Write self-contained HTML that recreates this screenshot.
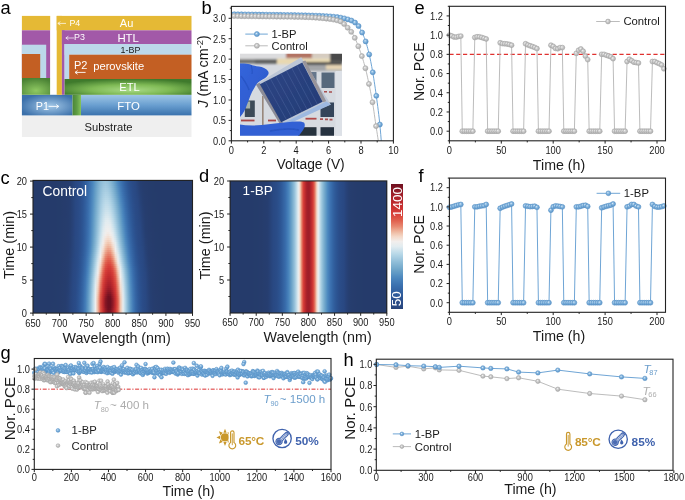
<!DOCTYPE html>
<html><head><meta charset="utf-8"><style>
html,body{margin:0;padding:0;background:#fff;}
body>*{filter:blur(0.3px);}
body{width:685px;height:500px;position:relative;overflow:hidden;font-family:"Liberation Sans", sans-serif;}
.hm{position:absolute;}
.hm div{position:absolute;left:0;width:100%;}
svg{position:absolute;left:0;top:0;}
</style></head><body>
<div class="hm" style="left:33.0px;top:180.4px;width:159.5px;height:132.7px;overflow:hidden"><div style="top:0px;height:2.6px;background:linear-gradient(90deg,#253b6b 0px,#253b6b 2.5px,#253b6b 5px,#253b6b 7.5px,#253b6b 10px,#253b6b 12.5px,#253b6b 15px,#253b6b 17.5px,#253b6b 20px,#253b6b 22.5px,#253c6b 25px,#253c6b 27.5px,#263c6c 30px,#263c6d 32.5px,#263d6e 35px,#263e71 37.5px,#274378 40px,#294882 42.5px,#2a4a86 45px,#2b4e8b 47.5px,#2c5593 50px,#315e9d 52.5px,#3769a8 55px,#4077b3 57.5px,#4c87bf 60px,#619ac5 62.5px,#76abcd 65px,#88b8d5 67.5px,#94c1da 70px,#99c3dc 72.5px,#93c0d9 75px,#86b6d4 77.5px,#73a9cb 80px,#5e98c4 82.5px,#4a85bd 85px,#3e75b2 87.5px,#3667a6 90px,#305c9b 92.5px,#2c5492 95px,#2a4d8a 97.5px,#2a4a85 100px,#294881 102.5px,#274277 105px,#263e70 107.5px,#263d6e 110px,#263c6d 112.5px,#253c6c 115px,#253c6b 117.5px,#253c6b 120px,#253b6b 122.5px,#253b6b 125px,#253b6b 127.5px,#253b6b 130px,#253b6b 132.5px,#253b6b 135px,#253b6b 137.5px,#253b6b 140px,#253b6b 142.5px,#253b6b 145px,#253b6b 147.5px,#253b6b 150px,#253b6b 152.5px,#253b6b 155px,#253b6b 157.5px)"></div><div style="top:2px;height:2.6px;background:linear-gradient(90deg,#253b6b 0px,#253b6b 2.5px,#253b6b 5px,#253b6b 7.5px,#253b6b 10px,#253b6b 12.5px,#253b6b 15px,#253b6b 17.5px,#253b6b 20px,#253b6b 22.5px,#253c6b 25px,#253c6b 27.5px,#263c6c 30px,#263c6d 32.5px,#263d6e 35px,#263e71 37.5px,#274379 40px,#294882 42.5px,#2a4a86 45px,#2b4e8b 47.5px,#2c5593 50px,#315e9d 52.5px,#3769a8 55px,#4077b4 57.5px,#4c88bf 60px,#629bc5 62.5px,#78accd 65px,#8ab9d6 67.5px,#97c2db 70px,#9cc6dd 72.5px,#97c2db 75px,#89b9d5 77.5px,#77abcd 80px,#619bc5 82.5px,#4c87bf 85px,#4077b3 87.5px,#3769a8 90px,#315e9d 92.5px,#2c5593 95px,#2b4e8b 97.5px,#2a4a85 100px,#294882 102.5px,#274378 105px,#263e71 107.5px,#263d6e 110px,#263c6d 112.5px,#263c6c 115px,#253c6b 117.5px,#253c6b 120px,#253b6b 122.5px,#253b6b 125px,#253b6b 127.5px,#253b6b 130px,#253b6b 132.5px,#253b6b 135px,#253b6b 137.5px,#253b6b 140px,#253b6b 142.5px,#253b6b 145px,#253b6b 147.5px,#253b6b 150px,#253b6b 152.5px,#253b6b 155px,#253b6b 157.5px)"></div><div style="top:4px;height:2.6px;background:linear-gradient(90deg,#253b6b 0px,#253b6b 2.5px,#253b6b 5px,#253b6b 7.5px,#253b6b 10px,#253b6b 12.5px,#253b6b 15px,#253b6b 17.5px,#253b6b 20px,#253b6b 22.5px,#253c6b 25px,#253c6b 27.5px,#263c6c 30px,#263c6d 32.5px,#263d6e 35px,#263e71 37.5px,#274379 40px,#294882 42.5px,#2a4a86 45px,#2b4e8b 47.5px,#2c5593 50px,#315e9d 52.5px,#376aa9 55px,#4078b4 57.5px,#4d89bf 60px,#639cc6 62.5px,#79adce 65px,#8cbbd6 67.5px,#9ac4dc 70px,#a0c8de 72.5px,#9bc5dc 75px,#8dbbd7 77.5px,#7aaecf 80px,#659dc6 82.5px,#4e8ac0 85px,#4179b5 87.5px,#376aa9 90px,#315f9e 92.5px,#2d5594 95px,#2b4f8b 97.5px,#2a4b86 100px,#294882 102.5px,#284379 105px,#263f71 107.5px,#263d6e 110px,#263d6d 112.5px,#263c6c 115px,#253c6c 117.5px,#253c6b 120px,#253b6b 122.5px,#253b6b 125px,#253b6b 127.5px,#253b6b 130px,#253b6b 132.5px,#253b6b 135px,#253b6b 137.5px,#253b6b 140px,#253b6b 142.5px,#253b6b 145px,#253b6b 147.5px,#253b6b 150px,#253b6b 152.5px,#253b6b 155px,#253b6b 157.5px)"></div><div style="top:6px;height:2.6px;background:linear-gradient(90deg,#253b6b 0px,#253b6b 2.5px,#253b6b 5px,#253b6b 7.5px,#253b6b 10px,#253b6b 12.5px,#253b6b 15px,#253b6b 17.5px,#253b6b 20px,#253b6b 22.5px,#253c6b 25px,#253c6b 27.5px,#263c6c 30px,#263c6d 32.5px,#263d6e 35px,#263e71 37.5px,#274379 40px,#294882 42.5px,#2a4a86 45px,#2b4e8b 47.5px,#2c5593 50px,#315e9d 52.5px,#376aa9 55px,#4178b4 57.5px,#4e8ac0 60px,#659dc6 62.5px,#7baecf 65px,#8ebcd7 67.5px,#9dc6dd 70px,#a3cae0 72.5px,#9ec7de 75px,#90bed8 77.5px,#7eb1d0 80px,#68a0c7 82.5px,#528dc1 85px,#437bb6 87.5px,#386cab 90px,#32609f 92.5px,#2d5695 95px,#2b4f8c 97.5px,#2a4b86 100px,#294883 102.5px,#28447a 105px,#263f72 107.5px,#263d6f 110px,#263d6d 112.5px,#263c6c 115px,#253c6c 117.5px,#253c6b 120px,#253b6b 122.5px,#253b6b 125px,#253b6b 127.5px,#253b6b 130px,#253b6b 132.5px,#253b6b 135px,#253b6b 137.5px,#253b6b 140px,#253b6b 142.5px,#253b6b 145px,#253b6b 147.5px,#253b6b 150px,#253b6b 152.5px,#253b6b 155px,#253b6b 157.5px)"></div><div style="top:8px;height:2.6px;background:linear-gradient(90deg,#253b6b 0px,#253b6b 2.5px,#253b6b 5px,#253b6b 7.5px,#253b6b 10px,#253b6b 12.5px,#253b6b 15px,#253b6b 17.5px,#253b6b 20px,#253b6b 22.5px,#253c6b 25px,#253c6b 27.5px,#263c6c 30px,#263c6d 32.5px,#263d6e 35px,#263e71 37.5px,#274379 40px,#294882 42.5px,#2a4a86 45px,#2b4e8b 47.5px,#2c5594 50px,#315f9e 52.5px,#376aa9 55px,#4179b5 57.5px,#4f8bc0 60px,#669fc7 62.5px,#7cb0d0 65px,#90bed8 67.5px,#a0c8de 70px,#a6cce1 72.5px,#a2cadf 75px,#94c1da 77.5px,#82b3d2 80px,#6ba3c8 82.5px,#5590c2 85px,#447db8 87.5px,#396dac 90px,#3361a0 92.5px,#2d5796 95px,#2b508d 97.5px,#2a4b87 100px,#294983 102.5px,#28447b 105px,#263f73 107.5px,#263d6f 110px,#263d6d 112.5px,#263c6c 115px,#253c6c 117.5px,#253c6b 120px,#253b6b 122.5px,#253b6b 125px,#253b6b 127.5px,#253b6b 130px,#253b6b 132.5px,#253b6b 135px,#253b6b 137.5px,#253b6b 140px,#253b6b 142.5px,#253b6b 145px,#253b6b 147.5px,#253b6b 150px,#253b6b 152.5px,#253b6b 155px,#253b6b 157.5px)"></div><div style="top:10px;height:2.6px;background:linear-gradient(90deg,#253b6b 0px,#253b6b 2.5px,#253b6b 5px,#253b6b 7.5px,#253b6b 10px,#253b6b 12.5px,#253b6b 15px,#253b6b 17.5px,#253b6b 20px,#253b6b 22.5px,#253c6b 25px,#253c6b 27.5px,#263c6c 30px,#263c6d 32.5px,#263d6e 35px,#263e71 37.5px,#274379 40px,#294882 42.5px,#2a4a86 45px,#2b4e8b 47.5px,#2c5594 50px,#315f9e 52.5px,#376aa9 55px,#4179b5 57.5px,#508bc0 60px,#67a0c7 62.5px,#7eb1d0 65px,#92bfd9 67.5px,#a2cadf 70px,#a9cee2 72.5px,#a6cce1 75px,#98c3dc 77.5px,#85b6d3 80px,#6fa6ca 82.5px,#5892c2 85px,#467fb9 87.5px,#3a6ead 90px,#3363a2 92.5px,#2e5897 95px,#2b518e 97.5px,#2a4b87 100px,#294983 102.5px,#28457c 105px,#274073 107.5px,#263d6f 110px,#263d6d 112.5px,#263c6c 115px,#253c6c 117.5px,#253c6b 120px,#253b6b 122.5px,#253b6b 125px,#253b6b 127.5px,#253b6b 130px,#253b6b 132.5px,#253b6b 135px,#253b6b 137.5px,#253b6b 140px,#253b6b 142.5px,#253b6b 145px,#253b6b 147.5px,#253b6b 150px,#253b6b 152.5px,#253b6b 155px,#253b6b 157.5px)"></div><div style="top:12px;height:2.6px;background:linear-gradient(90deg,#253b6b 0px,#253b6b 2.5px,#253b6b 5px,#253b6b 7.5px,#253b6b 10px,#253b6b 12.5px,#253b6b 15px,#253b6b 17.5px,#253b6b 20px,#253b6b 22.5px,#253c6b 25px,#253c6b 27.5px,#263c6c 30px,#263c6d 32.5px,#263d6e 35px,#263e71 37.5px,#274379 40px,#294882 42.5px,#2a4a86 45px,#2b4e8b 47.5px,#2d5594 50px,#315f9e 52.5px,#386aa9 55px,#427ab5 57.5px,#518cc0 60px,#68a0c7 62.5px,#80b2d1 65px,#94c0da 67.5px,#a5cce1 70px,#add1e4 72.5px,#aacfe2 75px,#9dc6dd 77.5px,#89b9d5 80px,#73a8cb 82.5px,#5b95c3 85px,#4782bb 87.5px,#3b70af 90px,#3464a3 92.5px,#2e5998 95px,#2b518f 97.5px,#2a4c87 100px,#294984 102.5px,#28457d 105px,#274074 107.5px,#263e6f 110px,#263d6d 112.5px,#263c6c 115px,#253c6c 117.5px,#253c6b 120px,#253c6b 122.5px,#253b6b 125px,#253b6b 127.5px,#253b6b 130px,#253b6b 132.5px,#253b6b 135px,#253b6b 137.5px,#253b6b 140px,#253b6b 142.5px,#253b6b 145px,#253b6b 147.5px,#253b6b 150px,#253b6b 152.5px,#253b6b 155px,#253b6b 157.5px)"></div><div style="top:14px;height:2.6px;background:linear-gradient(90deg,#253b6b 0px,#253b6b 2.5px,#253b6b 5px,#253b6b 7.5px,#253b6b 10px,#253b6b 12.5px,#253b6b 15px,#253b6b 17.5px,#253b6b 20px,#253b6b 22.5px,#253c6b 25px,#253c6b 27.5px,#263c6c 30px,#263c6d 32.5px,#263d6e 35px,#263e71 37.5px,#274379 40px,#294882 42.5px,#2a4a86 45px,#2b4e8b 47.5px,#2d5594 50px,#315f9e 52.5px,#386baa 55px,#427ab6 57.5px,#528dc1 60px,#69a1c7 62.5px,#81b3d2 65px,#96c2db 67.5px,#a8cde2 70px,#b0d3e5 72.5px,#add1e4 75px,#a1c9df 77.5px,#8dbbd7 80px,#76abcd 82.5px,#5e98c4 85px,#4984bc 87.5px,#3c72b0 90px,#3565a4 92.5px,#2f5a99 95px,#2c5290 97.5px,#2a4c88 100px,#294984 102.5px,#28467e 105px,#274175 107.5px,#263e6f 110px,#263d6e 112.5px,#263c6c 115px,#253c6c 117.5px,#253c6b 120px,#253c6b 122.5px,#253b6b 125px,#253b6b 127.5px,#253b6b 130px,#253b6b 132.5px,#253b6b 135px,#253b6b 137.5px,#253b6b 140px,#253b6b 142.5px,#253b6b 145px,#253b6b 147.5px,#253b6b 150px,#253b6b 152.5px,#253b6b 155px,#253b6b 157.5px)"></div><div style="top:16px;height:2.6px;background:linear-gradient(90deg,#253b6b 0px,#253b6b 2.5px,#253b6b 5px,#253b6b 7.5px,#253b6b 10px,#253b6b 12.5px,#253b6b 15px,#253b6b 17.5px,#253b6b 20px,#253b6b 22.5px,#253c6b 25px,#253c6b 27.5px,#263c6c 30px,#263c6d 32.5px,#263d6e 35px,#263e71 37.5px,#274379 40px,#294882 42.5px,#2a4a86 45px,#2b4f8b 47.5px,#2d5594 50px,#315f9e 52.5px,#386baa 55px,#427bb6 57.5px,#528ec1 60px,#6aa2c8 62.5px,#83b4d2 65px,#98c3dc 67.5px,#aacfe3 70px,#b3d5e6 72.5px,#b1d4e5 75px,#a5cbe0 77.5px,#91bed8 80px,#7aaecf 82.5px,#629bc5 85px,#4b86be 87.5px,#3e74b2 90px,#3567a6 92.5px,#2f5b9a 95px,#2c5391 97.5px,#2a4c88 100px,#294a84 102.5px,#29467f 105px,#274176 107.5px,#263e70 110px,#263d6e 112.5px,#263c6d 115px,#253c6c 117.5px,#253c6b 120px,#253c6b 122.5px,#253b6b 125px,#253b6b 127.5px,#253b6b 130px,#253b6b 132.5px,#253b6b 135px,#253b6b 137.5px,#253b6b 140px,#253b6b 142.5px,#253b6b 145px,#253b6b 147.5px,#253b6b 150px,#253b6b 152.5px,#253b6b 155px,#253b6b 157.5px)"></div><div style="top:18px;height:2.6px;background:linear-gradient(90deg,#253b6b 0px,#253b6b 2.5px,#253b6b 5px,#253b6b 7.5px,#253b6b 10px,#253b6b 12.5px,#253b6b 15px,#253b6b 17.5px,#253b6b 20px,#253b6b 22.5px,#253c6b 25px,#253c6b 27.5px,#263c6c 30px,#263c6d 32.5px,#263d6e 35px,#263e71 37.5px,#274379 40px,#294882 42.5px,#2a4a86 45px,#2b4f8b 47.5px,#2d5594 50px,#315f9e 52.5px,#386baa 55px,#437bb6 57.5px,#538ec1 60px,#6ba3c8 62.5px,#84b5d3 65px,#9bc5dc 67.5px,#add1e4 70px,#b6d7e7 72.5px,#b5d6e7 75px,#a9cee2 77.5px,#95c1da 80px,#7eb1d0 82.5px,#659ec6 85px,#4d89bf 87.5px,#3f76b3 90px,#3668a7 92.5px,#305c9b 95px,#2c5392 97.5px,#2a4d89 100px,#294a85 102.5px,#294780 105px,#274276 107.5px,#263e70 110px,#263d6e 112.5px,#263c6d 115px,#253c6c 117.5px,#253c6b 120px,#253c6b 122.5px,#253b6b 125px,#253b6b 127.5px,#253b6b 130px,#253b6b 132.5px,#253b6b 135px,#253b6b 137.5px,#253b6b 140px,#253b6b 142.5px,#253b6b 145px,#253b6b 147.5px,#253b6b 150px,#253b6b 152.5px,#253b6b 155px,#253b6b 157.5px)"></div><div style="top:20px;height:2.6px;background:linear-gradient(90deg,#253b6b 0px,#253b6b 2.5px,#253b6b 5px,#253b6b 7.5px,#253b6b 10px,#253b6b 12.5px,#253b6b 15px,#253b6b 17.5px,#253b6b 20px,#253b6b 22.5px,#253c6b 25px,#253c6b 27.5px,#263c6c 30px,#263c6d 32.5px,#263d6e 35px,#263e71 37.5px,#274379 40px,#294882 42.5px,#2a4a86 45px,#2b4f8b 47.5px,#2d5594 50px,#325f9e 52.5px,#386baa 55px,#437bb6 57.5px,#548fc1 60px,#6ca4c9 62.5px,#85b6d4 65px,#9dc6dd 67.5px,#b0d2e5 70px,#bad9e8 72.5px,#b9d8e8 75px,#add1e4 77.5px,#99c4dc 80px,#82b3d2 82.5px,#69a1c7 85px,#508bc0 87.5px,#4179b5 90px,#3769a8 92.5px,#315e9d 95px,#2c5492 97.5px,#2a4e8a 100px,#2a4a85 102.5px,#294881 105px,#274277 107.5px,#263e70 110px,#263d6e 112.5px,#263c6d 115px,#253c6c 117.5px,#253c6b 120px,#253c6b 122.5px,#253b6b 125px,#253b6b 127.5px,#253b6b 130px,#253b6b 132.5px,#253b6b 135px,#253b6b 137.5px,#253b6b 140px,#253b6b 142.5px,#253b6b 145px,#253b6b 147.5px,#253b6b 150px,#253b6b 152.5px,#253b6b 155px,#253b6b 157.5px)"></div><div style="top:22px;height:2.6px;background:linear-gradient(90deg,#253b6b 0px,#253b6b 2.5px,#253b6b 5px,#253b6b 7.5px,#253b6b 10px,#253b6b 12.5px,#253b6b 15px,#253b6b 17.5px,#253b6b 20px,#253b6b 22.5px,#253c6b 25px,#253c6b 27.5px,#263c6c 30px,#263c6d 32.5px,#263d6e 35px,#263e71 37.5px,#274379 40px,#294882 42.5px,#2a4a86 45px,#2b4f8b 47.5px,#2d5594 50px,#325f9e 52.5px,#386baa 55px,#437cb7 57.5px,#558fc1 60px,#6ea5c9 62.5px,#87b7d4 65px,#9fc7de 67.5px,#b2d4e6 70px,#bddbe9 72.5px,#bddae9 75px,#b1d4e5 77.5px,#9dc7de 80px,#85b6d4 82.5px,#6ca4c8 85px,#538ec1 87.5px,#437bb6 90px,#386baa 92.5px,#315f9e 95px,#2c5593 97.5px,#2b4e8b 100px,#2a4a85 102.5px,#294882 105px,#274278 107.5px,#263e70 110px,#263d6e 112.5px,#263c6d 115px,#263c6c 117.5px,#253c6b 120px,#253c6b 122.5px,#253b6b 125px,#253b6b 127.5px,#253b6b 130px,#253b6b 132.5px,#253b6b 135px,#253b6b 137.5px,#253b6b 140px,#253b6b 142.5px,#253b6b 145px,#253b6b 147.5px,#253b6b 150px,#253b6b 152.5px,#253b6b 155px,#253b6b 157.5px)"></div><div style="top:24px;height:2.6px;background:linear-gradient(90deg,#253b6b 0px,#253b6b 2.5px,#253b6b 5px,#253b6b 7.5px,#253b6b 10px,#253b6b 12.5px,#253b6b 15px,#253b6b 17.5px,#253b6b 20px,#253b6b 22.5px,#253c6b 25px,#253c6b 27.5px,#263c6c 30px,#263c6d 32.5px,#263d6e 35px,#263e71 37.5px,#274379 40px,#294882 42.5px,#2a4a86 45px,#2b4f8b 47.5px,#2d5594 50px,#32609f 52.5px,#386cab 55px,#447cb7 57.5px,#5590c2 60px,#6fa6ca 62.5px,#88b8d5 65px,#a1c9df 67.5px,#b5d6e7 70px,#c1dcea 72.5px,#c1dcea 75px,#b5d6e7 77.5px,#a2c9df 80px,#89b9d5 82.5px,#70a6ca 85px,#5691c2 87.5px,#447db7 90px,#386cab 92.5px,#32609f 95px,#2d5694 97.5px,#2b4f8c 100px,#2a4b86 102.5px,#294882 105px,#274379 107.5px,#263f71 110px,#263d6e 112.5px,#263c6d 115px,#263c6c 117.5px,#253c6b 120px,#253c6b 122.5px,#253b6b 125px,#253b6b 127.5px,#253b6b 130px,#253b6b 132.5px,#253b6b 135px,#253b6b 137.5px,#253b6b 140px,#253b6b 142.5px,#253b6b 145px,#253b6b 147.5px,#253b6b 150px,#253b6b 152.5px,#253b6b 155px,#253b6b 157.5px)"></div><div style="top:26px;height:2.6px;background:linear-gradient(90deg,#253b6b 0px,#253b6b 2.5px,#253b6b 5px,#253b6b 7.5px,#253b6b 10px,#253b6b 12.5px,#253b6b 15px,#253b6b 17.5px,#253b6b 20px,#253b6b 22.5px,#253c6b 25px,#253c6b 27.5px,#263c6c 30px,#263c6d 32.5px,#263d6e 35px,#263e71 37.5px,#274379 40px,#294882 42.5px,#2a4a86 45px,#2b4f8b 47.5px,#2d5694 50px,#32609f 52.5px,#386cab 55px,#447db7 57.5px,#5691c2 60px,#70a6ca 62.5px,#8ab9d5 65px,#a3cae0 67.5px,#b7d7e8 70px,#c4deea 72.5px,#c5deea 75px,#b9d9e8 77.5px,#a5cce1 80px,#8dbbd7 82.5px,#73a9cb 85px,#5993c3 87.5px,#457fb9 90px,#396dac 92.5px,#3261a0 95px,#2d5695 97.5px,#2b4f8c 100px,#2a4b86 102.5px,#294883 105px,#28437a 107.5px,#263f72 110px,#263d6f 112.5px,#263d6d 115px,#263c6c 117.5px,#253c6c 120px,#253c6b 122.5px,#253b6b 125px,#253b6b 127.5px,#253b6b 130px,#253b6b 132.5px,#253b6b 135px,#253b6b 137.5px,#253b6b 140px,#253b6b 142.5px,#253b6b 145px,#253b6b 147.5px,#253b6b 150px,#253b6b 152.5px,#253b6b 155px,#253b6b 157.5px)"></div><div style="top:28px;height:2.6px;background:linear-gradient(90deg,#253b6b 0px,#253b6b 2.5px,#253b6b 5px,#253b6b 7.5px,#253b6b 10px,#253b6b 12.5px,#253b6b 15px,#253b6b 17.5px,#253b6b 20px,#253b6b 22.5px,#253c6b 25px,#253c6b 27.5px,#263c6c 30px,#263c6d 32.5px,#263d6e 35px,#263e71 37.5px,#274379 40px,#294882 42.5px,#2a4a86 45px,#2b4f8b 47.5px,#2d5694 50px,#32609f 52.5px,#386cab 55px,#447db8 57.5px,#5792c2 60px,#71a7cb 62.5px,#8bbad6 65px,#a5cbe0 67.5px,#bad9e8 70px,#c7dfeb 72.5px,#c8e0eb 75px,#bddae9 77.5px,#a9cee2 80px,#90bed8 82.5px,#76abcd 85px,#5c96c4 87.5px,#4781ba 90px,#3a6fae 92.5px,#3362a1 95px,#2d5796 97.5px,#2b508d 100px,#2a4b86 102.5px,#294983 105px,#28447a 107.5px,#263f72 110px,#263d6f 112.5px,#263d6d 115px,#263c6c 117.5px,#253c6c 120px,#253c6b 122.5px,#253b6b 125px,#253b6b 127.5px,#253b6b 130px,#253b6b 132.5px,#253b6b 135px,#253b6b 137.5px,#253b6b 140px,#253b6b 142.5px,#253b6b 145px,#253b6b 147.5px,#253b6b 150px,#253b6b 152.5px,#253b6b 155px,#253b6b 157.5px)"></div><div style="top:30px;height:2.6px;background:linear-gradient(90deg,#253b6b 0px,#253b6b 2.5px,#253b6b 5px,#253b6b 7.5px,#253b6b 10px,#253b6b 12.5px,#253b6b 15px,#253b6b 17.5px,#253b6b 20px,#253b6b 22.5px,#253c6b 25px,#253c6b 27.5px,#263c6c 30px,#263c6d 32.5px,#263d6e 35px,#263f71 37.5px,#274379 40px,#294882 42.5px,#2a4b86 45px,#2b4f8c 47.5px,#2d5694 50px,#32609f 52.5px,#396cab 55px,#457eb8 57.5px,#5892c2 60px,#72a8cb 62.5px,#8dbbd7 65px,#a7cde1 67.5px,#bddae9 70px,#cbe1ec 72.5px,#cce2ec 75px,#c1ddea 77.5px,#add1e4 80px,#93c0da 82.5px,#79adce 85px,#5f98c4 87.5px,#4883bb 90px,#3b70af 92.5px,#3463a2 95px,#2e5897 97.5px,#2b508e 100px,#2a4b87 102.5px,#294983 105px,#28447b 107.5px,#264073 110px,#263d6f 112.5px,#263d6d 115px,#263c6c 117.5px,#253c6c 120px,#253c6b 122.5px,#253b6b 125px,#253b6b 127.5px,#253b6b 130px,#253b6b 132.5px,#253b6b 135px,#253b6b 137.5px,#253b6b 140px,#253b6b 142.5px,#253b6b 145px,#253b6b 147.5px,#253b6b 150px,#253b6b 152.5px,#253b6b 155px,#253b6b 157.5px)"></div><div style="top:32px;height:2.6px;background:linear-gradient(90deg,#253b6b 0px,#253b6b 2.5px,#253b6b 5px,#253b6b 7.5px,#253b6b 10px,#253b6b 12.5px,#253b6b 15px,#253b6b 17.5px,#253b6b 20px,#253b6b 22.5px,#253c6b 25px,#253c6b 27.5px,#263c6c 30px,#263c6d 32.5px,#263d6e 35px,#263f71 37.5px,#274379 40px,#294882 42.5px,#2a4b86 45px,#2b4f8c 47.5px,#2d5695 50px,#32609f 52.5px,#396dac 55px,#457eb8 57.5px,#5993c3 60px,#73a9cc 62.5px,#8ebcd7 65px,#a9cee2 67.5px,#c0dcea 70px,#cfe3ec 72.5px,#d1e4ed 75px,#c6dfeb 77.5px,#b1d3e5 80px,#97c2db 82.5px,#7cafd0 85px,#619ac5 87.5px,#4984bc 90px,#3c72b0 92.5px,#3464a3 95px,#2e5998 97.5px,#2b518e 100px,#2a4b87 102.5px,#294983 105px,#28457c 107.5px,#274073 110px,#263d6f 112.5px,#263d6d 115px,#263c6c 117.5px,#253c6c 120px,#253c6b 122.5px,#253b6b 125px,#253b6b 127.5px,#253b6b 130px,#253b6b 132.5px,#253b6b 135px,#253b6b 137.5px,#253b6b 140px,#253b6b 142.5px,#253b6b 145px,#253b6b 147.5px,#253b6b 150px,#253b6b 152.5px,#253b6b 155px,#253b6b 157.5px)"></div><div style="top:34px;height:2.6px;background:linear-gradient(90deg,#253b6b 0px,#253b6b 2.5px,#253b6b 5px,#253b6b 7.5px,#253b6b 10px,#253b6b 12.5px,#253b6b 15px,#253b6b 17.5px,#253b6b 20px,#253b6b 22.5px,#253c6b 25px,#253c6b 27.5px,#263c6c 30px,#263c6d 32.5px,#263d6e 35px,#263f71 37.5px,#274379 40px,#294882 42.5px,#2a4b86 45px,#2b4f8c 47.5px,#2d5695 50px,#3261a0 52.5px,#396dac 55px,#457fb9 57.5px,#5a94c3 60px,#75aacc 62.5px,#90bdd8 65px,#acd0e3 67.5px,#c3ddea 70px,#d3e5ed 72.5px,#d5e6ee 75px,#cbe1ec 77.5px,#b5d6e7 80px,#9bc5dc 82.5px,#7fb2d1 85px,#649dc6 87.5px,#4b86be 90px,#3d73b1 92.5px,#3565a4 95px,#2e5a99 97.5px,#2c528f 100px,#2a4c87 102.5px,#294984 105px,#28457d 107.5px,#274074 110px,#263e6f 112.5px,#263d6d 115px,#263c6c 117.5px,#253c6c 120px,#253c6b 122.5px,#253c6b 125px,#253b6b 127.5px,#253b6b 130px,#253b6b 132.5px,#253b6b 135px,#253b6b 137.5px,#253b6b 140px,#253b6b 142.5px,#253b6b 145px,#253b6b 147.5px,#253b6b 150px,#253b6b 152.5px,#253b6b 155px,#253b6b 157.5px)"></div><div style="top:36px;height:2.6px;background:linear-gradient(90deg,#253b6b 0px,#253b6b 2.5px,#253b6b 5px,#253b6b 7.5px,#253b6b 10px,#253b6b 12.5px,#253b6b 15px,#253b6b 17.5px,#253b6b 20px,#253b6b 22.5px,#253c6b 25px,#253c6c 27.5px,#263c6c 30px,#263c6d 32.5px,#263d6e 35px,#263f71 37.5px,#284379 40px,#294882 42.5px,#2a4b86 45px,#2b4f8c 47.5px,#2d5695 50px,#3261a0 52.5px,#396dac 55px,#467fb9 57.5px,#5a95c3 60px,#76abcd 62.5px,#91bfd9 65px,#aed1e4 67.5px,#c7dfeb 70px,#d7e7ee 72.5px,#dae8ee 75px,#cfe3ec 77.5px,#b9d9e8 80px,#9fc7de 82.5px,#82b4d2 85px,#669fc7 87.5px,#4c88bf 90px,#3e75b2 92.5px,#3566a5 95px,#2f5a99 97.5px,#2c5290 100px,#2a4c88 102.5px,#294984 105px,#28467e 107.5px,#274074 110px,#263e6f 112.5px,#263d6e 115px,#263c6c 117.5px,#253c6c 120px,#253c6b 122.5px,#253c6b 125px,#253b6b 127.5px,#253b6b 130px,#253b6b 132.5px,#253b6b 135px,#253b6b 137.5px,#253b6b 140px,#253b6b 142.5px,#253b6b 145px,#253b6b 147.5px,#253b6b 150px,#253b6b 152.5px,#253b6b 155px,#253b6b 157.5px)"></div><div style="top:38px;height:2.6px;background:linear-gradient(90deg,#253b6b 0px,#253b6b 2.5px,#253b6b 5px,#253b6b 7.5px,#253b6b 10px,#253b6b 12.5px,#253b6b 15px,#253b6b 17.5px,#253b6b 20px,#253b6b 22.5px,#253c6b 25px,#253c6c 27.5px,#263c6c 30px,#263d6d 32.5px,#263d6e 35px,#263f71 37.5px,#284379 40px,#294883 42.5px,#2a4b86 45px,#2b4f8c 47.5px,#2d5695 50px,#3261a0 52.5px,#396dac 55px,#4680b9 57.5px,#5b95c3 60px,#77accd 62.5px,#93c0d9 65px,#b0d3e5 67.5px,#cae1eb 70px,#dbe9ef 72.5px,#dfeaef 75px,#d4e5ed 77.5px,#bedbe9 80px,#a2cadf 82.5px,#85b6d3 85px,#69a1c7 87.5px,#4e8ac0 90px,#3f76b3 92.5px,#3667a6 95px,#2f5b9a 97.5px,#2c5390 100px,#2a4c88 102.5px,#294984 105px,#28467e 107.5px,#274175 110px,#263e6f 112.5px,#263d6e 115px,#263c6d 117.5px,#253c6c 120px,#253c6b 122.5px,#253c6b 125px,#253b6b 127.5px,#253b6b 130px,#253b6b 132.5px,#253b6b 135px,#253b6b 137.5px,#253b6b 140px,#253b6b 142.5px,#253b6b 145px,#253b6b 147.5px,#253b6b 150px,#253b6b 152.5px,#253b6b 155px,#253b6b 157.5px)"></div><div style="top:40px;height:2.6px;background:linear-gradient(90deg,#253b6b 0px,#253b6b 2.5px,#253b6b 5px,#253b6b 7.5px,#253b6b 10px,#253b6b 12.5px,#253b6b 15px,#253b6b 17.5px,#253b6b 20px,#253b6b 22.5px,#253c6b 25px,#253c6c 27.5px,#263c6c 30px,#263d6d 32.5px,#263d6e 35px,#263f71 37.5px,#284379 40px,#294883 42.5px,#2a4b86 45px,#2b4f8c 47.5px,#2d5695 50px,#3261a0 52.5px,#396ead 55px,#4680ba 57.5px,#5c96c4 60px,#78acce 62.5px,#95c1da 65px,#b3d4e6 67.5px,#cde2ec 70px,#dfebef 72.5px,#e3ecf0 75px,#d9e8ee 77.5px,#c3ddea 80px,#a6cce1 82.5px,#88b8d5 85px,#6ca3c8 87.5px,#508cc0 90px,#4078b4 92.5px,#3668a7 95px,#305c9b 97.5px,#2c5391 100px,#2a4d89 102.5px,#294a84 105px,#29467f 107.5px,#274176 110px,#263e70 112.5px,#263d6e 115px,#263c6d 117.5px,#253c6c 120px,#253c6b 122.5px,#253c6b 125px,#253b6b 127.5px,#253b6b 130px,#253b6b 132.5px,#253b6b 135px,#253b6b 137.5px,#253b6b 140px,#253b6b 142.5px,#253b6b 145px,#253b6b 147.5px,#253b6b 150px,#253b6b 152.5px,#253b6b 155px,#253b6b 157.5px)"></div><div style="top:42px;height:2.6px;background:linear-gradient(90deg,#253b6b 0px,#253b6b 2.5px,#253b6b 5px,#253b6b 7.5px,#253b6b 10px,#253b6b 12.5px,#253b6b 15px,#253b6b 17.5px,#253b6b 20px,#253b6b 22.5px,#253c6b 25px,#253c6c 27.5px,#263c6c 30px,#263d6d 32.5px,#263d6e 35px,#263f71 37.5px,#284379 40px,#294883 42.5px,#2a4b86 45px,#2b4f8c 47.5px,#2d5695 50px,#3361a0 52.5px,#396ead 55px,#4780ba 57.5px,#5d97c4 60px,#79adce 62.5px,#97c2db 65px,#b5d6e7 67.5px,#d1e4ed 70px,#e3ecf0 72.5px,#e5ecef 75px,#deeaef 77.5px,#c7dfeb 80px,#aacfe3 82.5px,#8cbad6 85px,#6ea5c9 87.5px,#538ec1 90px,#4179b5 92.5px,#3769a8 95px,#305d9c 97.5px,#2c5492 100px,#2a4d89 102.5px,#294a85 105px,#294780 107.5px,#274176 110px,#263e70 112.5px,#263d6e 115px,#263c6d 117.5px,#253c6c 120px,#253c6b 122.5px,#253c6b 125px,#253b6b 127.5px,#253b6b 130px,#253b6b 132.5px,#253b6b 135px,#253b6b 137.5px,#253b6b 140px,#253b6b 142.5px,#253b6b 145px,#253b6b 147.5px,#253b6b 150px,#253b6b 152.5px,#253b6b 155px,#253b6b 157.5px)"></div><div style="top:44px;height:2.6px;background:linear-gradient(90deg,#253b6b 0px,#253b6b 2.5px,#253b6b 5px,#253b6b 7.5px,#253b6b 10px,#253b6b 12.5px,#253b6b 15px,#253b6b 17.5px,#253b6b 20px,#253b6b 22.5px,#253c6b 25px,#253c6c 27.5px,#263c6c 30px,#263d6d 32.5px,#263d6e 35px,#263f71 37.5px,#284379 40px,#294883 42.5px,#2a4b86 45px,#2b4f8c 47.5px,#2d5795 50px,#3361a0 52.5px,#3a6ead 55px,#4781ba 57.5px,#5e97c4 60px,#7aaecf 62.5px,#98c3db 65px,#b7d7e8 67.5px,#d4e5ed 70px,#e5ecef 72.5px,#e8edee 75px,#e3ecf0 77.5px,#cce2ec 80px,#aed2e4 82.5px,#8fbdd8 85px,#71a7cb 87.5px,#5590c2 90px,#437bb6 92.5px,#376aa9 95px,#315e9d 97.5px,#2c5492 100px,#2a4d8a 102.5px,#294a85 105px,#294781 107.5px,#274277 110px,#263e70 112.5px,#263d6e 115px,#263c6d 117.5px,#253c6c 120px,#253c6b 122.5px,#253c6b 125px,#253b6b 127.5px,#253b6b 130px,#253b6b 132.5px,#253b6b 135px,#253b6b 137.5px,#253b6b 140px,#253b6b 142.5px,#253b6b 145px,#253b6b 147.5px,#253b6b 150px,#253b6b 152.5px,#253b6b 155px,#253b6b 157.5px)"></div><div style="top:46px;height:2.6px;background:linear-gradient(90deg,#253b6b 0px,#253b6b 2.5px,#253b6b 5px,#253b6b 7.5px,#253b6b 10px,#253b6b 12.5px,#253b6b 15px,#253b6b 17.5px,#253b6b 20px,#253b6b 22.5px,#253c6b 25px,#253c6c 27.5px,#263c6c 30px,#263d6d 32.5px,#263d6e 35px,#263f71 37.5px,#284379 40px,#294883 42.5px,#2a4b86 45px,#2b4f8c 47.5px,#2d5796 50px,#3362a1 52.5px,#3a6ead 55px,#4781ba 57.5px,#5e98c4 60px,#7bafcf 62.5px,#9ac4dc 65px,#bad9e8 67.5px,#d8e7ee 70px,#e8edef 72.5px,#ebedee 75px,#e6ecef 77.5px,#d1e4ed 80px,#b2d4e6 82.5px,#92bfd9 85px,#74aacc 87.5px,#5892c2 90px,#447db7 92.5px,#386baa 95px,#315f9e 97.5px,#2c5593 100px,#2b4e8a 102.5px,#2a4a85 105px,#294882 107.5px,#274277 110px,#263e70 112.5px,#263d6e 115px,#263c6d 117.5px,#253c6c 120px,#253c6b 122.5px,#253c6b 125px,#253b6b 127.5px,#253b6b 130px,#253b6b 132.5px,#253b6b 135px,#253b6b 137.5px,#253b6b 140px,#253b6b 142.5px,#253b6b 145px,#253b6b 147.5px,#253b6b 150px,#253b6b 152.5px,#253b6b 155px,#253b6b 157.5px)"></div><div style="top:48px;height:2.6px;background:linear-gradient(90deg,#253b6b 0px,#253b6b 2.5px,#253b6b 5px,#253b6b 7.5px,#253b6b 10px,#253b6b 12.5px,#253b6b 15px,#253b6b 17.5px,#253b6b 20px,#253b6b 22.5px,#253c6b 25px,#253c6c 27.5px,#263c6c 30px,#263d6d 32.5px,#263d6e 35px,#263f72 37.5px,#28437a 40px,#294883 42.5px,#2a4b86 45px,#2b4f8c 47.5px,#2d5796 50px,#3362a1 52.5px,#3a6fae 55px,#4782bb 57.5px,#5f99c5 60px,#7cafd0 62.5px,#9cc5dd 65px,#bcdae9 67.5px,#dbe9ef 70px,#eaedee 72.5px,#eeeeed 75px,#e9edee 77.5px,#d6e7ee 80px,#b7d7e7 82.5px,#96c1da 85px,#77accd 87.5px,#5a94c3 90px,#457eb8 92.5px,#396cab 95px,#32609f 97.5px,#2d5594 100px,#2b4e8b 102.5px,#2a4a85 105px,#294882 107.5px,#274278 110px,#263e70 112.5px,#263d6e 115px,#263c6d 117.5px,#263c6c 120px,#253c6b 122.5px,#253c6b 125px,#253b6b 127.5px,#253b6b 130px,#253b6b 132.5px,#253b6b 135px,#253b6b 137.5px,#253b6b 140px,#253b6b 142.5px,#253b6b 145px,#253b6b 147.5px,#253b6b 150px,#253b6b 152.5px,#253b6b 155px,#253b6b 157.5px)"></div><div style="top:50px;height:2.6px;background:linear-gradient(90deg,#253b6b 0px,#253b6b 2.5px,#253b6b 5px,#253b6b 7.5px,#253b6b 10px,#253b6b 12.5px,#253b6b 15px,#253b6b 17.5px,#253b6b 20px,#253b6b 22.5px,#253c6b 25px,#253c6c 27.5px,#263c6c 30px,#263d6d 32.5px,#263d6e 35px,#263f72 37.5px,#28437a 40px,#294883 42.5px,#2a4b86 45px,#2b508d 47.5px,#2d5796 50px,#3362a1 52.5px,#3a6fae 55px,#4882bb 57.5px,#6099c5 60px,#7eb0d0 62.5px,#9dc6dd 65px,#bfdbe9 67.5px,#dfebef 70px,#ededed 72.5px,#f2eeec 75px,#eceded 77.5px,#dce9ef 80px,#bbdae9 82.5px,#9ac4dc 85px,#7aaecf 87.5px,#5d97c4 90px,#4680ba 92.5px,#396dac 95px,#3261a0 97.5px,#2d5695 100px,#2b4f8c 102.5px,#2a4b86 105px,#294882 107.5px,#274379 110px,#263e71 112.5px,#263d6e 115px,#263c6d 117.5px,#263c6c 120px,#253c6b 122.5px,#253c6b 125px,#253b6b 127.5px,#253b6b 130px,#253b6b 132.5px,#253b6b 135px,#253b6b 137.5px,#253b6b 140px,#253b6b 142.5px,#253b6b 145px,#253b6b 147.5px,#253b6b 150px,#253b6b 152.5px,#253b6b 155px,#253b6b 157.5px)"></div><div style="top:52px;height:2.6px;background:linear-gradient(90deg,#253b6b 0px,#253b6b 2.5px,#253b6b 5px,#253b6b 7.5px,#253b6b 10px,#253b6b 12.5px,#253b6b 15px,#253b6b 17.5px,#253b6b 20px,#253b6b 22.5px,#253c6b 25px,#253c6c 27.5px,#263c6c 30px,#263d6d 32.5px,#263d6f 35px,#263f72 37.5px,#28437a 40px,#294883 42.5px,#2a4b86 45px,#2b508d 47.5px,#2d5796 50px,#3362a1 52.5px,#3a6fae 55px,#4883bb 57.5px,#619ac5 60px,#7fb1d1 62.5px,#9fc8de 65px,#c2ddea 67.5px,#e3ecf0 70px,#f0eeec 72.5px,#f2eae5 75px,#f0eeed 77.5px,#e2ecf0 80px,#c1dcea 82.5px,#9ec7de 85px,#7db0d0 87.5px,#5f99c5 90px,#4882bb 92.5px,#3a6fae 95px,#3362a1 97.5px,#2d5795 100px,#2b4f8c 102.5px,#2a4b86 105px,#294883 107.5px,#284379 110px,#263f71 112.5px,#263d6e 115px,#263d6d 117.5px,#263c6c 120px,#253c6c 122.5px,#253c6b 125px,#253b6b 127.5px,#253b6b 130px,#253b6b 132.5px,#253b6b 135px,#253b6b 137.5px,#253b6b 140px,#253b6b 142.5px,#253b6b 145px,#253b6b 147.5px,#253b6b 150px,#253b6b 152.5px,#253b6b 155px,#253b6b 157.5px)"></div><div style="top:54px;height:2.6px;background:linear-gradient(90deg,#253b6b 0px,#253b6b 2.5px,#253b6b 5px,#253b6b 7.5px,#253b6b 10px,#253b6b 12.5px,#253b6b 15px,#253b6b 17.5px,#253b6b 20px,#253b6b 22.5px,#253c6b 25px,#253c6c 27.5px,#263c6c 30px,#263d6d 32.5px,#263d6f 35px,#263f72 37.5px,#28437a 40px,#294883 42.5px,#2a4b86 45px,#2b508d 47.5px,#2d5796 50px,#3362a1 52.5px,#3a70ae 55px,#4983bc 57.5px,#629bc5 60px,#80b2d1 62.5px,#a2c9df 65px,#c5deeb 67.5px,#e5ecef 70px,#f2ece9 72.5px,#f3e5dd 75px,#f2ece8 77.5px,#e6ecef 80px,#c6dfeb 82.5px,#a2cadf 85px,#81b3d2 87.5px,#629cc6 90px,#4984bc 92.5px,#3b70af 95px,#3363a2 97.5px,#2d5796 100px,#2b508d 102.5px,#2a4b86 105px,#294983 107.5px,#28447a 110px,#263f72 112.5px,#263d6f 115px,#263d6d 117.5px,#263c6c 120px,#253c6c 122.5px,#253c6b 125px,#253b6b 127.5px,#253b6b 130px,#253b6b 132.5px,#253b6b 135px,#253b6b 137.5px,#253b6b 140px,#253b6b 142.5px,#253b6b 145px,#253b6b 147.5px,#253b6b 150px,#253b6b 152.5px,#253b6b 155px,#253b6b 157.5px)"></div><div style="top:56px;height:2.6px;background:linear-gradient(90deg,#253b6b 0px,#253b6b 2.5px,#253b6b 5px,#253b6b 7.5px,#253b6b 10px,#253b6b 12.5px,#253b6b 15px,#253b6b 17.5px,#253b6b 20px,#253b6b 22.5px,#253c6b 25px,#253c6c 27.5px,#263c6c 30px,#263d6d 32.5px,#263d6f 35px,#263f72 37.5px,#28447a 40px,#294983 42.5px,#2a4b86 45px,#2b508d 47.5px,#2d5796 50px,#3363a2 52.5px,#3b70af 55px,#4984bc 57.5px,#639cc6 60px,#82b3d2 62.5px,#a4cbe0 65px,#c9e0eb 67.5px,#e8edee 70px,#f3e7e1 72.5px,#f3dfd3 75px,#f3e6de 77.5px,#eaedee 80px,#cde2ec 82.5px,#a7cde1 85px,#85b6d3 87.5px,#669ec6 90px,#4a86bd 92.5px,#3c72b0 95px,#3464a3 97.5px,#2e5897 100px,#2b508e 102.5px,#2a4b87 105px,#294983 107.5px,#28447b 110px,#263f72 112.5px,#263d6f 115px,#263d6d 117.5px,#263c6c 120px,#253c6c 122.5px,#253c6b 125px,#253b6b 127.5px,#253b6b 130px,#253b6b 132.5px,#253b6b 135px,#253b6b 137.5px,#253b6b 140px,#253b6b 142.5px,#253b6b 145px,#253b6b 147.5px,#253b6b 150px,#253b6b 152.5px,#253b6b 155px,#253b6b 157.5px)"></div><div style="top:58px;height:2.6px;background:linear-gradient(90deg,#253b6b 0px,#253b6b 2.5px,#253b6b 5px,#253b6b 7.5px,#253b6b 10px,#253b6b 12.5px,#253b6b 15px,#253b6b 17.5px,#253b6b 20px,#253b6b 22.5px,#253c6b 25px,#253c6c 27.5px,#263c6c 30px,#263d6d 32.5px,#263d6f 35px,#263f72 37.5px,#28447a 40px,#294983 42.5px,#2a4b86 45px,#2b508d 47.5px,#2d5796 50px,#3363a2 52.5px,#3b71af 55px,#4a85bd 57.5px,#649dc6 60px,#84b5d3 62.5px,#a6cce1 65px,#cde2ec 67.5px,#ebedee 70px,#f3e2d8 72.5px,#f4d9c9 75px,#f3dfd4 77.5px,#eeeeed 80px,#d3e5ed 82.5px,#acd0e3 85px,#89b8d5 87.5px,#69a1c7 90px,#4c88bf 92.5px,#3d74b1 95px,#3565a4 97.5px,#2e5998 100px,#2b518e 102.5px,#2a4b87 105px,#294983 107.5px,#28457c 110px,#274073 112.5px,#263d6f 115px,#263d6d 117.5px,#263c6c 120px,#253c6c 122.5px,#253c6b 125px,#253b6b 127.5px,#253b6b 130px,#253b6b 132.5px,#253b6b 135px,#253b6b 137.5px,#253b6b 140px,#253b6b 142.5px,#253b6b 145px,#253b6b 147.5px,#253b6b 150px,#253b6b 152.5px,#253b6b 155px,#253b6b 157.5px)"></div><div style="top:60px;height:2.6px;background:linear-gradient(90deg,#253b6b 0px,#253b6b 2.5px,#253b6b 5px,#253b6b 7.5px,#253b6b 10px,#253b6b 12.5px,#253b6b 15px,#253b6b 17.5px,#253b6b 20px,#253b6b 22.5px,#253c6b 25px,#253c6c 27.5px,#263c6c 30px,#263d6d 32.5px,#263d6f 35px,#263f72 37.5px,#28447a 40px,#294983 42.5px,#2a4b87 45px,#2b508d 47.5px,#2d5897 50px,#3463a2 52.5px,#3c71af 55px,#4a85bd 57.5px,#659ec6 60px,#85b6d4 62.5px,#a9cee2 65px,#d1e4ed 67.5px,#eeeeed 70px,#f4dccf 72.5px,#f3d0bd 75px,#f4d9c9 77.5px,#f2edeb 80px,#dae8ef 82.5px,#b2d4e6 85px,#8dbbd7 87.5px,#6ca4c9 90px,#4f8bc0 92.5px,#3f76b3 95px,#3566a5 97.5px,#2f5a99 100px,#2c528f 102.5px,#2a4c87 105px,#294984 107.5px,#28457d 110px,#274074 112.5px,#263e6f 115px,#263d6d 117.5px,#263c6c 120px,#253c6c 122.5px,#253c6b 125px,#253c6b 127.5px,#253b6b 130px,#253b6b 132.5px,#253b6b 135px,#253b6b 137.5px,#253b6b 140px,#253b6b 142.5px,#253b6b 145px,#253b6b 147.5px,#253b6b 150px,#253b6b 152.5px,#253b6b 155px,#253b6b 157.5px)"></div><div style="top:62px;height:2.6px;background:linear-gradient(90deg,#253b6b 0px,#253b6b 2.5px,#253b6b 5px,#253b6b 7.5px,#253b6b 10px,#253b6b 12.5px,#253b6b 15px,#253b6b 17.5px,#253b6b 20px,#253b6b 22.5px,#253c6b 25px,#253c6c 27.5px,#263c6c 30px,#263d6d 32.5px,#263d6f 35px,#263f72 37.5px,#28447a 40px,#294983 42.5px,#2a4b87 45px,#2b508d 47.5px,#2e5897 50px,#3464a3 52.5px,#3c72b0 55px,#4b86be 57.5px,#679fc7 60px,#87b7d4 62.5px,#acd0e3 65px,#d5e6ee 67.5px,#f1eeec 70px,#f4d6c5 72.5px,#f1c6b0 75px,#f2cfbc 77.5px,#f3e7e0 80px,#e2ecf0 82.5px,#b8d8e8 85px,#91bfd9 87.5px,#70a7ca 90px,#528dc1 92.5px,#4078b4 95px,#3667a6 97.5px,#2f5b9a 100px,#2c5290 102.5px,#2a4c88 105px,#294984 107.5px,#28467e 110px,#274074 112.5px,#263e6f 115px,#263d6e 117.5px,#263c6c 120px,#253c6c 122.5px,#253c6b 125px,#253c6b 127.5px,#253b6b 130px,#253b6b 132.5px,#253b6b 135px,#253b6b 137.5px,#253b6b 140px,#253b6b 142.5px,#253b6b 145px,#253b6b 147.5px,#253b6b 150px,#253b6b 152.5px,#253b6b 155px,#253b6b 157.5px)"></div><div style="top:64px;height:2.6px;background:linear-gradient(90deg,#253b6b 0px,#253b6b 2.5px,#253b6b 5px,#253b6b 7.5px,#253b6b 10px,#253b6b 12.5px,#253b6b 15px,#253b6b 17.5px,#253b6b 20px,#253b6b 22.5px,#253c6b 25px,#253c6c 27.5px,#263c6c 30px,#263d6d 32.5px,#263d6f 35px,#263f72 37.5px,#28447b 40px,#294983 42.5px,#2a4b87 45px,#2b508e 47.5px,#2e5897 50px,#3464a3 52.5px,#3d73b0 55px,#4b87be 57.5px,#69a1c7 60px,#8ab9d5 62.5px,#afd2e5 65px,#dae8ee 67.5px,#f2eae6 70px,#f2ceba 72.5px,#efbba3 75px,#f1c5af 77.5px,#f3e0d5 80px,#e6ecef 82.5px,#bedbe9 85px,#96c2db 87.5px,#74aacc 90px,#5590c2 92.5px,#427ab5 95px,#3769a8 97.5px,#305c9b 100px,#2c5391 102.5px,#2a4c88 105px,#294984 107.5px,#28467e 110px,#274175 112.5px,#263e6f 115px,#263d6e 117.5px,#263c6d 120px,#253c6c 122.5px,#253c6b 125px,#253c6b 127.5px,#253b6b 130px,#253b6b 132.5px,#253b6b 135px,#253b6b 137.5px,#253b6b 140px,#253b6b 142.5px,#253b6b 145px,#253b6b 147.5px,#253b6b 150px,#253b6b 152.5px,#253b6b 155px,#253b6b 157.5px)"></div><div style="top:66px;height:2.6px;background:linear-gradient(90deg,#253b6b 0px,#253b6b 2.5px,#253b6b 5px,#253b6b 7.5px,#253b6b 10px,#253b6b 12.5px,#253b6b 15px,#253b6b 17.5px,#253b6b 20px,#253b6b 22.5px,#253c6b 25px,#253c6c 27.5px,#263c6c 30px,#263d6d 32.5px,#263d6f 35px,#263f73 37.5px,#28447b 40px,#294983 42.5px,#2a4b87 45px,#2b518e 47.5px,#2e5998 50px,#3465a4 52.5px,#3d74b1 55px,#4d89bf 57.5px,#6ba3c8 60px,#8cbbd7 62.5px,#b3d5e6 65px,#dfeaef 67.5px,#f3e5de 70px,#f1c5af 72.5px,#edaf97 75px,#efb9a1 77.5px,#f4dacb 80px,#eaedee 82.5px,#c4deea 85px,#9bc5dd 87.5px,#78acce 90px,#5993c3 92.5px,#437cb7 95px,#376aa9 97.5px,#305d9c 100px,#2c5492 102.5px,#2a4d89 105px,#294a85 107.5px,#29477f 110px,#274176 112.5px,#263e70 115px,#263d6e 117.5px,#263c6d 120px,#253c6c 122.5px,#253c6b 125px,#253c6b 127.5px,#253b6b 130px,#253b6b 132.5px,#253b6b 135px,#253b6b 137.5px,#253b6b 140px,#253b6b 142.5px,#253b6b 145px,#253b6b 147.5px,#253b6b 150px,#253b6b 152.5px,#253b6b 155px,#253b6b 157.5px)"></div><div style="top:68px;height:2.6px;background:linear-gradient(90deg,#253b6b 0px,#253b6b 2.5px,#253b6b 5px,#253b6b 7.5px,#253b6b 10px,#253b6b 12.5px,#253b6b 15px,#253b6b 17.5px,#253b6b 20px,#253b6b 22.5px,#253c6b 25px,#253c6c 27.5px,#263c6c 30px,#263d6d 32.5px,#263d6f 35px,#264073 37.5px,#28447b 40px,#294983 42.5px,#2a4b87 45px,#2b518e 47.5px,#2e5998 50px,#3565a4 52.5px,#3e75b2 55px,#4f8ac0 57.5px,#6da5c9 60px,#90bdd8 62.5px,#b7d8e8 65px,#e3ecf0 67.5px,#f3e0d6 70px,#efbba3 72.5px,#eba189 75px,#edac94 77.5px,#f3d1be 80px,#eeeeed 82.5px,#cbe1ec 85px,#a1c9df 87.5px,#7cafd0 90px,#5c96c4 92.5px,#457eb8 95px,#386baa 97.5px,#315e9d 100px,#2c5493 102.5px,#2a4d8a 105px,#294a85 107.5px,#294780 110px,#274176 112.5px,#263e70 115px,#263d6e 117.5px,#263c6d 120px,#253c6c 122.5px,#253c6b 125px,#253c6b 127.5px,#253b6b 130px,#253b6b 132.5px,#253b6b 135px,#253b6b 137.5px,#253b6b 140px,#253b6b 142.5px,#253b6b 145px,#253b6b 147.5px,#253b6b 150px,#253b6b 152.5px,#253b6b 155px,#253b6b 157.5px)"></div><div style="top:70px;height:2.6px;background:linear-gradient(90deg,#253b6b 0px,#253b6b 2.5px,#253b6b 5px,#253b6b 7.5px,#253b6b 10px,#253b6b 12.5px,#253b6b 15px,#253b6b 17.5px,#253b6b 20px,#253b6b 22.5px,#253c6b 25px,#253c6c 27.5px,#263c6c 30px,#263d6d 32.5px,#263d6f 35px,#274073 37.5px,#28457c 40px,#294983 42.5px,#2a4c87 45px,#2b518f 47.5px,#2f5a99 50px,#3566a5 52.5px,#3f76b3 55px,#518cc0 57.5px,#70a7ca 60px,#93c0d9 62.5px,#bcdae9 65px,#e7edef 67.5px,#f4dbcc 70px,#edaf97 72.5px,#e9947c 75px,#eb9d85 77.5px,#f1c7b1 80px,#f2ecea 82.5px,#d2e5ed 85px,#a7cde1 87.5px,#81b3d1 90px,#5f99c5 92.5px,#4680ba 95px,#396dac 97.5px,#32609f 100px,#2c5593 102.5px,#2b4e8a 105px,#2a4a85 107.5px,#294881 110px,#274277 112.5px,#263e70 115px,#263d6e 117.5px,#263c6d 120px,#253c6c 122.5px,#253c6b 125px,#253c6b 127.5px,#253b6b 130px,#253b6b 132.5px,#253b6b 135px,#253b6b 137.5px,#253b6b 140px,#253b6b 142.5px,#253b6b 145px,#253b6b 147.5px,#253b6b 150px,#253b6b 152.5px,#253b6b 155px,#253b6b 157.5px)"></div><div style="top:72px;height:2.6px;background:linear-gradient(90deg,#253b6b 0px,#253b6b 2.5px,#253b6b 5px,#253b6b 7.5px,#253b6b 10px,#253b6b 12.5px,#253b6b 15px,#253b6b 17.5px,#253b6b 20px,#253b6b 22.5px,#253c6b 25px,#253c6c 27.5px,#263c6c 30px,#263d6d 32.5px,#263d6f 35px,#274073 37.5px,#28457c 40px,#294984 42.5px,#2a4c87 45px,#2c528f 47.5px,#2f5b9a 50px,#3667a6 52.5px,#4078b4 55px,#538ec1 57.5px,#74a9cc 60px,#98c3db 62.5px,#c2ddea 65px,#eaedee 67.5px,#f3d3c2 70px,#eba28a 72.5px,#e7866f 75px,#e98f77 77.5px,#efbba3 80px,#f3e6df 82.5px,#dae8ee 85px,#add0e3 87.5px,#85b6d3 90px,#639cc6 92.5px,#4883bb 95px,#3a6ead 97.5px,#3261a0 100px,#2d5694 102.5px,#2b4e8b 105px,#2a4a85 107.5px,#294882 110px,#274278 112.5px,#263e70 115px,#263d6e 117.5px,#263c6d 120px,#253c6c 122.5px,#253c6b 125px,#253c6b 127.5px,#253b6b 130px,#253b6b 132.5px,#253b6b 135px,#253b6b 137.5px,#253b6b 140px,#253b6b 142.5px,#253b6b 145px,#253b6b 147.5px,#253b6b 150px,#253b6b 152.5px,#253b6b 155px,#253b6b 157.5px)"></div><div style="top:74px;height:2.6px;background:linear-gradient(90deg,#253b6b 0px,#253b6b 2.5px,#253b6b 5px,#253b6b 7.5px,#253b6b 10px,#253b6b 12.5px,#253b6b 15px,#253b6b 17.5px,#253b6b 20px,#253c6b 22.5px,#253c6b 25px,#253c6c 27.5px,#263c6c 30px,#263d6d 32.5px,#263e6f 35px,#274074 37.5px,#28457d 40px,#294984 42.5px,#2a4c88 45px,#2c5290 47.5px,#2f5b9a 50px,#3668a7 52.5px,#4179b5 55px,#5691c2 57.5px,#77accd 60px,#9cc6dd 62.5px,#c8e0eb 65px,#eeeeed 67.5px,#f2cab6 70px,#e9947c 72.5px,#e57a64 75px,#e6816b 77.5px,#edac94 80px,#f3dfd4 82.5px,#e2ecf0 85px,#b3d5e6 87.5px,#8ab9d6 90px,#67a0c7 92.5px,#4a85bd 95px,#3b70af 97.5px,#3362a1 100px,#2d5695 102.5px,#2b4f8c 105px,#2a4b86 107.5px,#294882 110px,#274378 112.5px,#263e71 115px,#263d6e 117.5px,#263c6d 120px,#263c6c 122.5px,#253c6b 125px,#253c6b 127.5px,#253b6b 130px,#253b6b 132.5px,#253b6b 135px,#253b6b 137.5px,#253b6b 140px,#253b6b 142.5px,#253b6b 145px,#253b6b 147.5px,#253b6b 150px,#253b6b 152.5px,#253b6b 155px,#253b6b 157.5px)"></div><div style="top:76px;height:2.6px;background:linear-gradient(90deg,#253b6b 0px,#253b6b 2.5px,#253b6b 5px,#253b6b 7.5px,#253b6b 10px,#253b6b 12.5px,#253b6b 15px,#253b6b 17.5px,#253b6b 20px,#253c6b 22.5px,#253c6b 25px,#253c6c 27.5px,#263c6c 30px,#263d6d 32.5px,#263e6f 35px,#274074 37.5px,#28457d 40px,#294984 42.5px,#2a4c88 45px,#2c5391 47.5px,#305c9b 50px,#3769a8 52.5px,#437bb6 55px,#5993c3 57.5px,#7aaecf 60px,#a1c9df 62.5px,#cee2ec 65px,#f2eeeb 67.5px,#f0c1aa 70px,#e7876f 72.5px,#e36d59 75px,#e47560 77.5px,#eb9d85 80px,#f4d8c8 82.5px,#e6edef 85px,#b9d9e8 87.5px,#8fbdd8 90px,#6ba3c8 92.5px,#4c88bf 95px,#3c72b0 97.5px,#3463a2 100px,#2d5796 102.5px,#2b508d 105px,#2a4b86 107.5px,#294883 110px,#284379 112.5px,#263f71 115px,#263d6e 117.5px,#263c6d 120px,#263c6c 122.5px,#253c6b 125px,#253c6b 127.5px,#253b6b 130px,#253b6b 132.5px,#253b6b 135px,#253b6b 137.5px,#253b6b 140px,#253b6b 142.5px,#253b6b 145px,#253b6b 147.5px,#253b6b 150px,#253b6b 152.5px,#253b6b 155px,#253b6b 157.5px)"></div><div style="top:78px;height:2.6px;background:linear-gradient(90deg,#253b6b 0px,#253b6b 2.5px,#253b6b 5px,#253b6b 7.5px,#253b6b 10px,#253b6b 12.5px,#253b6b 15px,#253b6b 17.5px,#253b6b 20px,#253c6b 22.5px,#253c6b 25px,#253c6c 27.5px,#263c6c 30px,#263d6e 32.5px,#263e6f 35px,#274175 37.5px,#28467e 40px,#294984 42.5px,#2a4c88 45px,#2c5391 47.5px,#305d9c 50px,#376aa9 52.5px,#447db7 55px,#5b95c3 57.5px,#7eb1d0 60px,#a5cce1 62.5px,#d4e5ed 65px,#f3e8e2 67.5px,#eeb59d 70px,#e57b65 72.5px,#e1614f 75px,#e26854 77.5px,#e98e76 80px,#f2cebb 82.5px,#ebedee 85px,#c0dcea 87.5px,#94c0da 90px,#6fa6ca 92.5px,#4f8ac0 95px,#3e74b1 97.5px,#3464a3 100px,#2e5897 102.5px,#2b508d 105px,#2a4b86 107.5px,#294983 110px,#28437a 112.5px,#263f72 115px,#263d6e 117.5px,#263d6d 120px,#263c6c 122.5px,#253c6c 125px,#253c6b 127.5px,#253b6b 130px,#253b6b 132.5px,#253b6b 135px,#253b6b 137.5px,#253b6b 140px,#253b6b 142.5px,#253b6b 145px,#253b6b 147.5px,#253b6b 150px,#253b6b 152.5px,#253b6b 155px,#253b6b 157.5px)"></div><div style="top:80px;height:2.6px;background:linear-gradient(90deg,#253b6b 0px,#253b6b 2.5px,#253b6b 5px,#253b6b 7.5px,#253b6b 10px,#253b6b 12.5px,#253b6b 15px,#253b6b 17.5px,#253b6b 20px,#253c6b 22.5px,#253c6b 25px,#253c6c 27.5px,#263c6c 30px,#263d6e 32.5px,#263e6f 35px,#274175 37.5px,#28467f 40px,#294a84 42.5px,#2a4d89 45px,#2c5492 47.5px,#315e9d 50px,#386baa 52.5px,#457eb8 55px,#5e98c4 57.5px,#81b3d2 60px,#aacfe2 62.5px,#dae8ee 65px,#f3e3da 67.5px,#eda991 70px,#e3705b 72.5px,#de5748 75px,#df5c4b 77.5px,#e6816a 80px,#f1c4ad 82.5px,#efeeed 85px,#c7dfeb 87.5px,#9ac4dc 90px,#74a9cc 92.5px,#528dc1 95px,#3f76b3 97.5px,#3566a5 100px,#2e5998 102.5px,#2b518e 105px,#2a4b87 107.5px,#294983 110px,#28447b 112.5px,#263f72 115px,#263d6f 117.5px,#263d6d 120px,#263c6c 122.5px,#253c6c 125px,#253c6b 127.5px,#253b6b 130px,#253b6b 132.5px,#253b6b 135px,#253b6b 137.5px,#253b6b 140px,#253b6b 142.5px,#253b6b 145px,#253b6b 147.5px,#253b6b 150px,#253b6b 152.5px,#253b6b 155px,#253b6b 157.5px)"></div><div style="top:82px;height:2.6px;background:linear-gradient(90deg,#253b6b 0px,#253b6b 2.5px,#253b6b 5px,#253b6b 7.5px,#253b6b 10px,#253b6b 12.5px,#253b6b 15px,#253b6b 17.5px,#253b6b 20px,#253c6b 22.5px,#253c6b 25px,#253c6c 27.5px,#263c6d 30px,#263d6e 32.5px,#263e6f 35px,#274175 37.5px,#29467f 40px,#294a84 42.5px,#2a4d89 45px,#2c5492 47.5px,#315e9d 50px,#386cab 52.5px,#4680b9 55px,#619ac5 57.5px,#85b5d3 60px,#afd2e4 62.5px,#e0ebf0 65px,#f4ddd1 67.5px,#eb9c84 70px,#e16351 72.5px,#dc4e42 75px,#dd5245 77.5px,#e4735e 80px,#eeb69e 82.5px,#f2ebe7 85px,#cfe3ec 87.5px,#a0c8de 90px,#78acce 92.5px,#5691c2 95px,#4178b4 97.5px,#3667a6 100px,#2f5a99 102.5px,#2b518f 105px,#2a4b87 107.5px,#294983 110px,#28447b 112.5px,#264073 115px,#263d6f 117.5px,#263d6d 120px,#263c6c 122.5px,#253c6c 125px,#253c6b 127.5px,#253b6b 130px,#253b6b 132.5px,#253b6b 135px,#253b6b 137.5px,#253b6b 140px,#253b6b 142.5px,#253b6b 145px,#253b6b 147.5px,#253b6b 150px,#253b6b 152.5px,#253b6b 155px,#253b6b 157.5px)"></div><div style="top:84px;height:2.6px;background:linear-gradient(90deg,#253b6b 0px,#253b6b 2.5px,#253b6b 5px,#253b6b 7.5px,#253b6b 10px,#253b6b 12.5px,#253b6b 15px,#253b6b 17.5px,#253b6b 20px,#253c6b 22.5px,#253c6b 25px,#253c6c 27.5px,#263c6d 30px,#263d6e 32.5px,#263e70 35px,#274176 37.5px,#294780 40px,#294a85 42.5px,#2a4d8a 45px,#2c5493 47.5px,#315f9e 50px,#396dac 52.5px,#4781ba 55px,#639cc6 57.5px,#88b8d5 60px,#b3d5e6 62.5px,#e4ecef 65px,#f4d7c7 67.5px,#e98f77 70px,#df5949 72.5px,#d9443d 75px,#da483f 77.5px,#e16552 80px,#eca68e 82.5px,#f3e4db 85px,#d7e7ee 87.5px,#a6cce1 90px,#7db0d0 92.5px,#5a94c3 95px,#437bb6 97.5px,#3668a7 100px,#2f5b9a 102.5px,#2c5290 105px,#2a4c88 107.5px,#294984 110px,#28457c 112.5px,#274073 115px,#263d6f 117.5px,#263d6d 120px,#263c6c 122.5px,#253c6c 125px,#253c6b 127.5px,#253b6b 130px,#253b6b 132.5px,#253b6b 135px,#253b6b 137.5px,#253b6b 140px,#253b6b 142.5px,#253b6b 145px,#253b6b 147.5px,#253b6b 150px,#253b6b 152.5px,#253b6b 155px,#253b6b 157.5px)"></div><div style="top:86px;height:2.6px;background:linear-gradient(90deg,#253b6b 0px,#253b6b 2.5px,#253b6b 5px,#253b6b 7.5px,#253b6b 10px,#253b6b 12.5px,#253b6b 15px,#253b6b 17.5px,#253b6b 20px,#253c6b 22.5px,#253c6b 25px,#253c6c 27.5px,#263c6d 30px,#263d6e 32.5px,#263e70 35px,#274176 37.5px,#294780 40px,#294a85 42.5px,#2a4e8a 45px,#2c5593 47.5px,#32609f 50px,#396ead 52.5px,#4883bc 55px,#669fc7 57.5px,#8bbad6 60px,#b8d8e8 62.5px,#e8edef 65px,#f3cfbc 67.5px,#e7836c 70px,#dc5144 72.5px,#d63e39 75px,#d73f39 77.5px,#df5949 80px,#ea967e 82.5px,#f4ddcf 85px,#dfeaef 87.5px,#acd0e3 90px,#82b3d2 92.5px,#5e97c4 95px,#447db8 97.5px,#376aa9 100px,#305d9c 102.5px,#2c5391 105px,#2a4c88 107.5px,#294984 110px,#28457d 112.5px,#274074 115px,#263e6f 117.5px,#263d6d 120px,#263c6c 122.5px,#253c6c 125px,#253c6b 127.5px,#253c6b 130px,#253b6b 132.5px,#253b6b 135px,#253b6b 137.5px,#253b6b 140px,#253b6b 142.5px,#253b6b 145px,#253b6b 147.5px,#253b6b 150px,#253b6b 152.5px,#253b6b 155px,#253b6b 157.5px)"></div><div style="top:88px;height:2.6px;background:linear-gradient(90deg,#253b6b 0px,#253b6b 2.5px,#253b6b 5px,#253b6b 7.5px,#253b6b 10px,#253b6b 12.5px,#253b6b 15px,#253b6b 17.5px,#253b6b 20px,#253c6b 22.5px,#253c6b 25px,#253c6c 27.5px,#263c6d 30px,#263d6e 32.5px,#263e70 35px,#274276 37.5px,#294781 40px,#2a4a85 42.5px,#2b4e8a 45px,#2d5594 47.5px,#32609f 50px,#3a6fae 52.5px,#4985bd 55px,#69a1c7 57.5px,#8fbdd8 60px,#bddae9 62.5px,#ebedee 65px,#f1c7b1 67.5px,#e57963 70px,#da483f 72.5px,#d13936 75px,#d33b37 77.5px,#dc4f43 80px,#e7876f 82.5px,#f3d5c3 85px,#e4ecef 87.5px,#b3d4e6 90px,#87b7d4 92.5px,#619bc5 95px,#4680b9 97.5px,#386baa 100px,#315e9d 102.5px,#2c5492 105px,#2a4d89 107.5px,#294984 110px,#28467e 112.5px,#274175 115px,#263e6f 117.5px,#263d6e 120px,#263c6c 122.5px,#253c6c 125px,#253c6b 127.5px,#253c6b 130px,#253b6b 132.5px,#253b6b 135px,#253b6b 137.5px,#253b6b 140px,#253b6b 142.5px,#253b6b 145px,#253b6b 147.5px,#253b6b 150px,#253b6b 152.5px,#253b6b 155px,#253b6b 157.5px)"></div><div style="top:90px;height:2.6px;background:linear-gradient(90deg,#253b6b 0px,#253b6b 2.5px,#253b6b 5px,#253b6b 7.5px,#253b6b 10px,#253b6b 12.5px,#253b6b 15px,#253b6b 17.5px,#253b6b 20px,#253c6b 22.5px,#253c6b 25px,#253c6c 27.5px,#263c6d 30px,#263d6e 32.5px,#263e70 35px,#274277 37.5px,#294881 40px,#2a4a85 42.5px,#2b4e8b 45px,#2d5694 47.5px,#3361a0 50px,#3a70ae 52.5px,#4b86be 55px,#6ba3c8 57.5px,#92bfd9 60px,#c2ddea 62.5px,#eeeeed 65px,#f0bfa7 67.5px,#e36e5a 70px,#d8403a 72.5px,#cd3533 75px,#ce3634 77.5px,#da463e 80px,#e57b65 82.5px,#f2cbb7 85px,#e9edee 87.5px,#b8d8e8 90px,#8bbad6 92.5px,#659dc6 95px,#4782bb 97.5px,#396dac 100px,#315f9e 102.5px,#2c5492 105px,#2a4d89 107.5px,#294a84 110px,#28467f 112.5px,#274175 115px,#263e6f 117.5px,#263d6e 120px,#263c6d 122.5px,#253c6c 125px,#253c6b 127.5px,#253c6b 130px,#253b6b 132.5px,#253b6b 135px,#253b6b 137.5px,#253b6b 140px,#253b6b 142.5px,#253b6b 145px,#253b6b 147.5px,#253b6b 150px,#253b6b 152.5px,#253b6b 155px,#253b6b 157.5px)"></div><div style="top:92px;height:2.6px;background:linear-gradient(90deg,#253b6b 0px,#253b6b 2.5px,#253b6b 5px,#253b6b 7.5px,#253b6b 10px,#253b6b 12.5px,#253b6b 15px,#253b6b 17.5px,#253b6b 20px,#253c6b 22.5px,#253c6b 25px,#253c6c 27.5px,#263c6d 30px,#263d6e 32.5px,#263e70 35px,#274277 37.5px,#294882 40px,#2a4a85 42.5px,#2b4f8b 45px,#2d5695 47.5px,#3362a1 50px,#3b71af 52.5px,#4c88bf 55px,#6ea5c9 57.5px,#96c2db 60px,#c7dfeb 62.5px,#f2eeec 65px,#eeb49c 67.5px,#e16451 70px,#d43c38 72.5px,#c93131 75px,#ca3232 77.5px,#d73f39 80px,#e3715c 82.5px,#f1c3ac 85px,#ecedee 87.5px,#bddbe9 90px,#8ebcd7 92.5px,#68a0c7 95px,#4983bc 97.5px,#396ead 100px,#32609f 102.5px,#2c5593 105px,#2a4d8a 107.5px,#294a85 110px,#294780 112.5px,#274176 115px,#263e70 117.5px,#263d6e 120px,#263c6d 122.5px,#253c6c 125px,#253c6b 127.5px,#253c6b 130px,#253b6b 132.5px,#253b6b 135px,#253b6b 137.5px,#253b6b 140px,#253b6b 142.5px,#253b6b 145px,#253b6b 147.5px,#253b6b 150px,#253b6b 152.5px,#253b6b 155px,#253b6b 157.5px)"></div><div style="top:94px;height:2.6px;background:linear-gradient(90deg,#253b6b 0px,#253b6b 2.5px,#253b6b 5px,#253b6b 7.5px,#253b6b 10px,#253b6b 12.5px,#253b6b 15px,#253b6b 17.5px,#253b6b 20px,#253c6b 22.5px,#253c6b 25px,#253c6c 27.5px,#263c6d 30px,#263d6e 32.5px,#263e70 35px,#274278 37.5px,#294882 40px,#2a4a86 42.5px,#2b4f8c 45px,#2d5796 47.5px,#3363a2 50px,#3c72b0 52.5px,#4e8ac0 55px,#71a7cb 57.5px,#9ac4dc 60px,#cce1ec 62.5px,#f2eae6 65px,#edaa92 67.5px,#df5b4a 70px,#d13935 72.5px,#c42e2f 75px,#c62f30 77.5px,#d43c37 80px,#e26754 82.5px,#efbaa2 85px,#efeeed 87.5px,#c2ddea 90px,#92bfd9 92.5px,#6aa2c8 95px,#4a85bd 97.5px,#3a6fae 100px,#32609f 102.5px,#2c5594 105px,#2a4e8a 107.5px,#294a85 110px,#294780 112.5px,#274176 115px,#263e70 117.5px,#263d6e 120px,#263c6d 122.5px,#253c6c 125px,#253c6b 127.5px,#253c6b 130px,#253b6b 132.5px,#253b6b 135px,#253b6b 137.5px,#253b6b 140px,#253b6b 142.5px,#253b6b 145px,#253b6b 147.5px,#253b6b 150px,#253b6b 152.5px,#253b6b 155px,#253b6b 157.5px)"></div><div style="top:96px;height:2.6px;background:linear-gradient(90deg,#253b6b 0px,#253b6b 2.5px,#253b6b 5px,#253b6b 7.5px,#253b6b 10px,#253b6b 12.5px,#253b6b 15px,#253b6b 17.5px,#253b6b 20px,#253c6b 22.5px,#253c6b 25px,#253c6c 27.5px,#263c6d 30px,#263d6e 32.5px,#263e70 35px,#274378 37.5px,#294882 40px,#2a4b86 42.5px,#2b4f8c 45px,#2d5796 47.5px,#3464a3 50px,#3d74b1 52.5px,#508bc0 55px,#74a9cc 57.5px,#9dc7de 60px,#d0e4ed 62.5px,#f3e6df 65px,#eba088 67.5px,#de5547 70px,#cd3533 72.5px,#bf2b2e 75px,#c02c2f 77.5px,#d03835 80px,#e05e4c 82.5px,#eeb199 85px,#f2eeec 87.5px,#c6dfeb 90px,#95c1da 92.5px,#6da4c9 95px,#4b87be 97.5px,#3b70af 100px,#3261a0 102.5px,#2d5694 105px,#2b4e8b 107.5px,#2a4a85 110px,#294781 112.5px,#274277 115px,#263e70 117.5px,#263d6e 120px,#263c6d 122.5px,#253c6c 125px,#253c6b 127.5px,#253c6b 130px,#253b6b 132.5px,#253b6b 135px,#253b6b 137.5px,#253b6b 140px,#253b6b 142.5px,#253b6b 145px,#253b6b 147.5px,#253b6b 150px,#253b6b 152.5px,#253b6b 155px,#253b6b 157.5px)"></div><div style="top:98px;height:2.6px;background:linear-gradient(90deg,#253b6b 0px,#253b6b 2.5px,#253b6b 5px,#253b6b 7.5px,#253b6b 10px,#253b6b 12.5px,#253b6b 15px,#253b6b 17.5px,#253b6b 20px,#253c6b 22.5px,#253c6b 25px,#263c6c 27.5px,#263c6d 30px,#263d6e 32.5px,#263e71 35px,#274379 37.5px,#294882 40px,#2a4b86 42.5px,#2b508d 45px,#2d5897 47.5px,#3464a3 50px,#3e75b2 52.5px,#528dc1 55px,#76abcd 57.5px,#a1c9df 60px,#d5e6ed 62.5px,#f3e2d8 65px,#ea977f 67.5px,#dc4e43 70px,#ca3231 72.5px,#b9292d 75px,#bb2a2e 77.5px,#cd3533 80px,#de5848 82.5px,#eca890 85px,#f2eae5 87.5px,#cbe1ec 90px,#98c3dc 92.5px,#6fa6ca 95px,#4c88bf 97.5px,#3b71af 100px,#3362a1 102.5px,#2d5695 105px,#2b4e8b 107.5px,#2a4a85 110px,#294881 112.5px,#274277 115px,#263e70 117.5px,#263d6e 120px,#263c6d 122.5px,#253c6c 125px,#253c6b 127.5px,#253c6b 130px,#253b6b 132.5px,#253b6b 135px,#253b6b 137.5px,#253b6b 140px,#253b6b 142.5px,#253b6b 145px,#253b6b 147.5px,#253b6b 150px,#253b6b 152.5px,#253b6b 155px,#253b6b 157.5px)"></div><div style="top:100px;height:2.6px;background:linear-gradient(90deg,#253b6b 0px,#253b6b 2.5px,#253b6b 5px,#253b6b 7.5px,#253b6b 10px,#253b6b 12.5px,#253b6b 15px,#253b6b 17.5px,#253b6b 20px,#253c6b 22.5px,#253c6b 25px,#263c6c 27.5px,#263c6d 30px,#263d6e 32.5px,#263f71 35px,#274379 37.5px,#294883 40px,#2a4b86 42.5px,#2b508d 45px,#2e5897 47.5px,#3565a4 50px,#3f76b3 52.5px,#548fc1 55px,#79adce 57.5px,#a4cbe0 60px,#d9e8ee 62.5px,#f3ded2 65px,#e98e76 67.5px,#da483f 70px,#c62f30 72.5px,#b4262c 75px,#b6272d 77.5px,#ca3231 80px,#dd5245 82.5px,#eb9f87 85px,#f3e6df 87.5px,#cfe3ec 90px,#9cc5dd 92.5px,#72a8cb 95px,#4e8ac0 97.5px,#3c72b0 100px,#3363a2 102.5px,#2d5695 105px,#2b4f8b 107.5px,#2a4a85 110px,#294882 112.5px,#274277 115px,#263e70 117.5px,#263d6e 120px,#263c6d 122.5px,#253c6c 125px,#253c6b 127.5px,#253c6b 130px,#253b6b 132.5px,#253b6b 135px,#253b6b 137.5px,#253b6b 140px,#253b6b 142.5px,#253b6b 145px,#253b6b 147.5px,#253b6b 150px,#253b6b 152.5px,#253b6b 155px,#253b6b 157.5px)"></div><div style="top:102px;height:2.6px;background:linear-gradient(90deg,#253b6b 0px,#253b6b 2.5px,#253b6b 5px,#253b6b 7.5px,#253b6b 10px,#253b6b 12.5px,#253b6b 15px,#253b6b 17.5px,#253b6b 20px,#253c6b 22.5px,#253c6b 25px,#263c6c 27.5px,#263c6d 30px,#263d6e 32.5px,#263f71 35px,#284379 37.5px,#294883 40px,#2a4b86 42.5px,#2b508d 45px,#2e5998 47.5px,#3566a5 50px,#4077b4 52.5px,#5690c2 55px,#7baecf 57.5px,#a7cde1 60px,#dde9ef 62.5px,#f4dacc 65px,#e7866e 67.5px,#d9423b 70px,#c12d2f 72.5px,#ae232b 75px,#b0242c 77.5px,#c62f30 80px,#db4c41 82.5px,#ea967e 85px,#f3e3da 87.5px,#d3e5ed 90px,#9fc7de 92.5px,#74a9cc 95px,#508bc0 97.5px,#3d73b1 100px,#3463a2 102.5px,#2d5796 105px,#2b4f8c 107.5px,#2a4a86 110px,#294882 112.5px,#274278 115px,#263e70 117.5px,#263d6e 120px,#263c6d 122.5px,#253c6c 125px,#253c6b 127.5px,#253c6b 130px,#253b6b 132.5px,#253b6b 135px,#253b6b 137.5px,#253b6b 140px,#253b6b 142.5px,#253b6b 145px,#253b6b 147.5px,#253b6b 150px,#253b6b 152.5px,#253b6b 155px,#253b6b 157.5px)"></div><div style="top:104px;height:2.6px;background:linear-gradient(90deg,#253b6b 0px,#253b6b 2.5px,#253b6b 5px,#253b6b 7.5px,#253b6b 10px,#253b6b 12.5px,#253b6b 15px,#253b6b 17.5px,#253b6b 20px,#253c6b 22.5px,#253c6c 25px,#263c6c 27.5px,#263d6d 30px,#263d6e 32.5px,#263f72 35px,#28437a 37.5px,#294983 40px,#2a4b87 42.5px,#2b518e 45px,#2e5998 47.5px,#3566a5 50px,#4178b4 52.5px,#5792c2 55px,#7db0d0 57.5px,#aacfe2 60px,#e0ebf0 62.5px,#f4d7c6 65px,#e67f69 67.5px,#d63e39 70px,#bd2a2e 72.5px,#a9212a 75px,#ab222b 77.5px,#c22d2f 80px,#da463e 82.5px,#e98f77 85px,#f3e0d4 87.5px,#d6e6ee 90px,#a1c9df 92.5px,#76abcd 95px,#518dc1 97.5px,#3e74b2 100px,#3464a3 102.5px,#2d5796 105px,#2b4f8c 107.5px,#2a4b86 110px,#294882 112.5px,#274378 115px,#263e70 117.5px,#263d6e 120px,#263c6d 122.5px,#253c6c 125px,#253c6b 127.5px,#253c6b 130px,#253b6b 132.5px,#253b6b 135px,#253b6b 137.5px,#253b6b 140px,#253b6b 142.5px,#253b6b 145px,#253b6b 147.5px,#253b6b 150px,#253b6b 152.5px,#253b6b 155px,#253b6b 157.5px)"></div><div style="top:106px;height:2.6px;background:linear-gradient(90deg,#253b6b 0px,#253b6b 2.5px,#253b6b 5px,#253b6b 7.5px,#253b6b 10px,#253b6b 12.5px,#253b6b 15px,#253b6b 17.5px,#253b6b 20px,#253c6b 22.5px,#253c6c 25px,#263c6c 27.5px,#263d6d 30px,#263d6f 32.5px,#263f72 35px,#28447a 37.5px,#294983 40px,#2a4b87 42.5px,#2b518e 45px,#2e5a99 47.5px,#3667a6 50px,#4179b5 52.5px,#5993c3 55px,#7fb1d1 57.5px,#acd0e3 60px,#e3ecf0 62.5px,#f3d2c1 65px,#e57964 67.5px,#d43c38 70px,#b8282d 72.5px,#a21e29 75px,#a51f2a 77.5px,#bd2b2e 80px,#d8413b 82.5px,#e88870 85px,#f4ddd0 87.5px,#d9e8ee 90px,#a4cbe0 92.5px,#78accd 95px,#538ec1 97.5px,#3e75b2 100px,#3464a3 102.5px,#2d5897 105px,#2b508d 107.5px,#2a4b86 110px,#294882 112.5px,#274378 115px,#263e71 117.5px,#263d6e 120px,#263c6d 122.5px,#253c6c 125px,#253c6b 127.5px,#253c6b 130px,#253b6b 132.5px,#253b6b 135px,#253b6b 137.5px,#253b6b 140px,#253b6b 142.5px,#253b6b 145px,#253b6b 147.5px,#253b6b 150px,#253b6b 152.5px,#253b6b 155px,#253b6b 157.5px)"></div><div style="top:108px;height:2.6px;background:linear-gradient(90deg,#253b6b 0px,#253b6b 2.5px,#253b6b 5px,#253b6b 7.5px,#253b6b 10px,#253b6b 12.5px,#253b6b 15px,#253b6b 17.5px,#253b6b 20px,#253c6b 22.5px,#253c6c 25px,#263c6c 27.5px,#263d6d 30px,#263d6f 32.5px,#263f72 35px,#28447b 37.5px,#294983 40px,#2a4b87 42.5px,#2b518f 45px,#2f5a99 47.5px,#3667a6 50px,#427ab5 52.5px,#5a94c3 55px,#81b2d1 57.5px,#afd2e4 60px,#e4ecef 62.5px,#f2cebb 65px,#e4735e 67.5px,#d13936 70px,#b3252c 72.5px,#991c27 75px,#9c1d28 77.5px,#b8282d 80px,#d63e39 82.5px,#e7826b 85px,#f4dacb 87.5px,#dce9ef 90px,#a6cce1 92.5px,#79adce 95px,#548fc1 97.5px,#3f76b3 100px,#3465a4 102.5px,#2e5897 105px,#2b508d 107.5px,#2a4b86 110px,#294882 112.5px,#274379 115px,#263e71 117.5px,#263d6e 120px,#263c6d 122.5px,#263c6c 125px,#253c6b 127.5px,#253c6b 130px,#253b6b 132.5px,#253b6b 135px,#253b6b 137.5px,#253b6b 140px,#253b6b 142.5px,#253b6b 145px,#253b6b 147.5px,#253b6b 150px,#253b6b 152.5px,#253b6b 155px,#253b6b 157.5px)"></div><div style="top:110px;height:2.6px;background:linear-gradient(90deg,#253b6b 0px,#253b6b 2.5px,#253b6b 5px,#253b6b 7.5px,#253b6b 10px,#253b6b 12.5px,#253b6b 15px,#253b6b 17.5px,#253b6b 20px,#253c6b 22.5px,#253c6c 25px,#263c6c 27.5px,#263d6d 30px,#263d6f 32.5px,#263f72 35px,#28447b 37.5px,#294983 40px,#2a4b87 42.5px,#2b518f 45px,#2f5b9a 47.5px,#3668a7 50px,#437bb6 52.5px,#5c96c4 55px,#82b4d2 57.5px,#b1d3e5 60px,#e6edef 62.5px,#f2c9b4 65px,#e26c58 67.5px,#ce3634 70px,#ac222b 72.5px,#8f1926 75px,#921a26 77.5px,#b2252c 80px,#d33b37 82.5px,#e57b65 85px,#f4d6c6 87.5px,#dfebef 90px,#a8cee2 92.5px,#7bafcf 95px,#5590c2 97.5px,#4077b3 100px,#3565a4 102.5px,#2e5897 105px,#2b508d 107.5px,#2a4b86 110px,#294883 112.5px,#284379 115px,#263f71 117.5px,#263d6e 120px,#263c6d 122.5px,#263c6c 125px,#253c6b 127.5px,#253c6b 130px,#253b6b 132.5px,#253b6b 135px,#253b6b 137.5px,#253b6b 140px,#253b6b 142.5px,#253b6b 145px,#253b6b 147.5px,#253b6b 150px,#253b6b 152.5px,#253b6b 155px,#253b6b 157.5px)"></div><div style="top:112px;height:2.6px;background:linear-gradient(90deg,#253b6b 0px,#253b6b 2.5px,#253b6b 5px,#253b6b 7.5px,#253b6b 10px,#253b6b 12.5px,#253b6b 15px,#253b6b 17.5px,#253b6b 20px,#253c6b 22.5px,#253c6c 25px,#263c6c 27.5px,#263d6d 30px,#263d6f 32.5px,#263f73 35px,#28447b 37.5px,#294983 40px,#2a4b87 42.5px,#2c528f 45px,#2f5b9a 47.5px,#3668a7 50px,#437cb7 52.5px,#5d97c4 55px,#84b5d3 57.5px,#b3d5e6 60px,#e8edef 62.5px,#f1c5ae 65px,#e16451 67.5px,#cb3332 70px,#a51f29 72.5px,#841624 75px,#871724 77.5px,#ac222b 80px,#d03835 82.5px,#e4745f 85px,#f3d2c0 87.5px,#e2ecf0 90px,#aacfe3 92.5px,#7db0d0 95px,#5791c2 97.5px,#4078b4 100px,#3566a5 102.5px,#2e5998 105px,#2b508e 107.5px,#2a4b86 110px,#294883 112.5px,#284379 115px,#263f71 117.5px,#263d6e 120px,#263c6d 122.5px,#263c6c 125px,#253c6c 127.5px,#253c6b 130px,#253b6b 132.5px,#253b6b 135px,#253b6b 137.5px,#253b6b 140px,#253b6b 142.5px,#253b6b 145px,#253b6b 147.5px,#253b6b 150px,#253b6b 152.5px,#253b6b 155px,#253b6b 157.5px)"></div><div style="top:114px;height:2.6px;background:linear-gradient(90deg,#253b6b 0px,#253b6b 2.5px,#253b6b 5px,#253b6b 7.5px,#253b6b 10px,#253b6b 12.5px,#253b6b 15px,#253b6b 17.5px,#253b6b 20px,#253c6b 22.5px,#253c6c 25px,#263c6c 27.5px,#263d6d 30px,#263d6f 32.5px,#264073 35px,#28447c 37.5px,#294983 40px,#2a4c87 42.5px,#2c5290 45px,#2f5b9a 47.5px,#3769a8 50px,#447db7 52.5px,#5e98c4 55px,#86b6d4 57.5px,#b5d6e7 60px,#eaedee 62.5px,#f0c0a9 65px,#e05d4c 67.5px,#c83030 70px,#9c1d28 72.5px,#791322 75px,#7c1422 77.5px,#a51f29 80px,#cd3533 82.5px,#e36e5a 85px,#f2ceba 87.5px,#e4ecf0 90px,#acd0e3 92.5px,#7eb1d0 95px,#5892c2 97.5px,#4178b4 100px,#3566a5 102.5px,#2e5998 105px,#2b518e 107.5px,#2a4b87 110px,#294983 112.5px,#28437a 115px,#263f72 117.5px,#263d6e 120px,#263d6d 122.5px,#263c6c 125px,#253c6c 127.5px,#253c6b 130px,#253b6b 132.5px,#253b6b 135px,#253b6b 137.5px,#253b6b 140px,#253b6b 142.5px,#253b6b 145px,#253b6b 147.5px,#253b6b 150px,#253b6b 152.5px,#253b6b 155px,#253b6b 157.5px)"></div><div style="top:116px;height:2.6px;background:linear-gradient(90deg,#253b6b 0px,#253b6b 2.5px,#253b6b 5px,#253b6b 7.5px,#253b6b 10px,#253b6b 12.5px,#253b6b 15px,#253b6b 17.5px,#253b6b 20px,#253c6b 22.5px,#253c6c 25px,#263c6c 27.5px,#263d6d 30px,#263d6f 32.5px,#274073 35px,#28457c 37.5px,#294984 40px,#2a4c88 42.5px,#2c5290 45px,#305c9b 47.5px,#3769a8 50px,#447db8 52.5px,#5f99c5 55px,#87b7d4 57.5px,#b7d7e8 60px,#ebedee 62.5px,#efbba3 65px,#df5949 67.5px,#c32e2f 70px,#931a26 72.5px,#6f1020 75px,#731121 77.5px,#9d1d28 80px,#ca3231 82.5px,#e26855 85px,#f2cab6 87.5px,#e5ecef 90px,#aed2e4 92.5px,#80b2d1 95px,#5993c3 97.5px,#4179b5 100px,#3667a6 102.5px,#2e5a99 105px,#2b518e 107.5px,#2a4b87 110px,#294983 112.5px,#28447a 115px,#263f72 117.5px,#263d6f 120px,#263d6d 122.5px,#263c6c 125px,#253c6c 127.5px,#253c6b 130px,#253b6b 132.5px,#253b6b 135px,#253b6b 137.5px,#253b6b 140px,#253b6b 142.5px,#253b6b 145px,#253b6b 147.5px,#253b6b 150px,#253b6b 152.5px,#253b6b 155px,#253b6b 157.5px)"></div><div style="top:118px;height:2.6px;background:linear-gradient(90deg,#253b6b 0px,#253b6b 2.5px,#253b6b 5px,#253b6b 7.5px,#253b6b 10px,#253b6b 12.5px,#253b6b 15px,#253b6b 17.5px,#253b6b 20px,#253c6b 22.5px,#253c6c 25px,#263c6c 27.5px,#263d6d 30px,#263d6f 32.5px,#274073 35px,#28457c 37.5px,#294984 40px,#2a4c88 42.5px,#2c5290 45px,#305c9b 47.5px,#376aa9 50px,#457eb8 52.5px,#609ac5 55px,#88b8d5 57.5px,#b9d8e8 60px,#eceded 62.5px,#efb79f 65px,#de5647 67.5px,#c02c2f 70px,#8c1825 72.5px,#6e1020 75px,#6e1020 77.5px,#961b27 80px,#c83030 82.5px,#e16351 85px,#f1c7b2 87.5px,#e6edef 90px,#b0d3e5 92.5px,#81b3d2 95px,#5a94c3 97.5px,#427ab5 100px,#3667a6 102.5px,#2f5a99 105px,#2b518e 107.5px,#2a4b87 110px,#294983 112.5px,#28447a 115px,#263f72 117.5px,#263d6f 120px,#263d6d 122.5px,#263c6c 125px,#253c6c 127.5px,#253c6b 130px,#253b6b 132.5px,#253b6b 135px,#253b6b 137.5px,#253b6b 140px,#253b6b 142.5px,#253b6b 145px,#253b6b 147.5px,#253b6b 150px,#253b6b 152.5px,#253b6b 155px,#253b6b 157.5px)"></div><div style="top:120px;height:2.6px;background:linear-gradient(90deg,#253b6b 0px,#253b6b 2.5px,#253b6b 5px,#253b6b 7.5px,#253b6b 10px,#253b6b 12.5px,#253b6b 15px,#253b6b 17.5px,#253b6b 20px,#253c6b 22.5px,#253c6c 25px,#263c6c 27.5px,#263d6d 30px,#263d6f 32.5px,#274073 35px,#28457d 37.5px,#294984 40px,#2a4c88 42.5px,#2c5390 45px,#305c9b 47.5px,#376aa9 50px,#457eb8 52.5px,#619ac5 55px,#89b9d5 57.5px,#bad9e8 60px,#ededed 62.5px,#eeb49c 65px,#dd5446 67.5px,#be2b2e 70px,#881724 72.5px,#6e1020 75px,#6e1020 77.5px,#921a26 80px,#c62f30 82.5px,#e0604e 85px,#f1c5af 87.5px,#e7edef 90px,#b1d3e5 92.5px,#82b3d2 95px,#5b95c3 97.5px,#427ab6 100px,#3667a6 102.5px,#2f5a99 105px,#2b518f 107.5px,#2a4b87 110px,#294983 112.5px,#28447b 115px,#263f72 117.5px,#263d6f 120px,#263d6d 122.5px,#263c6c 125px,#253c6c 127.5px,#253c6b 130px,#253b6b 132.5px,#253b6b 135px,#253b6b 137.5px,#253b6b 140px,#253b6b 142.5px,#253b6b 145px,#253b6b 147.5px,#253b6b 150px,#253b6b 152.5px,#253b6b 155px,#253b6b 157.5px)"></div><div style="top:122px;height:2.6px;background:linear-gradient(90deg,#253b6b 0px,#253b6b 2.5px,#253b6b 5px,#253b6b 7.5px,#253b6b 10px,#253b6b 12.5px,#253b6b 15px,#253b6b 17.5px,#253c6b 20px,#253c6b 22.5px,#253c6c 25px,#263c6c 27.5px,#263d6d 30px,#263d6f 32.5px,#274074 35px,#28457d 37.5px,#294984 40px,#2a4c88 42.5px,#2c5390 45px,#305d9c 47.5px,#376aa9 50px,#457fb9 52.5px,#629bc5 55px,#8ab9d5 57.5px,#bbd9e9 60px,#ededed 62.5px,#eeb39b 65px,#dd5345 67.5px,#bd2b2e 70px,#871724 72.5px,#6e1020 75px,#6e1020 77.5px,#911a26 80px,#c62f30 82.5px,#e05f4d 85px,#f1c5ae 87.5px,#e7edef 90px,#b1d4e5 92.5px,#82b4d2 95px,#5b95c3 97.5px,#427bb6 100px,#3668a7 102.5px,#2f5a99 105px,#2b518f 107.5px,#2a4b87 110px,#294983 112.5px,#28447b 115px,#263f72 117.5px,#263d6f 120px,#263d6d 122.5px,#263c6c 125px,#253c6c 127.5px,#253c6b 130px,#253b6b 132.5px,#253b6b 135px,#253b6b 137.5px,#253b6b 140px,#253b6b 142.5px,#253b6b 145px,#253b6b 147.5px,#253b6b 150px,#253b6b 152.5px,#253b6b 155px,#253b6b 157.5px)"></div><div style="top:124px;height:2.6px;background:linear-gradient(90deg,#253b6b 0px,#253b6b 2.5px,#253b6b 5px,#253b6b 7.5px,#253b6b 10px,#253b6b 12.5px,#253b6b 15px,#253b6b 17.5px,#253c6b 20px,#253c6b 22.5px,#253c6c 25px,#263c6c 27.5px,#263d6d 30px,#263e6f 32.5px,#274074 35px,#28457d 37.5px,#294984 40px,#2a4c88 42.5px,#2c5391 45px,#305d9c 47.5px,#386baa 50px,#467fb9 52.5px,#629bc5 55px,#8ab9d6 57.5px,#bbdae9 60px,#eeeded 62.5px,#eeb39b 65px,#dd5346 67.5px,#be2b2e 70px,#881725 72.5px,#6e1020 75px,#6e1020 77.5px,#921a26 80px,#c62f30 82.5px,#e0604d 85px,#f1c4ae 87.5px,#e7edef 90px,#b2d4e6 92.5px,#83b4d2 95px,#5c96c4 97.5px,#437bb6 100px,#3668a7 102.5px,#2f5b9a 105px,#2b518f 107.5px,#2a4b87 110px,#294983 112.5px,#28447b 115px,#263f72 117.5px,#263d6f 120px,#263d6d 122.5px,#263c6c 125px,#253c6c 127.5px,#253c6b 130px,#253b6b 132.5px,#253b6b 135px,#253b6b 137.5px,#253b6b 140px,#253b6b 142.5px,#253b6b 145px,#253b6b 147.5px,#253b6b 150px,#253b6b 152.5px,#253b6b 155px,#253b6b 157.5px)"></div><div style="top:126px;height:2.6px;background:linear-gradient(90deg,#253b6b 0px,#253b6b 2.5px,#253b6b 5px,#253b6b 7.5px,#253b6b 10px,#253b6b 12.5px,#253b6b 15px,#253b6b 17.5px,#253c6b 20px,#253c6b 22.5px,#253c6c 25px,#263c6c 27.5px,#263d6d 30px,#263e6f 32.5px,#274074 35px,#28457d 37.5px,#294984 40px,#2a4c88 42.5px,#2c5391 45px,#305d9c 47.5px,#386baa 50px,#467fb9 52.5px,#639cc6 55px,#8bbad6 57.5px,#bcdae9 60px,#eeeded 62.5px,#eeb49c 65px,#dd5446 67.5px,#c02c2e 70px,#8c1825 72.5px,#6e1020 75px,#6e1020 77.5px,#961b27 80px,#c83030 82.5px,#e1614f 85px,#f1c5ae 87.5px,#e7edef 90px,#b2d4e6 92.5px,#83b4d2 95px,#5c96c4 97.5px,#437bb6 100px,#3668a7 102.5px,#2f5b9a 105px,#2c528f 107.5px,#2a4b87 110px,#294983 112.5px,#28447b 115px,#263f73 117.5px,#263d6f 120px,#263d6d 122.5px,#263c6c 125px,#253c6c 127.5px,#253c6b 130px,#253b6b 132.5px,#253b6b 135px,#253b6b 137.5px,#253b6b 140px,#253b6b 142.5px,#253b6b 145px,#253b6b 147.5px,#253b6b 150px,#253b6b 152.5px,#253b6b 155px,#253b6b 157.5px)"></div><div style="top:128px;height:2.6px;background:linear-gradient(90deg,#253b6b 0px,#253b6b 2.5px,#253b6b 5px,#253b6b 7.5px,#253b6b 10px,#253b6b 12.5px,#253b6b 15px,#253b6b 17.5px,#253c6b 20px,#253c6b 22.5px,#253c6c 25px,#263c6c 27.5px,#263d6d 30px,#263e6f 32.5px,#274074 35px,#28457d 37.5px,#294984 40px,#2a4c88 42.5px,#2c5391 45px,#305d9c 47.5px,#386baa 50px,#4680b9 52.5px,#639cc6 55px,#8bbad6 57.5px,#bcdae9 60px,#eeeded 62.5px,#eeb59d 65px,#de5647 67.5px,#c22d2f 70px,#931a26 72.5px,#6f1020 75px,#731121 77.5px,#9c1d28 80px,#ca3231 82.5px,#e16451 85px,#f1c5af 87.5px,#e8edef 90px,#b3d4e6 92.5px,#83b5d3 95px,#5d96c4 97.5px,#437bb6 100px,#3668a7 102.5px,#2f5b9a 105px,#2c528f 107.5px,#2a4c87 110px,#294983 112.5px,#28447c 115px,#264073 117.5px,#263d6f 120px,#263d6d 122.5px,#263c6c 125px,#253c6c 127.5px,#253c6b 130px,#253b6b 132.5px,#253b6b 135px,#253b6b 137.5px,#253b6b 140px,#253b6b 142.5px,#253b6b 145px,#253b6b 147.5px,#253b6b 150px,#253b6b 152.5px,#253b6b 155px,#253b6b 157.5px)"></div><div style="top:130px;height:2.6px;background:linear-gradient(90deg,#253b6b 0px,#253b6b 2.5px,#253b6b 5px,#253b6b 7.5px,#253b6b 10px,#253b6b 12.5px,#253b6b 15px,#253b6b 17.5px,#253c6b 20px,#253c6b 22.5px,#253c6c 25px,#263c6c 27.5px,#263d6e 30px,#263e6f 32.5px,#274074 35px,#28467e 37.5px,#294984 40px,#2a4c88 42.5px,#2c5391 45px,#305d9c 47.5px,#386baa 50px,#4680ba 52.5px,#639cc6 55px,#8bbad6 57.5px,#bcdae9 60px,#eeeded 62.5px,#efb79f 65px,#df5949 67.5px,#c62f30 70px,#9b1c28 72.5px,#791322 75px,#7d1423 77.5px,#a31f29 80px,#cc3432 82.5px,#e26754 85px,#f1c6b0 87.5px,#e8edef 90px,#b3d5e6 92.5px,#84b5d3 95px,#5d97c4 97.5px,#437cb7 100px,#3668a7 102.5px,#2f5b9a 105px,#2c528f 107.5px,#2a4c87 110px,#294983 112.5px,#28457c 115px,#264073 117.5px,#263d6f 120px,#263d6d 122.5px,#263c6c 125px,#253c6c 127.5px,#253c6b 130px,#253b6b 132.5px,#253b6b 135px,#253b6b 137.5px,#253b6b 140px,#253b6b 142.5px,#253b6b 145px,#253b6b 147.5px,#253b6b 150px,#253b6b 152.5px,#253b6b 155px,#253b6b 157.5px)"></div><div style="top:132px;height:1.3px;background:linear-gradient(90deg,#253b6b 0px,#253b6b 2.5px,#253b6b 5px,#253b6b 7.5px,#253b6b 10px,#253b6b 12.5px,#253b6b 15px,#253b6b 17.5px,#253c6b 20px,#253c6b 22.5px,#253c6c 25px,#263c6c 27.5px,#263d6e 30px,#263e6f 32.5px,#274074 35px,#28467e 37.5px,#294984 40px,#2a4c88 42.5px,#2c5391 45px,#305d9c 47.5px,#386baa 50px,#4680ba 52.5px,#649dc6 55px,#8cbad6 57.5px,#bddae9 60px,#eeeded 62.5px,#efb8a0 65px,#df5b4a 67.5px,#c83030 70px,#a11e29 72.5px,#811523 75px,#841624 77.5px,#a9202a 80px,#cd3533 82.5px,#e26a56 85px,#f1c7b1 87.5px,#e8edef 90px,#b3d5e6 92.5px,#84b5d3 95px,#5d97c4 97.5px,#437cb7 100px,#3769a8 102.5px,#2f5b9a 105px,#2c528f 107.5px,#2a4c87 110px,#294983 112.5px,#28457c 115px,#274073 117.5px,#263d6f 120px,#263d6d 122.5px,#263c6c 125px,#253c6c 127.5px,#253c6b 130px,#253b6b 132.5px,#253b6b 135px,#253b6b 137.5px,#253b6b 140px,#253b6b 142.5px,#253b6b 145px,#253b6b 147.5px,#253b6b 150px,#253b6b 152.5px,#253b6b 155px,#253b6b 157.5px)"></div></div><div class="hm" style="left:230.1px;top:180.9px;width:156.7px;height:132.1px;background:linear-gradient(90deg,#253b6b 0px,#253b6b 1.5px,#253b6b 3px,#253b6b 4.5px,#253b6b 6px,#253b6b 7.5px,#253b6b 9px,#253b6b 10.5px,#253b6b 12px,#253b6b 13.5px,#253b6b 15px,#253b6b 16.5px,#253b6b 18px,#253b6b 19.5px,#253b6b 21px,#253b6b 22.5px,#253c6b 24px,#253c6b 25.5px,#253c6b 27px,#253c6c 28.5px,#263c6c 30px,#263c6c 31.5px,#263d6d 33px,#263d6e 34.5px,#263d6f 36px,#263e70 37.5px,#274074 39px,#274379 40.5px,#28467f 42px,#294983 43.5px,#294a85 45px,#2a4c87 46.5px,#2b4f8b 48px,#2c5390 49.5px,#2d5796 51px,#315e9d 52.5px,#3565a4 54px,#396dac 55.5px,#4078b4 57px,#4984bc 58.5px,#5892c2 60px,#6aa2c8 61.5px,#7fb1d1 63px,#96c1da 64.5px,#b2d4e6 66px,#d5e6ed 67.5px,#f2eeec 69px,#f0c0a8 70.5px,#e4725d 72px,#d63e39 73.5px,#c02c2e 75px,#aa212a 76.5px,#9d1d28 78px,#a21e29 79.5px,#b5262c 81px,#cd3533 82.5px,#de5547 84px,#ea9a82 85.5px,#f4ddd0 87px,#e5ecef 88.5px,#c1dcea 90px,#a2cadf 91.5px,#89b9d5 93px,#74a9cc 94.5px,#609ac5 96px,#4e8ac0 97.5px,#447db8 99px,#3c71b0 100.5px,#3669a8 102px,#3261a0 103.5px,#2f5a99 105px,#2c5593 106.5px,#2b508e 108px,#2a4d89 109.5px,#2a4b86 111px,#294984 112.5px,#294882 114px,#28447c 115.5px,#274176 117px,#263f72 118.5px,#263e6f 120px,#263d6e 121.5px,#263d6d 123px,#263c6d 124.5px,#263c6c 126px,#253c6c 127.5px,#253c6c 129px,#253c6b 130.5px,#253c6b 132px,#253b6b 133.5px,#253b6b 135px,#253b6b 136.5px,#253b6b 138px,#253b6b 139.5px,#253b6b 141px,#253b6b 142.5px,#253b6b 144px,#253b6b 145.5px,#253b6b 147px,#253b6b 148.5px,#253b6b 150px,#253b6b 151.5px,#253b6b 153px,#253b6b 154.5px,#253b6b 156px)"></div><div class="hm" style="left:390.5px;top:184.0px;width:12.6px;height:124.8px;background:linear-gradient(0deg,#274277 0%,#294983 2%,#2a4b86 4%,#2b4e8b 6%,#2c5390 8%,#2d5796 10%,#305d9c 12%,#3362a1 14%,#3668a7 16%,#396ead 18%,#3e75b2 20%,#447cb7 22%,#4984bc 24%,#518cc0 26%,#5c96c4 28%,#669ec6 30%,#71a7ca 32%,#7cafcf 34%,#87b7d4 36%,#92bfd9 38%,#9fc7de 40%,#abd0e3 42%,#b8d8e8 44%,#c6dfeb 46%,#d4e5ed 48%,#e2ecf0 50%,#eaedee 52%,#f2eeec 54%,#f3e3da 56%,#f4d8c8 58%,#f1c8b3 60%,#eeb59d 62%,#eba088 64%,#e88a72 66%,#e57863 68%,#e26754 70%,#de5848 72%,#db4c41 74%,#d8403a 76%,#d33b37 78%,#cd3533 80%,#c83030 82%,#c02c2e 84%,#b8282d 86%,#b0242c 88%,#a8202a 90%,#9c1d28 92%,#911a26 94%,#851624 96%,#7a1322 98%,#6e1020 100%)"></div>
<svg width="685" height="500" viewBox="0 0 685 500" font-family='"Liberation Sans", sans-serif'>
<defs>
<radialGradient id="mb" cx="0.4" cy="0.38" r="0.65"><stop offset="0" stop-color="#e2eef8"/><stop offset="0.28" stop-color="#94c0e4"/><stop offset="0.65" stop-color="#6fa6d5"/><stop offset="1" stop-color="#5890c4"/></radialGradient>
<radialGradient id="mg" cx="0.4" cy="0.38" r="0.65"><stop offset="0" stop-color="#f6f6f6"/><stop offset="0.28" stop-color="#d4d4d4"/><stop offset="0.65" stop-color="#bebebe"/><stop offset="1" stop-color="#a9a9a9"/></radialGradient>

<radialGradient id="etlL" cx="0.5" cy="0.75" r="0.75"><stop offset="0" stop-color="#8fc962"/><stop offset="1" stop-color="#4a8234"/></radialGradient>
<radialGradient id="etlR" cx="0.52" cy="0.62" r="0.62" fx="0.52" fy="0.72"><stop offset="0" stop-color="#a9da86"/><stop offset="0.5" stop-color="#7fba55"/><stop offset="1" stop-color="#3f7a2c"/></radialGradient>
<linearGradient id="etlS" x1="0" y1="0" x2="1" y2="0"><stop offset="0" stop-color="#4d8737"/><stop offset="1" stop-color="#7fbd52"/></linearGradient>
<radialGradient id="ftoL" cx="0.55" cy="0.55" r="0.6"><stop offset="0" stop-color="#a4c9e8"/><stop offset="1" stop-color="#3b70aa"/></radialGradient>
<linearGradient id="ftoR" x1="0" y1="0" x2="0" y2="1"><stop offset="0" stop-color="#9fc6e6"/><stop offset="0.5" stop-color="#6a9fd0"/><stop offset="1" stop-color="#3a72ad"/></linearGradient>
<linearGradient id="ftoS" x1="0" y1="0" x2="1" y2="0"><stop offset="0" stop-color="#4a8636"/><stop offset="0.5" stop-color="#5e9c44"/><stop offset="1" stop-color="#86c45b"/></linearGradient>
<clipPath id="phc"><rect x="240" y="53.8" width="102" height="82"/></clipPath>
<filter id="bl1" x="-5%" y="-5%" width="110%" height="110%"><feGaussianBlur stdDeviation="0.55"/></filter>
<filter id="bl2" x="-5%" y="-5%" width="110%" height="110%"><feGaussianBlur stdDeviation="1.2"/></filter>
<linearGradient id="cellg" x1="0" y1="0" x2="1" y2="1"><stop offset="0" stop-color="#2d4686"/><stop offset="1" stop-color="#243b74"/></linearGradient>
<linearGradient id="glvg" x1="0" y1="0" x2="1" y2="1"><stop offset="0" stop-color="#3566dc"/><stop offset="1" stop-color="#2a56c8"/></linearGradient>
<clipPath id="bclip"><rect x="231.4" y="6.4" width="161.99999999999997" height="134.4"/></clipPath><circle id="gb" r="1.9" fill="url(#mb)" stroke="#5a94c8" stroke-width="0.5"/><circle id="gg" r="1.9" fill="url(#mg)" stroke="#a4a4a4" stroke-width="0.5"/></defs>
<text x="0.6" y="13.5" font-size="18.3" fill="#000" text-anchor="start">a</text><rect x="21.9" y="115.4" width="169.6" height="21.6" fill="#efefef"/><rect x="21.9" y="94.8" width="50.6" height="20.6" fill="url(#ftoL)"/><rect x="72.5" y="94.8" width="8.5" height="20.6" fill="url(#ftoS)"/><rect x="81" y="94.8" width="110.5" height="20.6" fill="url(#ftoR)"/><rect x="21.9" y="15.9" width="28.3" height="14.4" fill="#e5b935"/><rect x="21.9" y="30.3" width="28.2" height="47.9" fill="#a259a8"/><rect x="21.9" y="44.7" width="24.3" height="33.4" fill="#bcd8ea"/><rect x="21.9" y="54" width="18.3" height="24.1" fill="#c35f23"/><rect x="21.9" y="78" width="28.2" height="16.8" fill="url(#etlL)"/><rect x="56.7" y="15.9" width="134.8" height="14.4" fill="#e5b935"/><rect x="56.7" y="15.9" width="5.2" height="78.9" fill="#e5b935"/><rect x="61.9" y="30.3" width="129.6" height="13.9" fill="#a259a8"/><rect x="61.9" y="30.3" width="2.7" height="64.5" fill="#a259a8"/><rect x="64.6" y="44" width="126.9" height="10.8" fill="#bcd8ea"/><rect x="64.6" y="44" width="4.6" height="35.1" fill="#bcd8ea"/><rect x="69.2" y="54.7" width="122.3" height="24.4" fill="#c35f23"/><rect x="64.6" y="79" width="126.9" height="15.8" fill="url(#etlR)"/><path d="M66 23.4H58.2" stroke="#ffffff" stroke-width="0.7"/><path d="M60.4 21.6L57.8 23.4L60.4 25.2" fill="none" stroke="#ffffff" stroke-width="0.7" stroke-linejoin="miter"/><text x="69.4" y="25.8" font-size="8.9" fill="#ffffff" text-anchor="start">P4</text><path d="M74.2 38H66.2" stroke="#ffffff" stroke-width="0.7"/><path d="M68.4 36.2L65.8 38L68.4 39.8" fill="none" stroke="#ffffff" stroke-width="0.7" stroke-linejoin="miter"/><text x="74" y="40.4" font-size="8.9" fill="#ffffff" text-anchor="start">P3</text><text x="119.8" y="27.2" font-size="11.0" fill="#ffffff" text-anchor="start">Au</text><text x="117.4" y="41.9" font-size="11.4" fill="#ffffff" text-anchor="start">HTL</text><text x="120.6" y="52.8" font-size="8.9" fill="#1a1a1a" text-anchor="start">1-BP</text><text x="74" y="68.7" font-size="11.0" fill="#ffffff" text-anchor="start">P2</text><path d="M85.6 72.4H75.4" stroke="#ffffff" stroke-width="0.9"/><path d="M77.6 70.6L75 72.4L77.6 74.2" fill="none" stroke="#ffffff" stroke-width="0.9" stroke-linejoin="miter"/><text x="93.2" y="70.4" font-size="11.2" fill="#ffffff" text-anchor="start">perovskite</text><text x="119.2" y="91.3" font-size="11.2" fill="#ffffff" text-anchor="start">ETL</text><text x="117.2" y="109.8" font-size="11.4" fill="#ffffff" text-anchor="start">FTO</text><text x="35.8" y="110.2" font-size="10.8" fill="#ffffff" text-anchor="start">P1</text><path d="M48.6 106.4H58.4" stroke="#ffffff" stroke-width="0.9"/><path d="M56.2 104.6L58.8 106.4L56.2 108.2" fill="none" stroke="#ffffff" stroke-width="0.9" stroke-linejoin="miter"/><text x="84.6" y="130.6" font-size="11.2" fill="#1a1a1a" text-anchor="start">Substrate</text><text x="201.4" y="13.6" font-size="18.3" fill="#000" text-anchor="start">b</text><g clip-path="url(#phc)"><rect x="240" y="53.8" width="102" height="82" fill="#d6dae0"/><g filter="url(#bl2)"><rect x="238" y="51.8" width="50" height="7.2" fill="#dcdcde"/><rect x="286" y="51.8" width="26" height="6.4" fill="#b27262"/><rect x="312" y="51.8" width="20" height="6.4" fill="#d6ccc0"/><rect x="238" y="59.2" width="40" height="4.4" fill="#6e706e"/><rect x="255" y="59.6" width="22" height="4" fill="#5e605e"/><rect x="277" y="58.6" width="54" height="5.6" fill="#e8d8b0"/><rect x="330" y="51.8" width="14" height="10" fill="#4a4a4a"/><rect x="305" y="62" width="37" height="3.2" fill="#4e4e4c"/><rect x="305" y="65" width="37" height="6" fill="#a4a6a8"/><rect x="326" y="65" width="16" height="4.6" fill="#e6d4b4"/></g><g filter="url(#bl1)"><rect x="244.8" y="100.5" width="10" height="16.5" fill="#3e4c58"/><rect x="245.6" y="101.5" width="4.5" height="7" fill="#a6b2aa"/><rect x="321.5" y="72.5" width="13" height="15.5" fill="#56677c"/><rect x="310.5" y="72" width="6" height="15" fill="#66778c"/><rect x="320.5" y="102.5" width="13.5" height="14.5" fill="#34445a"/><rect x="298" y="127.2" width="18.5" height="10" fill="#27303c"/><rect x="320.5" y="127.2" width="13.5" height="10" fill="#283240"/><rect x="335.5" y="71" width="6.5" height="70" fill="#dde1e7"/><rect x="241" y="119.6" width="13.5" height="1.8" fill="#a84444"/><rect x="268" y="119.6" width="8" height="1.8" fill="#a84444"/><rect x="305.5" y="117.8" width="11" height="1.8" fill="#b04848"/><path d="M320 119.2h3M325 119.4h3M329.5 119.6h3" stroke="#a85050" stroke-width="1.8"/><path d="M319 91.5h3M324 91.8h3M329 92h3" stroke="#a85050" stroke-width="1.6"/><rect x="262.2" y="96" width="1.3" height="31" fill="#8a7464"/></g><g filter="url(#bl1)"><polygon points="301.2,57.3 330.8,104.4 282,124.5 255.6,84.6" fill="#bcc6d6"/><polygon points="256,84.4 259.6,82.8 283.3,123.4 280.3,124.8" fill="#8c8c96"/><polygon points="302.3,61.6 305.4,60.6 326.2,101.3 322.9,102.2" fill="#98949a"/><polygon points="280.3,124.8 326.3,101.6 331,104.4 283,126.6" fill="#9db8e0"/><polygon points="302.3,62.6 322.6,101.8 281.2,122.2 259.8,84.2" fill="url(#cellg)"/></g><path d="M265.11 81.5L286.38 119.65M270.43 78.8L291.55 117.1M275.74 76.1L296.73 114.55M281.05 73.4L301.9 112M286.36 70.7L307.07 109.45M291.68 68L312.25 106.9M296.99 65.3L317.43 104.35" stroke="#5870a8" stroke-width="0.5" opacity="0.75"/><g filter="url(#bl1)"><path d="M238 63.4 L244 63.4 C247 63.5 249.5 64 251 64.8 C252.5 65.4 254 65.8 256.5 66.2 C260 66.4 263.5 67.2 266.2 69.2 C268.4 70.8 269 72.6 268.4 74.2 C267.6 76 265.6 77.8 263 79.2 C260.5 80.6 258.6 81.6 257.2 83.2 C255.6 85.4 254 88.5 252 92 C250 96 248.5 101 246.5 106 C245 110 243 113.5 240.5 116.5 L238 118.6 Z" fill="url(#glvg)"/><path d="M251 65 C252 68 252.5 71 252 74" fill="none" stroke="#1e46b0" stroke-width="1" opacity="0.55"/><path d="M241 76 C244 80 247 84 249 90" fill="none" stroke="#2048b4" stroke-width="1.4" opacity="0.45"/><path d="M238 124.2 C246 125.6 254 125.8 262 125 C272 124 282 122.8 292 121.8 C298 121.2 302 121.2 304 122.6 C305.6 124.6 304.6 128 302.4 131 C300.6 133.6 299 135.5 297.5 138 L238 138 Z" fill="#3060d4"/><path d="M270 131 C280 129 290 128 299 130" fill="none" stroke="#2248b4" stroke-width="1.4" opacity="0.5"/></g></g><polyline points="231.4,16.02 231.89,16.03 232.38,16.04 232.87,16.04 233.37,16.05 233.86,16.06 234.35,16.06 234.84,16.07 235.33,16.08 235.82,16.08 236.31,16.09 236.81,16.1 237.3,16.1 237.79,16.11 238.28,16.12 238.77,16.12 239.26,16.13 239.75,16.14 240.25,16.14 240.74,16.15 241.23,16.16 241.72,16.16 242.21,16.17 242.7,16.18 243.19,16.18 243.69,16.19 244.18,16.2 244.67,16.2 245.16,16.21 245.65,16.22 246.14,16.22 246.63,16.23 247.13,16.24 247.62,16.24 248.11,16.25 248.6,16.26 249.09,16.26 249.58,16.27 250.07,16.28 250.57,16.29 251.06,16.29 251.55,16.3 252.04,16.31 252.53,16.31 253.02,16.32 253.51,16.33 254.01,16.33 254.5,16.34 254.99,16.35 255.48,16.35 255.97,16.36 256.46,16.37 256.95,16.38 257.45,16.38 257.94,16.39 258.43,16.4 258.92,16.4 259.41,16.41 259.9,16.42 260.39,16.42 260.89,16.43 261.38,16.44 261.87,16.44 262.36,16.45 262.85,16.46 263.34,16.47 263.83,16.47 264.33,16.48 264.82,16.49 265.31,16.49 265.8,16.5 266.29,16.51 266.78,16.51 267.27,16.52 267.76,16.53 268.26,16.53 268.75,16.54 269.24,16.55 269.73,16.55 270.22,16.56 270.71,16.56 271.2,16.57 271.7,16.58 272.19,16.58 272.68,16.59 273.17,16.59 273.66,16.6 274.15,16.61 274.64,16.61 275.14,16.62 275.63,16.62 276.12,16.63 276.61,16.64 277.1,16.64 277.59,16.65 278.08,16.66 278.58,16.66 279.07,16.67 279.56,16.67 280.05,16.68 280.54,16.69 281.03,16.69 281.52,16.7 282.02,16.71 282.51,16.71 283,16.72 283.49,16.72 283.98,16.73 284.47,16.74 284.96,16.74 285.46,16.75 285.95,16.76 286.44,16.77 286.93,16.77 287.42,16.78 287.91,16.79 288.4,16.8 288.9,16.8 289.39,16.81 289.88,16.82 290.37,16.83 290.86,16.84 291.35,16.84 291.84,16.85 292.34,16.86 292.83,16.87 293.32,16.88 293.81,16.89 294.3,16.9 294.79,16.91 295.28,16.92 295.78,16.93 296.27,16.93 296.76,16.95 297.25,16.96 297.74,16.97 298.23,16.98 298.72,16.99 299.22,17 299.71,17.01 300.2,17.02 300.69,17.03 301.18,17.05 301.67,17.06 302.16,17.07 302.66,17.09 303.15,17.1 303.64,17.12 304.13,17.14 304.62,17.15 305.11,17.17 305.6,17.19 306.1,17.21 306.59,17.23 307.08,17.25 307.57,17.27 308.06,17.29 308.55,17.31 309.04,17.33 309.54,17.35 310.03,17.38 310.52,17.4 311.01,17.42 311.5,17.45 311.99,17.47 312.48,17.5 312.98,17.52 313.47,17.55 313.96,17.58 314.45,17.61 314.94,17.64 315.43,17.67 315.92,17.7 316.42,17.74 316.91,17.77 317.4,17.81 317.89,17.84 318.38,17.88 318.87,17.92 319.36,17.96 319.86,18 320.35,18.04 320.84,18.09 321.33,18.13 321.82,18.17 322.31,18.22 322.8,18.27 323.3,18.32 323.79,18.37 324.28,18.42 324.77,18.47 325.26,18.53 325.75,18.58 326.24,18.64 326.74,18.69 327.23,18.75 327.72,18.81 328.21,18.87 328.7,18.94 329.19,19 329.68,19.06 330.18,19.13 330.67,19.19 331.16,19.26 331.65,19.33 332.14,19.4 332.63,19.48 333.12,19.56 333.61,19.64 334.11,19.73 334.6,19.82 335.09,19.92 335.58,20.02 336.07,20.12 336.56,20.23 337.05,20.35 337.55,20.48 338.04,20.61 338.53,20.75 339.02,20.89 339.51,21.05 340,21.21 340.49,21.38 340.99,21.56 341.48,21.76 341.97,22.05 342.46,22.42 342.95,22.84 343.44,23.3 343.93,23.79 344.43,24.28 344.92,24.75 345.41,25.24 345.9,25.74 346.39,26.27 346.88,26.82 347.37,27.37 347.87,27.93 348.36,28.49 348.85,29.04 349.34,29.59 349.83,30.15 350.32,30.72 350.81,31.33 351.31,31.96 351.8,32.65 352.29,33.38 352.78,34.17 353.27,35.01 353.76,35.9 354.25,36.83 354.75,37.79 355.24,38.8 355.73,39.87 356.22,41 356.71,42.19 357.2,43.41 357.69,44.66 358.19,45.92 358.68,47.19 359.17,48.47 359.66,49.79 360.15,51.13 360.64,52.51 361.13,53.93 361.63,55.4 362.12,56.91 362.61,58.45 363.1,60.04 363.59,61.67 364.08,63.36 364.57,65.11 365.07,66.91 365.56,68.79 366.05,70.76 366.54,72.83 367.03,74.97 367.52,77.18 368.01,79.45 368.51,81.75 369,84.09 369.49,86.44 369.98,88.83 370.47,91.27 370.96,93.77 371.45,96.36 371.95,99.04 372.44,101.84 372.93,104.8 373.42,107.98 373.91,111.3 374.4,114.73 374.89,118.18 375.39,121.61 375.88,124.96 376.37,128.19 376.86,131.38 377.35,134.55 377.84,137.68 378.33,140.8" fill="none" stroke="#b4b4b4" stroke-width="0.9" stroke-linejoin="round"/><polyline points="231.4,14.23 231.9,14.23 232.4,14.24 232.9,14.24 233.4,14.25 233.91,14.26 234.41,14.26 234.91,14.27 235.41,14.27 235.91,14.28 236.41,14.28 236.91,14.29 237.41,14.3 237.92,14.3 238.42,14.31 238.92,14.31 239.42,14.32 239.92,14.33 240.42,14.33 240.92,14.34 241.42,14.34 241.92,14.35 242.43,14.36 242.93,14.36 243.43,14.37 243.93,14.38 244.43,14.38 244.93,14.39 245.43,14.39 245.93,14.4 246.44,14.41 246.94,14.41 247.44,14.42 247.94,14.43 248.44,14.43 248.94,14.44 249.44,14.44 249.94,14.45 250.44,14.46 250.95,14.46 251.45,14.47 251.95,14.48 252.45,14.48 252.95,14.49 253.45,14.5 253.95,14.5 254.45,14.51 254.96,14.52 255.46,14.52 255.96,14.53 256.46,14.54 256.96,14.54 257.46,14.55 257.96,14.56 258.46,14.56 258.96,14.57 259.47,14.58 259.97,14.58 260.47,14.59 260.97,14.6 261.47,14.6 261.97,14.61 262.47,14.62 262.97,14.62 263.47,14.63 263.98,14.64 264.48,14.64 264.98,14.65 265.48,14.66 265.98,14.67 266.48,14.67 266.98,14.68 267.48,14.69 267.99,14.69 268.49,14.7 268.99,14.71 269.49,14.71 269.99,14.72 270.49,14.73 270.99,14.73 271.49,14.74 271.99,14.75 272.5,14.75 273,14.76 273.5,14.77 274,14.77 274.5,14.78 275,14.79 275.5,14.79 276,14.8 276.51,14.81 277.01,14.81 277.51,14.82 278.01,14.83 278.51,14.84 279.01,14.84 279.51,14.85 280.01,14.86 280.51,14.86 281.02,14.87 281.52,14.88 282.02,14.89 282.52,14.89 283.02,14.9 283.52,14.91 284.02,14.92 284.52,14.92 285.03,14.93 285.53,14.94 286.03,14.95 286.53,14.96 287.03,14.96 287.53,14.97 288.03,14.98 288.53,14.99 289.03,15 289.54,15 290.04,15.01 290.54,15.02 291.04,15.03 291.54,15.04 292.04,15.05 292.54,15.06 293.04,15.07 293.55,15.08 294.05,15.08 294.55,15.09 295.05,15.1 295.55,15.11 296.05,15.12 296.55,15.13 297.05,15.14 297.55,15.15 298.06,15.16 298.56,15.17 299.06,15.18 299.56,15.19 300.06,15.2 300.56,15.22 301.06,15.23 301.56,15.24 302.07,15.25 302.57,15.26 303.07,15.27 303.57,15.29 304.07,15.3 304.57,15.31 305.07,15.32 305.57,15.34 306.07,15.35 306.58,15.36 307.08,15.38 307.58,15.39 308.08,15.4 308.58,15.42 309.08,15.43 309.58,15.45 310.08,15.46 310.58,15.48 311.09,15.49 311.59,15.51 312.09,15.52 312.59,15.54 313.09,15.56 313.59,15.57 314.09,15.59 314.59,15.61 315.1,15.62 315.6,15.64 316.1,15.66 316.6,15.68 317.1,15.7 317.6,15.72 318.1,15.73 318.6,15.75 319.1,15.77 319.61,15.8 320.11,15.82 320.61,15.84 321.11,15.86 321.61,15.88 322.11,15.91 322.61,15.93 323.11,15.95 323.62,15.98 324.12,16.01 324.62,16.03 325.12,16.06 325.62,16.09 326.12,16.12 326.62,16.14 327.12,16.17 327.62,16.21 328.13,16.24 328.63,16.27 329.13,16.3 329.63,16.34 330.13,16.38 330.63,16.42 331.13,16.46 331.63,16.5 332.14,16.55 332.64,16.59 333.14,16.64 333.64,16.69 334.14,16.75 334.64,16.8 335.14,16.86 335.64,16.92 336.14,16.98 336.65,17.04 337.15,17.1 337.65,17.17 338.15,17.24 338.65,17.31 339.15,17.38 339.65,17.45 340.15,17.53 340.66,17.6 341.16,17.68 341.66,17.77 342.16,17.87 342.66,17.98 343.16,18.1 343.66,18.22 344.16,18.35 344.66,18.48 345.17,18.61 345.67,18.74 346.17,18.88 346.67,19.02 347.17,19.17 347.67,19.32 348.17,19.48 348.67,19.63 349.18,19.79 349.68,19.94 350.18,20.1 350.68,20.27 351.18,20.45 351.68,20.65 352.18,20.87 352.68,21.12 353.18,21.39 353.69,21.68 354.19,22 354.69,22.34 355.19,22.7 355.69,23.08 356.19,23.5 356.69,23.96 357.19,24.46 357.69,25.01 358.2,25.6 358.7,26.24 359.2,26.96 359.7,27.78 360.2,28.68 360.7,29.64 361.2,30.64 361.7,31.68 362.21,32.74 362.71,33.83 363.21,34.98 363.71,36.18 364.21,37.43 364.71,38.76 365.21,40.15 365.71,41.61 366.21,43.17 366.72,44.84 367.22,46.6 367.72,48.45 368.22,50.39 368.72,52.41 369.22,54.51 369.72,56.7 370.22,59.02 370.73,61.45 371.23,64 371.73,66.64 372.23,69.38 372.73,72.2 373.23,75.15 373.73,78.24 374.23,81.47 374.73,84.81 375.24,88.26 375.74,91.8 376.24,95.41 376.74,99.06 377.24,102.74 377.74,106.52 378.24,110.43 378.74,114.54 379.25,118.89 379.75,123.55 380.25,128.73 380.75,134.58 381.25,140.8" fill="none" stroke="#5f9bd0" stroke-width="0.9" stroke-linejoin="round"/><g clip-path="url(#bclip)"><circle cx="230.83" cy="14.22" r="2.5" fill="url(#mb)" stroke="#5a94c8" stroke-width="0.6"/><circle cx="234.38" cy="14.26" r="2.5" fill="url(#mb)" stroke="#5a94c8" stroke-width="0.6"/><circle cx="237.93" cy="14.3" r="2.5" fill="url(#mb)" stroke="#5a94c8" stroke-width="0.6"/><circle cx="241.48" cy="14.35" r="2.5" fill="url(#mb)" stroke="#5a94c8" stroke-width="0.6"/><circle cx="245.02" cy="14.39" r="2.5" fill="url(#mb)" stroke="#5a94c8" stroke-width="0.6"/><circle cx="248.57" cy="14.43" r="2.5" fill="url(#mb)" stroke="#5a94c8" stroke-width="0.6"/><circle cx="252.12" cy="14.48" r="2.5" fill="url(#mb)" stroke="#5a94c8" stroke-width="0.6"/><circle cx="255.67" cy="14.53" r="2.5" fill="url(#mb)" stroke="#5a94c8" stroke-width="0.6"/><circle cx="259.22" cy="14.57" r="2.5" fill="url(#mb)" stroke="#5a94c8" stroke-width="0.6"/><circle cx="262.76" cy="14.62" r="2.5" fill="url(#mb)" stroke="#5a94c8" stroke-width="0.6"/><circle cx="266.31" cy="14.67" r="2.5" fill="url(#mb)" stroke="#5a94c8" stroke-width="0.6"/><circle cx="269.86" cy="14.72" r="2.5" fill="url(#mb)" stroke="#5a94c8" stroke-width="0.6"/><circle cx="273.41" cy="14.77" r="2.5" fill="url(#mb)" stroke="#5a94c8" stroke-width="0.6"/><circle cx="276.95" cy="14.81" r="2.5" fill="url(#mb)" stroke="#5a94c8" stroke-width="0.6"/><circle cx="280.5" cy="14.86" r="2.5" fill="url(#mb)" stroke="#5a94c8" stroke-width="0.6"/><circle cx="284.05" cy="14.92" r="2.5" fill="url(#mb)" stroke="#5a94c8" stroke-width="0.6"/><circle cx="287.6" cy="14.97" r="2.5" fill="url(#mb)" stroke="#5a94c8" stroke-width="0.6"/><circle cx="291.15" cy="15.03" r="2.5" fill="url(#mb)" stroke="#5a94c8" stroke-width="0.6"/><circle cx="294.69" cy="15.1" r="2.5" fill="url(#mb)" stroke="#5a94c8" stroke-width="0.6"/><circle cx="298.24" cy="15.17" r="2.5" fill="url(#mb)" stroke="#5a94c8" stroke-width="0.6"/><circle cx="301.79" cy="15.24" r="2.5" fill="url(#mb)" stroke="#5a94c8" stroke-width="0.6"/><circle cx="305.34" cy="15.33" r="2.5" fill="url(#mb)" stroke="#5a94c8" stroke-width="0.6"/><circle cx="308.88" cy="15.43" r="2.5" fill="url(#mb)" stroke="#5a94c8" stroke-width="0.6"/><circle cx="312.43" cy="15.53" r="2.5" fill="url(#mb)" stroke="#5a94c8" stroke-width="0.6"/><circle cx="315.98" cy="15.66" r="2.5" fill="url(#mb)" stroke="#5a94c8" stroke-width="0.6"/><circle cx="319.53" cy="15.79" r="2.5" fill="url(#mb)" stroke="#5a94c8" stroke-width="0.6"/><circle cx="323.08" cy="15.95" r="2.5" fill="url(#mb)" stroke="#5a94c8" stroke-width="0.6"/><circle cx="326.62" cy="16.14" r="2.5" fill="url(#mb)" stroke="#5a94c8" stroke-width="0.6"/><circle cx="330.17" cy="16.38" r="2.5" fill="url(#mb)" stroke="#5a94c8" stroke-width="0.6"/><circle cx="333.72" cy="16.7" r="2.5" fill="url(#mb)" stroke="#5a94c8" stroke-width="0.6"/><circle cx="337.27" cy="17.12" r="2.5" fill="url(#mb)" stroke="#5a94c8" stroke-width="0.6"/><circle cx="340.81" cy="17.63" r="2.5" fill="url(#mb)" stroke="#5a94c8" stroke-width="0.6"/><circle cx="344.36" cy="18.4" r="2.5" fill="url(#mb)" stroke="#5a94c8" stroke-width="0.6"/><circle cx="347.91" cy="19.39" r="2.5" fill="url(#mb)" stroke="#5a94c8" stroke-width="0.6"/><circle cx="351.46" cy="20.56" r="2.5" fill="url(#mb)" stroke="#5a94c8" stroke-width="0.6"/><circle cx="355.01" cy="22.56" r="2.5" fill="url(#mb)" stroke="#5a94c8" stroke-width="0.6"/><circle cx="358.55" cy="26.05" r="2.5" fill="url(#mb)" stroke="#5a94c8" stroke-width="0.6"/><circle cx="362.1" cy="32.52" r="2.5" fill="url(#mb)" stroke="#5a94c8" stroke-width="0.6"/><circle cx="365.65" cy="41.42" r="2.5" fill="url(#mb)" stroke="#5a94c8" stroke-width="0.6"/><circle cx="369.2" cy="54.4" r="2.5" fill="url(#mb)" stroke="#5a94c8" stroke-width="0.6"/><circle cx="372.75" cy="72.29" r="2.5" fill="url(#mb)" stroke="#5a94c8" stroke-width="0.6"/><circle cx="376.29" cy="95.81" r="2.5" fill="url(#mb)" stroke="#5a94c8" stroke-width="0.6"/><circle cx="379.84" cy="124.47" r="2.5" fill="url(#mb)" stroke="#5a94c8" stroke-width="0.6"/><circle cx="230.59" cy="16.01" r="2.5" fill="url(#mg)" stroke="#a6a6a6" stroke-width="0.6"/><circle cx="234.14" cy="16.06" r="2.5" fill="url(#mg)" stroke="#a6a6a6" stroke-width="0.6"/><circle cx="237.69" cy="16.11" r="2.5" fill="url(#mg)" stroke="#a6a6a6" stroke-width="0.6"/><circle cx="241.23" cy="16.16" r="2.5" fill="url(#mg)" stroke="#a6a6a6" stroke-width="0.6"/><circle cx="244.78" cy="16.21" r="2.5" fill="url(#mg)" stroke="#a6a6a6" stroke-width="0.6"/><circle cx="248.33" cy="16.25" r="2.5" fill="url(#mg)" stroke="#a6a6a6" stroke-width="0.6"/><circle cx="251.88" cy="16.3" r="2.5" fill="url(#mg)" stroke="#a6a6a6" stroke-width="0.6"/><circle cx="255.42" cy="16.35" r="2.5" fill="url(#mg)" stroke="#a6a6a6" stroke-width="0.6"/><circle cx="258.97" cy="16.4" r="2.5" fill="url(#mg)" stroke="#a6a6a6" stroke-width="0.6"/><circle cx="262.52" cy="16.45" r="2.5" fill="url(#mg)" stroke="#a6a6a6" stroke-width="0.6"/><circle cx="266.07" cy="16.5" r="2.5" fill="url(#mg)" stroke="#a6a6a6" stroke-width="0.6"/><circle cx="269.62" cy="16.55" r="2.5" fill="url(#mg)" stroke="#a6a6a6" stroke-width="0.6"/><circle cx="273.16" cy="16.59" r="2.5" fill="url(#mg)" stroke="#a6a6a6" stroke-width="0.6"/><circle cx="276.71" cy="16.64" r="2.5" fill="url(#mg)" stroke="#a6a6a6" stroke-width="0.6"/><circle cx="280.26" cy="16.68" r="2.5" fill="url(#mg)" stroke="#a6a6a6" stroke-width="0.6"/><circle cx="283.81" cy="16.73" r="2.5" fill="url(#mg)" stroke="#a6a6a6" stroke-width="0.6"/><circle cx="287.35" cy="16.78" r="2.5" fill="url(#mg)" stroke="#a6a6a6" stroke-width="0.6"/><circle cx="290.9" cy="16.84" r="2.5" fill="url(#mg)" stroke="#a6a6a6" stroke-width="0.6"/><circle cx="294.45" cy="16.9" r="2.5" fill="url(#mg)" stroke="#a6a6a6" stroke-width="0.6"/><circle cx="298" cy="16.97" r="2.5" fill="url(#mg)" stroke="#a6a6a6" stroke-width="0.6"/><circle cx="301.55" cy="17.06" r="2.5" fill="url(#mg)" stroke="#a6a6a6" stroke-width="0.6"/><circle cx="305.09" cy="17.17" r="2.5" fill="url(#mg)" stroke="#a6a6a6" stroke-width="0.6"/><circle cx="308.64" cy="17.31" r="2.5" fill="url(#mg)" stroke="#a6a6a6" stroke-width="0.6"/><circle cx="312.19" cy="17.48" r="2.5" fill="url(#mg)" stroke="#a6a6a6" stroke-width="0.6"/><circle cx="315.74" cy="17.69" r="2.5" fill="url(#mg)" stroke="#a6a6a6" stroke-width="0.6"/><circle cx="319.28" cy="17.95" r="2.5" fill="url(#mg)" stroke="#a6a6a6" stroke-width="0.6"/><circle cx="322.83" cy="18.27" r="2.5" fill="url(#mg)" stroke="#a6a6a6" stroke-width="0.6"/><circle cx="326.38" cy="18.65" r="2.5" fill="url(#mg)" stroke="#a6a6a6" stroke-width="0.6"/><circle cx="329.93" cy="19.09" r="2.5" fill="url(#mg)" stroke="#a6a6a6" stroke-width="0.6"/><circle cx="333.48" cy="19.62" r="2.5" fill="url(#mg)" stroke="#a6a6a6" stroke-width="0.6"/><circle cx="337.02" cy="20.34" r="2.5" fill="url(#mg)" stroke="#a6a6a6" stroke-width="0.6"/><circle cx="340.57" cy="21.41" r="2.5" fill="url(#mg)" stroke="#a6a6a6" stroke-width="0.6"/><circle cx="344.12" cy="23.97" r="2.5" fill="url(#mg)" stroke="#a6a6a6" stroke-width="0.6"/><circle cx="347.67" cy="27.7" r="2.5" fill="url(#mg)" stroke="#a6a6a6" stroke-width="0.6"/><circle cx="351.22" cy="31.84" r="2.5" fill="url(#mg)" stroke="#a6a6a6" stroke-width="0.6"/><circle cx="354.76" cy="37.83" r="2.5" fill="url(#mg)" stroke="#a6a6a6" stroke-width="0.6"/><circle cx="358.31" cy="46.24" r="2.5" fill="url(#mg)" stroke="#a6a6a6" stroke-width="0.6"/><circle cx="361.86" cy="56.11" r="2.5" fill="url(#mg)" stroke="#a6a6a6" stroke-width="0.6"/><circle cx="365.41" cy="68.2" r="2.5" fill="url(#mg)" stroke="#a6a6a6" stroke-width="0.6"/><circle cx="368.95" cy="83.88" r="2.5" fill="url(#mg)" stroke="#a6a6a6" stroke-width="0.6"/><circle cx="372.5" cy="102.22" r="2.5" fill="url(#mg)" stroke="#a6a6a6" stroke-width="0.6"/><circle cx="376.05" cy="126.1" r="2.5" fill="url(#mg)" stroke="#a6a6a6" stroke-width="0.6"/></g><rect x="231.4" y="6.4" width="162" height="134.4" fill="none" stroke="#222" stroke-width="1.1"/><line x1="228.6" y1="140.8" x2="231.4" y2="140.8" stroke="#222" stroke-width="1"/><text transform="translate(226,144.6) scale(0.93,1)" font-size="10.0" fill="#1a1a1a" text-anchor="end">0.0</text><line x1="228.6" y1="120.39" x2="231.4" y2="120.39" stroke="#222" stroke-width="1"/><text transform="translate(226,124.19) scale(0.93,1)" font-size="10.0" fill="#1a1a1a" text-anchor="end">0.5</text><line x1="228.6" y1="99.97" x2="231.4" y2="99.97" stroke="#222" stroke-width="1"/><text transform="translate(226,103.77) scale(0.93,1)" font-size="10.0" fill="#1a1a1a" text-anchor="end">1.0</text><line x1="228.6" y1="79.56" x2="231.4" y2="79.56" stroke="#222" stroke-width="1"/><text transform="translate(226,83.36) scale(0.93,1)" font-size="10.0" fill="#1a1a1a" text-anchor="end">1.5</text><line x1="228.6" y1="59.14" x2="231.4" y2="59.14" stroke="#222" stroke-width="1"/><text transform="translate(226,62.94) scale(0.93,1)" font-size="10.0" fill="#1a1a1a" text-anchor="end">2.0</text><line x1="228.6" y1="38.73" x2="231.4" y2="38.73" stroke="#222" stroke-width="1"/><text transform="translate(226,42.53) scale(0.93,1)" font-size="10.0" fill="#1a1a1a" text-anchor="end">2.5</text><line x1="228.6" y1="18.31" x2="231.4" y2="18.31" stroke="#222" stroke-width="1"/><text transform="translate(226,22.11) scale(0.93,1)" font-size="10.0" fill="#1a1a1a" text-anchor="end">3.0</text><line x1="229.8" y1="130.59" x2="231.4" y2="130.59" stroke="#222" stroke-width="1"/><line x1="229.8" y1="110.18" x2="231.4" y2="110.18" stroke="#222" stroke-width="1"/><line x1="229.8" y1="89.76" x2="231.4" y2="89.76" stroke="#222" stroke-width="1"/><line x1="229.8" y1="69.35" x2="231.4" y2="69.35" stroke="#222" stroke-width="1"/><line x1="229.8" y1="48.93" x2="231.4" y2="48.93" stroke="#222" stroke-width="1"/><line x1="229.8" y1="28.52" x2="231.4" y2="28.52" stroke="#222" stroke-width="1"/><line x1="229.8" y1="8.1" x2="231.4" y2="8.1" stroke="#222" stroke-width="1"/><line x1="231.4" y1="140.8" x2="231.4" y2="143.6" stroke="#222" stroke-width="1"/><text transform="translate(231.4,153.5) scale(0.93,1)" font-size="10.0" fill="#1a1a1a" text-anchor="middle">0</text><line x1="263.8" y1="140.8" x2="263.8" y2="143.6" stroke="#222" stroke-width="1"/><text transform="translate(263.8,153.5) scale(0.93,1)" font-size="10.0" fill="#1a1a1a" text-anchor="middle">2</text><line x1="296.2" y1="140.8" x2="296.2" y2="143.6" stroke="#222" stroke-width="1"/><text transform="translate(296.2,153.5) scale(0.93,1)" font-size="10.0" fill="#1a1a1a" text-anchor="middle">4</text><line x1="328.6" y1="140.8" x2="328.6" y2="143.6" stroke="#222" stroke-width="1"/><text transform="translate(328.6,153.5) scale(0.93,1)" font-size="10.0" fill="#1a1a1a" text-anchor="middle">6</text><line x1="361" y1="140.8" x2="361" y2="143.6" stroke="#222" stroke-width="1"/><text transform="translate(361,153.5) scale(0.93,1)" font-size="10.0" fill="#1a1a1a" text-anchor="middle">8</text><line x1="393.4" y1="140.8" x2="393.4" y2="143.6" stroke="#222" stroke-width="1"/><text transform="translate(393.4,153.5) scale(0.93,1)" font-size="10.0" fill="#1a1a1a" text-anchor="middle">10</text><line x1="247.6" y1="140.8" x2="247.6" y2="142.4" stroke="#222" stroke-width="1"/><line x1="280" y1="140.8" x2="280" y2="142.4" stroke="#222" stroke-width="1"/><line x1="312.4" y1="140.8" x2="312.4" y2="142.4" stroke="#222" stroke-width="1"/><line x1="344.8" y1="140.8" x2="344.8" y2="142.4" stroke="#222" stroke-width="1"/><line x1="377.2" y1="140.8" x2="377.2" y2="142.4" stroke="#222" stroke-width="1"/><text x="310.6" y="169.4" font-size="13.8" fill="#1a1a1a" text-anchor="middle">Voltage (V)</text><text transform="translate(208.4,71.4) rotate(-90)" font-size="14.2" fill="#1a1a1a" text-anchor="middle"><tspan font-style="italic">J</tspan> (mA cm<tspan font-size="9.6" dy="-5.2">-2</tspan><tspan dy="5.2">)</tspan></text><line x1="245.3" y1="34.1" x2="267.8" y2="34.1" stroke="#5f9bd0" stroke-width="0.9"/><circle cx="256.9" cy="34.1" r="2.5" fill="url(#mb)" stroke="#5a94c8" stroke-width="0.6"/><text x="271.6" y="37.9" font-size="11.2" fill="#1a1a1a" text-anchor="start">1-BP</text><line x1="245.3" y1="45.8" x2="267.8" y2="45.8" stroke="#b4b4b4" stroke-width="0.9"/><circle cx="256.9" cy="45.8" r="2.5" fill="url(#mg)" stroke="#a6a6a6" stroke-width="0.6"/><text x="271.6" y="49.6" font-size="11.2" fill="#1a1a1a" text-anchor="start">Control</text><text x="0.6" y="184.4" font-size="18.3" fill="#000" text-anchor="start">c</text><rect x="33" y="180.4" width="159.5" height="132.7" fill="none" stroke="#222" stroke-width="1.1"/><line x1="30" y1="313.1" x2="33" y2="313.1" stroke="#222" stroke-width="1"/><text transform="translate(27,316.9) scale(0.93,1)" font-size="10.0" fill="#1a1a1a" text-anchor="end">0</text><line x1="30" y1="280.1" x2="33" y2="280.1" stroke="#222" stroke-width="1"/><text transform="translate(27,283.9) scale(0.93,1)" font-size="10.0" fill="#1a1a1a" text-anchor="end">5</text><line x1="30" y1="247.1" x2="33" y2="247.1" stroke="#222" stroke-width="1"/><text transform="translate(27,250.9) scale(0.93,1)" font-size="10.0" fill="#1a1a1a" text-anchor="end">10</text><line x1="30" y1="214.1" x2="33" y2="214.1" stroke="#222" stroke-width="1"/><text transform="translate(27,217.9) scale(0.93,1)" font-size="10.0" fill="#1a1a1a" text-anchor="end">15</text><line x1="30" y1="181.1" x2="33" y2="181.1" stroke="#222" stroke-width="1"/><text transform="translate(27,184.9) scale(0.93,1)" font-size="10.0" fill="#1a1a1a" text-anchor="end">20</text><line x1="31.3" y1="296.6" x2="33" y2="296.6" stroke="#222" stroke-width="1"/><line x1="31.3" y1="263.6" x2="33" y2="263.6" stroke="#222" stroke-width="1"/><line x1="31.3" y1="230.6" x2="33" y2="230.6" stroke="#222" stroke-width="1"/><line x1="31.3" y1="197.6" x2="33" y2="197.6" stroke="#222" stroke-width="1"/><line x1="33" y1="313.1" x2="33" y2="315.9" stroke="#222" stroke-width="1"/><text transform="translate(33,326.5) scale(0.93,1)" font-size="10.0" fill="#1a1a1a" text-anchor="middle">650</text><line x1="59.58" y1="313.1" x2="59.58" y2="315.9" stroke="#222" stroke-width="1"/><text transform="translate(59.58,326.5) scale(0.93,1)" font-size="10.0" fill="#1a1a1a" text-anchor="middle">700</text><line x1="86.17" y1="313.1" x2="86.17" y2="315.9" stroke="#222" stroke-width="1"/><text transform="translate(86.17,326.5) scale(0.93,1)" font-size="10.0" fill="#1a1a1a" text-anchor="middle">750</text><line x1="112.75" y1="313.1" x2="112.75" y2="315.9" stroke="#222" stroke-width="1"/><text transform="translate(112.75,326.5) scale(0.93,1)" font-size="10.0" fill="#1a1a1a" text-anchor="middle">800</text><line x1="139.33" y1="313.1" x2="139.33" y2="315.9" stroke="#222" stroke-width="1"/><text transform="translate(139.33,326.5) scale(0.93,1)" font-size="10.0" fill="#1a1a1a" text-anchor="middle">850</text><line x1="165.92" y1="313.1" x2="165.92" y2="315.9" stroke="#222" stroke-width="1"/><text transform="translate(165.92,326.5) scale(0.93,1)" font-size="10.0" fill="#1a1a1a" text-anchor="middle">900</text><line x1="192.5" y1="313.1" x2="192.5" y2="315.9" stroke="#222" stroke-width="1"/><text transform="translate(192.5,326.5) scale(0.93,1)" font-size="10.0" fill="#1a1a1a" text-anchor="middle">950</text><line x1="46.29" y1="313.1" x2="46.29" y2="314.7" stroke="#222" stroke-width="1"/><line x1="72.88" y1="313.1" x2="72.88" y2="314.7" stroke="#222" stroke-width="1"/><line x1="99.46" y1="313.1" x2="99.46" y2="314.7" stroke="#222" stroke-width="1"/><line x1="126.04" y1="313.1" x2="126.04" y2="314.7" stroke="#222" stroke-width="1"/><line x1="152.62" y1="313.1" x2="152.62" y2="314.7" stroke="#222" stroke-width="1"/><line x1="179.21" y1="313.1" x2="179.21" y2="314.7" stroke="#222" stroke-width="1"/><text x="116.6" y="342.8" font-size="14.3" fill="#1a1a1a" text-anchor="middle">Wavelength (nm)</text><text transform="translate(13.6,245.0) rotate(-90)" font-size="14.4" fill="#1a1a1a" text-anchor="middle">Time (min)</text><text x="42.6" y="195.7" font-size="13.8" fill="#fff" text-anchor="start">Control</text><text x="199" y="182.4" font-size="18.3" fill="#000" text-anchor="start">d</text><rect x="230.1" y="180.9" width="156.7" height="132.1" fill="none" stroke="#222" stroke-width="1.1"/><line x1="227.1" y1="280" x2="230.1" y2="280" stroke="#222" stroke-width="1"/><text transform="translate(224.1,283.8) scale(0.93,1)" font-size="10.0" fill="#1a1a1a" text-anchor="end">5</text><line x1="227.1" y1="247" x2="230.1" y2="247" stroke="#222" stroke-width="1"/><text transform="translate(224.1,250.8) scale(0.93,1)" font-size="10.0" fill="#1a1a1a" text-anchor="end">10</text><line x1="227.1" y1="214" x2="230.1" y2="214" stroke="#222" stroke-width="1"/><text transform="translate(224.1,217.8) scale(0.93,1)" font-size="10.0" fill="#1a1a1a" text-anchor="end">15</text><line x1="227.1" y1="181" x2="230.1" y2="181" stroke="#222" stroke-width="1"/><text transform="translate(224.1,184.8) scale(0.93,1)" font-size="10.0" fill="#1a1a1a" text-anchor="end">20</text><line x1="228.4" y1="296.5" x2="230.1" y2="296.5" stroke="#222" stroke-width="1"/><line x1="228.4" y1="263.5" x2="230.1" y2="263.5" stroke="#222" stroke-width="1"/><line x1="228.4" y1="230.5" x2="230.1" y2="230.5" stroke="#222" stroke-width="1"/><line x1="228.4" y1="197.5" x2="230.1" y2="197.5" stroke="#222" stroke-width="1"/><line x1="230.1" y1="313" x2="230.1" y2="315.8" stroke="#222" stroke-width="1"/><text transform="translate(230.1,326.4) scale(0.93,1)" font-size="10.0" fill="#1a1a1a" text-anchor="middle">650</text><line x1="256.22" y1="313" x2="256.22" y2="315.8" stroke="#222" stroke-width="1"/><text transform="translate(256.22,326.4) scale(0.93,1)" font-size="10.0" fill="#1a1a1a" text-anchor="middle">700</text><line x1="282.33" y1="313" x2="282.33" y2="315.8" stroke="#222" stroke-width="1"/><text transform="translate(282.33,326.4) scale(0.93,1)" font-size="10.0" fill="#1a1a1a" text-anchor="middle">750</text><line x1="308.45" y1="313" x2="308.45" y2="315.8" stroke="#222" stroke-width="1"/><text transform="translate(308.45,326.4) scale(0.93,1)" font-size="10.0" fill="#1a1a1a" text-anchor="middle">800</text><line x1="334.57" y1="313" x2="334.57" y2="315.8" stroke="#222" stroke-width="1"/><text transform="translate(334.57,326.4) scale(0.93,1)" font-size="10.0" fill="#1a1a1a" text-anchor="middle">850</text><line x1="360.68" y1="313" x2="360.68" y2="315.8" stroke="#222" stroke-width="1"/><text transform="translate(360.68,326.4) scale(0.93,1)" font-size="10.0" fill="#1a1a1a" text-anchor="middle">900</text><line x1="386.8" y1="313" x2="386.8" y2="315.8" stroke="#222" stroke-width="1"/><text transform="translate(386.8,326.4) scale(0.93,1)" font-size="10.0" fill="#1a1a1a" text-anchor="middle">950</text><line x1="243.16" y1="313" x2="243.16" y2="314.6" stroke="#222" stroke-width="1"/><line x1="269.27" y1="313" x2="269.27" y2="314.6" stroke="#222" stroke-width="1"/><line x1="295.39" y1="313" x2="295.39" y2="314.6" stroke="#222" stroke-width="1"/><line x1="321.51" y1="313" x2="321.51" y2="314.6" stroke="#222" stroke-width="1"/><line x1="347.62" y1="313" x2="347.62" y2="314.6" stroke="#222" stroke-width="1"/><line x1="373.74" y1="313" x2="373.74" y2="314.6" stroke="#222" stroke-width="1"/><text x="317.6" y="342" font-size="14.3" fill="#1a1a1a" text-anchor="middle">Wavelength (nm)</text><text transform="translate(210.0,245.5) rotate(-90)" font-size="14.4" fill="#1a1a1a" text-anchor="middle">Time (min)</text><text x="242.6" y="195.4" font-size="13.6" fill="#fff" text-anchor="start">1-BP</text><text transform="translate(401.8,202.0) rotate(-90)" font-size="13.4" fill="#fff" text-anchor="middle">1400</text><text transform="translate(401.4,298.8) rotate(-90)" font-size="13.4" fill="#fff" text-anchor="middle">50</text><text x="414.6" y="14.1" font-size="18.3" fill="#000" text-anchor="start">e</text><line x1="449.4" y1="54.34" x2="665.5" y2="54.34" stroke="#e0312f" stroke-width="1.1" stroke-dasharray="4.2,2.6"/><polyline points="449.4,35.12 451.68,35.89 453.97,36.95 456.25,37.14 458.53,36.47 460.82,36.08 462.27,131.19 464.39,131.19 466.51,131.19 468.62,131.19 470.74,131.19 472.86,131.19 474.78,37.52 477.06,36.75 479.35,36.85 481.63,37.43 483.91,38.2 486.2,38.96 487.65,131.19 489.77,131.19 491.89,131.19 494,131.19 496.12,131.19 498.24,131.19 500.16,42.81 502.44,43.58 504.73,43.77 507.01,43.96 509.29,44.44 511.58,45.21 513.03,131.19 515.15,131.19 517.26,131.19 519.38,131.19 521.5,131.19 523.62,131.19 525.54,43.77 527.82,44.92 530.1,45.79 532.39,46.55 534.67,47.42 536.96,48.57 538.41,131.19 540.53,131.19 542.64,131.19 544.76,131.19 546.88,131.19 549,131.19 550.92,45.21 553.2,46.36 555.48,48.38 557.77,48.76 560.05,47.61 562.33,47.61 563.79,131.19 565.91,131.19 568.02,131.19 570.14,131.19 572.26,131.19 574.38,131.19 576.3,53.38 578.58,50.3 580.86,48.96 583.15,51.26 585.43,56.16 587.71,59.62 589.17,131.19 591.28,131.19 593.4,131.19 595.52,131.19 597.64,131.19 599.75,131.19 601.67,54.34 603.96,54.34 606.24,55.2 608.53,55.97 610.81,56.74 613.09,58.66 614.55,131.19 616.66,131.19 618.78,131.19 620.9,131.19 623.02,131.19 625.13,131.19 627.05,61.54 629.34,59.24 631.62,60.68 633.9,62.21 636.19,62.6 638.47,62.98 639.92,131.19 642.04,131.19 644.16,131.19 646.28,131.19 648.39,131.19 650.51,131.19 652.43,61.54 654.72,61.54 657,62.69 659.28,63.65 661.57,64.9 663.85,68.75" fill="none" stroke="#b4b4b4" stroke-width="0.9" stroke-linejoin="round"/><circle cx="449.4" cy="35.12" r="2.45" fill="url(#mg)" stroke="#a6a6a6" stroke-width="0.6"/><circle cx="451.68" cy="35.89" r="2.45" fill="url(#mg)" stroke="#a6a6a6" stroke-width="0.6"/><circle cx="453.97" cy="36.95" r="2.45" fill="url(#mg)" stroke="#a6a6a6" stroke-width="0.6"/><circle cx="456.25" cy="37.14" r="2.45" fill="url(#mg)" stroke="#a6a6a6" stroke-width="0.6"/><circle cx="458.53" cy="36.47" r="2.45" fill="url(#mg)" stroke="#a6a6a6" stroke-width="0.6"/><circle cx="460.82" cy="36.08" r="2.45" fill="url(#mg)" stroke="#a6a6a6" stroke-width="0.6"/><circle cx="462.27" cy="131.19" r="2.45" fill="url(#mg)" stroke="#a6a6a6" stroke-width="0.6"/><circle cx="464.39" cy="131.19" r="2.45" fill="url(#mg)" stroke="#a6a6a6" stroke-width="0.6"/><circle cx="466.51" cy="131.19" r="2.45" fill="url(#mg)" stroke="#a6a6a6" stroke-width="0.6"/><circle cx="468.62" cy="131.19" r="2.45" fill="url(#mg)" stroke="#a6a6a6" stroke-width="0.6"/><circle cx="470.74" cy="131.19" r="2.45" fill="url(#mg)" stroke="#a6a6a6" stroke-width="0.6"/><circle cx="472.86" cy="131.19" r="2.45" fill="url(#mg)" stroke="#a6a6a6" stroke-width="0.6"/><circle cx="474.78" cy="37.52" r="2.45" fill="url(#mg)" stroke="#a6a6a6" stroke-width="0.6"/><circle cx="477.06" cy="36.75" r="2.45" fill="url(#mg)" stroke="#a6a6a6" stroke-width="0.6"/><circle cx="479.35" cy="36.85" r="2.45" fill="url(#mg)" stroke="#a6a6a6" stroke-width="0.6"/><circle cx="481.63" cy="37.43" r="2.45" fill="url(#mg)" stroke="#a6a6a6" stroke-width="0.6"/><circle cx="483.91" cy="38.2" r="2.45" fill="url(#mg)" stroke="#a6a6a6" stroke-width="0.6"/><circle cx="486.2" cy="38.96" r="2.45" fill="url(#mg)" stroke="#a6a6a6" stroke-width="0.6"/><circle cx="487.65" cy="131.19" r="2.45" fill="url(#mg)" stroke="#a6a6a6" stroke-width="0.6"/><circle cx="489.77" cy="131.19" r="2.45" fill="url(#mg)" stroke="#a6a6a6" stroke-width="0.6"/><circle cx="491.89" cy="131.19" r="2.45" fill="url(#mg)" stroke="#a6a6a6" stroke-width="0.6"/><circle cx="494" cy="131.19" r="2.45" fill="url(#mg)" stroke="#a6a6a6" stroke-width="0.6"/><circle cx="496.12" cy="131.19" r="2.45" fill="url(#mg)" stroke="#a6a6a6" stroke-width="0.6"/><circle cx="498.24" cy="131.19" r="2.45" fill="url(#mg)" stroke="#a6a6a6" stroke-width="0.6"/><circle cx="500.16" cy="42.81" r="2.45" fill="url(#mg)" stroke="#a6a6a6" stroke-width="0.6"/><circle cx="502.44" cy="43.58" r="2.45" fill="url(#mg)" stroke="#a6a6a6" stroke-width="0.6"/><circle cx="504.73" cy="43.77" r="2.45" fill="url(#mg)" stroke="#a6a6a6" stroke-width="0.6"/><circle cx="507.01" cy="43.96" r="2.45" fill="url(#mg)" stroke="#a6a6a6" stroke-width="0.6"/><circle cx="509.29" cy="44.44" r="2.45" fill="url(#mg)" stroke="#a6a6a6" stroke-width="0.6"/><circle cx="511.58" cy="45.21" r="2.45" fill="url(#mg)" stroke="#a6a6a6" stroke-width="0.6"/><circle cx="513.03" cy="131.19" r="2.45" fill="url(#mg)" stroke="#a6a6a6" stroke-width="0.6"/><circle cx="515.15" cy="131.19" r="2.45" fill="url(#mg)" stroke="#a6a6a6" stroke-width="0.6"/><circle cx="517.26" cy="131.19" r="2.45" fill="url(#mg)" stroke="#a6a6a6" stroke-width="0.6"/><circle cx="519.38" cy="131.19" r="2.45" fill="url(#mg)" stroke="#a6a6a6" stroke-width="0.6"/><circle cx="521.5" cy="131.19" r="2.45" fill="url(#mg)" stroke="#a6a6a6" stroke-width="0.6"/><circle cx="523.62" cy="131.19" r="2.45" fill="url(#mg)" stroke="#a6a6a6" stroke-width="0.6"/><circle cx="525.54" cy="43.77" r="2.45" fill="url(#mg)" stroke="#a6a6a6" stroke-width="0.6"/><circle cx="527.82" cy="44.92" r="2.45" fill="url(#mg)" stroke="#a6a6a6" stroke-width="0.6"/><circle cx="530.1" cy="45.79" r="2.45" fill="url(#mg)" stroke="#a6a6a6" stroke-width="0.6"/><circle cx="532.39" cy="46.55" r="2.45" fill="url(#mg)" stroke="#a6a6a6" stroke-width="0.6"/><circle cx="534.67" cy="47.42" r="2.45" fill="url(#mg)" stroke="#a6a6a6" stroke-width="0.6"/><circle cx="536.96" cy="48.57" r="2.45" fill="url(#mg)" stroke="#a6a6a6" stroke-width="0.6"/><circle cx="538.41" cy="131.19" r="2.45" fill="url(#mg)" stroke="#a6a6a6" stroke-width="0.6"/><circle cx="540.53" cy="131.19" r="2.45" fill="url(#mg)" stroke="#a6a6a6" stroke-width="0.6"/><circle cx="542.64" cy="131.19" r="2.45" fill="url(#mg)" stroke="#a6a6a6" stroke-width="0.6"/><circle cx="544.76" cy="131.19" r="2.45" fill="url(#mg)" stroke="#a6a6a6" stroke-width="0.6"/><circle cx="546.88" cy="131.19" r="2.45" fill="url(#mg)" stroke="#a6a6a6" stroke-width="0.6"/><circle cx="549" cy="131.19" r="2.45" fill="url(#mg)" stroke="#a6a6a6" stroke-width="0.6"/><circle cx="550.92" cy="45.21" r="2.45" fill="url(#mg)" stroke="#a6a6a6" stroke-width="0.6"/><circle cx="553.2" cy="46.36" r="2.45" fill="url(#mg)" stroke="#a6a6a6" stroke-width="0.6"/><circle cx="555.48" cy="48.38" r="2.45" fill="url(#mg)" stroke="#a6a6a6" stroke-width="0.6"/><circle cx="557.77" cy="48.76" r="2.45" fill="url(#mg)" stroke="#a6a6a6" stroke-width="0.6"/><circle cx="560.05" cy="47.61" r="2.45" fill="url(#mg)" stroke="#a6a6a6" stroke-width="0.6"/><circle cx="562.33" cy="47.61" r="2.45" fill="url(#mg)" stroke="#a6a6a6" stroke-width="0.6"/><circle cx="563.79" cy="131.19" r="2.45" fill="url(#mg)" stroke="#a6a6a6" stroke-width="0.6"/><circle cx="565.91" cy="131.19" r="2.45" fill="url(#mg)" stroke="#a6a6a6" stroke-width="0.6"/><circle cx="568.02" cy="131.19" r="2.45" fill="url(#mg)" stroke="#a6a6a6" stroke-width="0.6"/><circle cx="570.14" cy="131.19" r="2.45" fill="url(#mg)" stroke="#a6a6a6" stroke-width="0.6"/><circle cx="572.26" cy="131.19" r="2.45" fill="url(#mg)" stroke="#a6a6a6" stroke-width="0.6"/><circle cx="574.38" cy="131.19" r="2.45" fill="url(#mg)" stroke="#a6a6a6" stroke-width="0.6"/><circle cx="576.3" cy="53.38" r="2.45" fill="url(#mg)" stroke="#a6a6a6" stroke-width="0.6"/><circle cx="578.58" cy="50.3" r="2.45" fill="url(#mg)" stroke="#a6a6a6" stroke-width="0.6"/><circle cx="580.86" cy="48.96" r="2.45" fill="url(#mg)" stroke="#a6a6a6" stroke-width="0.6"/><circle cx="583.15" cy="51.26" r="2.45" fill="url(#mg)" stroke="#a6a6a6" stroke-width="0.6"/><circle cx="585.43" cy="56.16" r="2.45" fill="url(#mg)" stroke="#a6a6a6" stroke-width="0.6"/><circle cx="587.71" cy="59.62" r="2.45" fill="url(#mg)" stroke="#a6a6a6" stroke-width="0.6"/><circle cx="589.17" cy="131.19" r="2.45" fill="url(#mg)" stroke="#a6a6a6" stroke-width="0.6"/><circle cx="591.28" cy="131.19" r="2.45" fill="url(#mg)" stroke="#a6a6a6" stroke-width="0.6"/><circle cx="593.4" cy="131.19" r="2.45" fill="url(#mg)" stroke="#a6a6a6" stroke-width="0.6"/><circle cx="595.52" cy="131.19" r="2.45" fill="url(#mg)" stroke="#a6a6a6" stroke-width="0.6"/><circle cx="597.64" cy="131.19" r="2.45" fill="url(#mg)" stroke="#a6a6a6" stroke-width="0.6"/><circle cx="599.75" cy="131.19" r="2.45" fill="url(#mg)" stroke="#a6a6a6" stroke-width="0.6"/><circle cx="601.67" cy="54.34" r="2.45" fill="url(#mg)" stroke="#a6a6a6" stroke-width="0.6"/><circle cx="603.96" cy="54.34" r="2.45" fill="url(#mg)" stroke="#a6a6a6" stroke-width="0.6"/><circle cx="606.24" cy="55.2" r="2.45" fill="url(#mg)" stroke="#a6a6a6" stroke-width="0.6"/><circle cx="608.53" cy="55.97" r="2.45" fill="url(#mg)" stroke="#a6a6a6" stroke-width="0.6"/><circle cx="610.81" cy="56.74" r="2.45" fill="url(#mg)" stroke="#a6a6a6" stroke-width="0.6"/><circle cx="613.09" cy="58.66" r="2.45" fill="url(#mg)" stroke="#a6a6a6" stroke-width="0.6"/><circle cx="614.55" cy="131.19" r="2.45" fill="url(#mg)" stroke="#a6a6a6" stroke-width="0.6"/><circle cx="616.66" cy="131.19" r="2.45" fill="url(#mg)" stroke="#a6a6a6" stroke-width="0.6"/><circle cx="618.78" cy="131.19" r="2.45" fill="url(#mg)" stroke="#a6a6a6" stroke-width="0.6"/><circle cx="620.9" cy="131.19" r="2.45" fill="url(#mg)" stroke="#a6a6a6" stroke-width="0.6"/><circle cx="623.02" cy="131.19" r="2.45" fill="url(#mg)" stroke="#a6a6a6" stroke-width="0.6"/><circle cx="625.13" cy="131.19" r="2.45" fill="url(#mg)" stroke="#a6a6a6" stroke-width="0.6"/><circle cx="627.05" cy="61.54" r="2.45" fill="url(#mg)" stroke="#a6a6a6" stroke-width="0.6"/><circle cx="629.34" cy="59.24" r="2.45" fill="url(#mg)" stroke="#a6a6a6" stroke-width="0.6"/><circle cx="631.62" cy="60.68" r="2.45" fill="url(#mg)" stroke="#a6a6a6" stroke-width="0.6"/><circle cx="633.9" cy="62.21" r="2.45" fill="url(#mg)" stroke="#a6a6a6" stroke-width="0.6"/><circle cx="636.19" cy="62.6" r="2.45" fill="url(#mg)" stroke="#a6a6a6" stroke-width="0.6"/><circle cx="638.47" cy="62.98" r="2.45" fill="url(#mg)" stroke="#a6a6a6" stroke-width="0.6"/><circle cx="639.92" cy="131.19" r="2.45" fill="url(#mg)" stroke="#a6a6a6" stroke-width="0.6"/><circle cx="642.04" cy="131.19" r="2.45" fill="url(#mg)" stroke="#a6a6a6" stroke-width="0.6"/><circle cx="644.16" cy="131.19" r="2.45" fill="url(#mg)" stroke="#a6a6a6" stroke-width="0.6"/><circle cx="646.28" cy="131.19" r="2.45" fill="url(#mg)" stroke="#a6a6a6" stroke-width="0.6"/><circle cx="648.39" cy="131.19" r="2.45" fill="url(#mg)" stroke="#a6a6a6" stroke-width="0.6"/><circle cx="650.51" cy="131.19" r="2.45" fill="url(#mg)" stroke="#a6a6a6" stroke-width="0.6"/><circle cx="652.43" cy="61.54" r="2.45" fill="url(#mg)" stroke="#a6a6a6" stroke-width="0.6"/><circle cx="654.72" cy="61.54" r="2.45" fill="url(#mg)" stroke="#a6a6a6" stroke-width="0.6"/><circle cx="657" cy="62.69" r="2.45" fill="url(#mg)" stroke="#a6a6a6" stroke-width="0.6"/><circle cx="659.28" cy="63.65" r="2.45" fill="url(#mg)" stroke="#a6a6a6" stroke-width="0.6"/><circle cx="661.57" cy="64.9" r="2.45" fill="url(#mg)" stroke="#a6a6a6" stroke-width="0.6"/><circle cx="663.85" cy="68.75" r="2.45" fill="url(#mg)" stroke="#a6a6a6" stroke-width="0.6"/><rect x="449.4" y="6.3" width="216.1" height="134.5" fill="none" stroke="#222" stroke-width="1.1"/><line x1="446.6" y1="131.19" x2="449.4" y2="131.19" stroke="#222" stroke-width="1"/><text transform="translate(443,134.99) scale(0.93,1)" font-size="10.0" fill="#1a1a1a" text-anchor="end">0.0</text><line x1="446.6" y1="111.98" x2="449.4" y2="111.98" stroke="#222" stroke-width="1"/><text transform="translate(443,115.78) scale(0.93,1)" font-size="10.0" fill="#1a1a1a" text-anchor="end">0.2</text><line x1="446.6" y1="92.76" x2="449.4" y2="92.76" stroke="#222" stroke-width="1"/><text transform="translate(443,96.56) scale(0.93,1)" font-size="10.0" fill="#1a1a1a" text-anchor="end">0.4</text><line x1="446.6" y1="73.55" x2="449.4" y2="73.55" stroke="#222" stroke-width="1"/><text transform="translate(443,77.35) scale(0.93,1)" font-size="10.0" fill="#1a1a1a" text-anchor="end">0.6</text><line x1="446.6" y1="54.34" x2="449.4" y2="54.34" stroke="#222" stroke-width="1"/><text transform="translate(443,58.14) scale(0.93,1)" font-size="10.0" fill="#1a1a1a" text-anchor="end">0.8</text><line x1="446.6" y1="35.12" x2="449.4" y2="35.12" stroke="#222" stroke-width="1"/><text transform="translate(443,38.92) scale(0.93,1)" font-size="10.0" fill="#1a1a1a" text-anchor="end">1.0</text><line x1="446.6" y1="15.91" x2="449.4" y2="15.91" stroke="#222" stroke-width="1"/><text transform="translate(443,19.71) scale(0.93,1)" font-size="10.0" fill="#1a1a1a" text-anchor="end">1.2</text><line x1="447.8" y1="140.8" x2="449.4" y2="140.8" stroke="#222" stroke-width="1"/><line x1="447.8" y1="121.59" x2="449.4" y2="121.59" stroke="#222" stroke-width="1"/><line x1="447.8" y1="102.37" x2="449.4" y2="102.37" stroke="#222" stroke-width="1"/><line x1="447.8" y1="83.16" x2="449.4" y2="83.16" stroke="#222" stroke-width="1"/><line x1="447.8" y1="63.94" x2="449.4" y2="63.94" stroke="#222" stroke-width="1"/><line x1="447.8" y1="44.73" x2="449.4" y2="44.73" stroke="#222" stroke-width="1"/><line x1="447.8" y1="25.51" x2="449.4" y2="25.51" stroke="#222" stroke-width="1"/><line x1="447.8" y1="6.3" x2="449.4" y2="6.3" stroke="#222" stroke-width="1"/><line x1="449.4" y1="140.8" x2="449.4" y2="143.6" stroke="#222" stroke-width="1"/><text transform="translate(449.4,153.8) scale(0.93,1)" font-size="10.0" fill="#1a1a1a" text-anchor="middle">0</text><line x1="501.3" y1="140.8" x2="501.3" y2="143.6" stroke="#222" stroke-width="1"/><text transform="translate(501.3,153.8) scale(0.93,1)" font-size="10.0" fill="#1a1a1a" text-anchor="middle">50</text><line x1="553.2" y1="140.8" x2="553.2" y2="143.6" stroke="#222" stroke-width="1"/><text transform="translate(553.2,153.8) scale(0.93,1)" font-size="10.0" fill="#1a1a1a" text-anchor="middle">100</text><line x1="605.1" y1="140.8" x2="605.1" y2="143.6" stroke="#222" stroke-width="1"/><text transform="translate(605.1,153.8) scale(0.93,1)" font-size="10.0" fill="#1a1a1a" text-anchor="middle">150</text><line x1="657" y1="140.8" x2="657" y2="143.6" stroke="#222" stroke-width="1"/><text transform="translate(657,153.8) scale(0.93,1)" font-size="10.0" fill="#1a1a1a" text-anchor="middle">200</text><line x1="475.35" y1="140.8" x2="475.35" y2="142.4" stroke="#222" stroke-width="1"/><line x1="527.25" y1="140.8" x2="527.25" y2="142.4" stroke="#222" stroke-width="1"/><line x1="579.15" y1="140.8" x2="579.15" y2="142.4" stroke="#222" stroke-width="1"/><line x1="631.05" y1="140.8" x2="631.05" y2="142.4" stroke="#222" stroke-width="1"/><text x="559" y="169.9" font-size="14.2" fill="#1a1a1a" text-anchor="middle">Time (h)</text><text transform="translate(424.4,71.7) rotate(-90)" font-size="14.1" fill="#1a1a1a" text-anchor="middle">Nor. PCE</text><line x1="596.2" y1="21.5" x2="619.8" y2="21.5" stroke="#b4b4b4" stroke-width="0.9"/><circle cx="608" cy="21.5" r="2.4" fill="url(#mg)" stroke="#a6a6a6" stroke-width="0.6"/><text x="623.4" y="25.4" font-size="11.3" fill="#1a1a1a" text-anchor="start">Control</text><text x="418.6" y="182" font-size="18.3" fill="#000" text-anchor="start">f</text><polyline points="449.4,207.34 451.68,206.95 453.97,206.28 456.25,205.52 458.53,204.84 460.82,204.46 462.27,302.71 464.39,302.71 466.51,302.71 468.62,302.71 470.74,302.71 472.86,302.71 474.78,206.86 477.06,206.86 479.35,206.28 481.63,205.9 483.91,205.61 486.2,204.46 487.65,302.71 489.77,302.71 491.89,302.71 494,302.71 496.12,302.71 498.24,302.71 500.16,208.29 502.44,207.14 504.73,206.28 507.01,205.52 509.29,204.75 511.58,203.98 513.03,302.71 515.15,302.71 517.26,302.71 519.38,302.71 521.5,302.71 523.62,302.71 525.54,205.9 527.82,206.28 530.1,206.67 532.39,206.47 534.67,206.19 536.96,207.34 538.41,302.71 540.53,302.71 542.64,302.71 544.76,302.71 546.88,302.71 549,302.71 550.92,210.21 553.2,206.76 555.48,205.9 557.77,206.09 560.05,206.47 562.33,206.86 563.79,302.71 565.91,302.71 568.02,302.71 570.14,302.71 572.26,302.71 574.38,302.71 576.3,206.86 578.58,206.86 580.86,206.28 583.15,205.52 585.43,205.23 587.71,206.38 589.17,302.71 591.28,302.71 593.4,302.71 595.52,302.71 597.64,302.71 599.75,302.71 601.67,207.82 603.96,207.05 606.24,206.28 608.53,205.71 610.81,205.13 613.09,203.98 614.55,302.71 616.66,302.71 618.78,302.71 620.9,302.71 623.02,302.71 625.13,302.71 627.05,206.86 629.34,206.09 631.62,204.46 633.9,204.46 636.19,206.09 638.47,206.86 639.92,302.71 642.04,302.71 644.16,302.71 646.28,302.71 648.39,302.71 650.51,302.71 652.43,204.46 654.72,206.38 657,207.14 659.28,207.14 661.57,206.67 663.85,205.9" fill="none" stroke="#5f9bd0" stroke-width="0.9" stroke-linejoin="round"/><circle cx="449.4" cy="207.34" r="2.45" fill="url(#mb)" stroke="#5a94c8" stroke-width="0.6"/><circle cx="451.68" cy="206.95" r="2.45" fill="url(#mb)" stroke="#5a94c8" stroke-width="0.6"/><circle cx="453.97" cy="206.28" r="2.45" fill="url(#mb)" stroke="#5a94c8" stroke-width="0.6"/><circle cx="456.25" cy="205.52" r="2.45" fill="url(#mb)" stroke="#5a94c8" stroke-width="0.6"/><circle cx="458.53" cy="204.84" r="2.45" fill="url(#mb)" stroke="#5a94c8" stroke-width="0.6"/><circle cx="460.82" cy="204.46" r="2.45" fill="url(#mb)" stroke="#5a94c8" stroke-width="0.6"/><circle cx="462.27" cy="302.71" r="2.45" fill="url(#mb)" stroke="#5a94c8" stroke-width="0.6"/><circle cx="464.39" cy="302.71" r="2.45" fill="url(#mb)" stroke="#5a94c8" stroke-width="0.6"/><circle cx="466.51" cy="302.71" r="2.45" fill="url(#mb)" stroke="#5a94c8" stroke-width="0.6"/><circle cx="468.62" cy="302.71" r="2.45" fill="url(#mb)" stroke="#5a94c8" stroke-width="0.6"/><circle cx="470.74" cy="302.71" r="2.45" fill="url(#mb)" stroke="#5a94c8" stroke-width="0.6"/><circle cx="472.86" cy="302.71" r="2.45" fill="url(#mb)" stroke="#5a94c8" stroke-width="0.6"/><circle cx="474.78" cy="206.86" r="2.45" fill="url(#mb)" stroke="#5a94c8" stroke-width="0.6"/><circle cx="477.06" cy="206.86" r="2.45" fill="url(#mb)" stroke="#5a94c8" stroke-width="0.6"/><circle cx="479.35" cy="206.28" r="2.45" fill="url(#mb)" stroke="#5a94c8" stroke-width="0.6"/><circle cx="481.63" cy="205.9" r="2.45" fill="url(#mb)" stroke="#5a94c8" stroke-width="0.6"/><circle cx="483.91" cy="205.61" r="2.45" fill="url(#mb)" stroke="#5a94c8" stroke-width="0.6"/><circle cx="486.2" cy="204.46" r="2.45" fill="url(#mb)" stroke="#5a94c8" stroke-width="0.6"/><circle cx="487.65" cy="302.71" r="2.45" fill="url(#mb)" stroke="#5a94c8" stroke-width="0.6"/><circle cx="489.77" cy="302.71" r="2.45" fill="url(#mb)" stroke="#5a94c8" stroke-width="0.6"/><circle cx="491.89" cy="302.71" r="2.45" fill="url(#mb)" stroke="#5a94c8" stroke-width="0.6"/><circle cx="494" cy="302.71" r="2.45" fill="url(#mb)" stroke="#5a94c8" stroke-width="0.6"/><circle cx="496.12" cy="302.71" r="2.45" fill="url(#mb)" stroke="#5a94c8" stroke-width="0.6"/><circle cx="498.24" cy="302.71" r="2.45" fill="url(#mb)" stroke="#5a94c8" stroke-width="0.6"/><circle cx="500.16" cy="208.29" r="2.45" fill="url(#mb)" stroke="#5a94c8" stroke-width="0.6"/><circle cx="502.44" cy="207.14" r="2.45" fill="url(#mb)" stroke="#5a94c8" stroke-width="0.6"/><circle cx="504.73" cy="206.28" r="2.45" fill="url(#mb)" stroke="#5a94c8" stroke-width="0.6"/><circle cx="507.01" cy="205.52" r="2.45" fill="url(#mb)" stroke="#5a94c8" stroke-width="0.6"/><circle cx="509.29" cy="204.75" r="2.45" fill="url(#mb)" stroke="#5a94c8" stroke-width="0.6"/><circle cx="511.58" cy="203.98" r="2.45" fill="url(#mb)" stroke="#5a94c8" stroke-width="0.6"/><circle cx="513.03" cy="302.71" r="2.45" fill="url(#mb)" stroke="#5a94c8" stroke-width="0.6"/><circle cx="515.15" cy="302.71" r="2.45" fill="url(#mb)" stroke="#5a94c8" stroke-width="0.6"/><circle cx="517.26" cy="302.71" r="2.45" fill="url(#mb)" stroke="#5a94c8" stroke-width="0.6"/><circle cx="519.38" cy="302.71" r="2.45" fill="url(#mb)" stroke="#5a94c8" stroke-width="0.6"/><circle cx="521.5" cy="302.71" r="2.45" fill="url(#mb)" stroke="#5a94c8" stroke-width="0.6"/><circle cx="523.62" cy="302.71" r="2.45" fill="url(#mb)" stroke="#5a94c8" stroke-width="0.6"/><circle cx="525.54" cy="205.9" r="2.45" fill="url(#mb)" stroke="#5a94c8" stroke-width="0.6"/><circle cx="527.82" cy="206.28" r="2.45" fill="url(#mb)" stroke="#5a94c8" stroke-width="0.6"/><circle cx="530.1" cy="206.67" r="2.45" fill="url(#mb)" stroke="#5a94c8" stroke-width="0.6"/><circle cx="532.39" cy="206.47" r="2.45" fill="url(#mb)" stroke="#5a94c8" stroke-width="0.6"/><circle cx="534.67" cy="206.19" r="2.45" fill="url(#mb)" stroke="#5a94c8" stroke-width="0.6"/><circle cx="536.96" cy="207.34" r="2.45" fill="url(#mb)" stroke="#5a94c8" stroke-width="0.6"/><circle cx="538.41" cy="302.71" r="2.45" fill="url(#mb)" stroke="#5a94c8" stroke-width="0.6"/><circle cx="540.53" cy="302.71" r="2.45" fill="url(#mb)" stroke="#5a94c8" stroke-width="0.6"/><circle cx="542.64" cy="302.71" r="2.45" fill="url(#mb)" stroke="#5a94c8" stroke-width="0.6"/><circle cx="544.76" cy="302.71" r="2.45" fill="url(#mb)" stroke="#5a94c8" stroke-width="0.6"/><circle cx="546.88" cy="302.71" r="2.45" fill="url(#mb)" stroke="#5a94c8" stroke-width="0.6"/><circle cx="549" cy="302.71" r="2.45" fill="url(#mb)" stroke="#5a94c8" stroke-width="0.6"/><circle cx="550.92" cy="210.21" r="2.45" fill="url(#mb)" stroke="#5a94c8" stroke-width="0.6"/><circle cx="553.2" cy="206.76" r="2.45" fill="url(#mb)" stroke="#5a94c8" stroke-width="0.6"/><circle cx="555.48" cy="205.9" r="2.45" fill="url(#mb)" stroke="#5a94c8" stroke-width="0.6"/><circle cx="557.77" cy="206.09" r="2.45" fill="url(#mb)" stroke="#5a94c8" stroke-width="0.6"/><circle cx="560.05" cy="206.47" r="2.45" fill="url(#mb)" stroke="#5a94c8" stroke-width="0.6"/><circle cx="562.33" cy="206.86" r="2.45" fill="url(#mb)" stroke="#5a94c8" stroke-width="0.6"/><circle cx="563.79" cy="302.71" r="2.45" fill="url(#mb)" stroke="#5a94c8" stroke-width="0.6"/><circle cx="565.91" cy="302.71" r="2.45" fill="url(#mb)" stroke="#5a94c8" stroke-width="0.6"/><circle cx="568.02" cy="302.71" r="2.45" fill="url(#mb)" stroke="#5a94c8" stroke-width="0.6"/><circle cx="570.14" cy="302.71" r="2.45" fill="url(#mb)" stroke="#5a94c8" stroke-width="0.6"/><circle cx="572.26" cy="302.71" r="2.45" fill="url(#mb)" stroke="#5a94c8" stroke-width="0.6"/><circle cx="574.38" cy="302.71" r="2.45" fill="url(#mb)" stroke="#5a94c8" stroke-width="0.6"/><circle cx="576.3" cy="206.86" r="2.45" fill="url(#mb)" stroke="#5a94c8" stroke-width="0.6"/><circle cx="578.58" cy="206.86" r="2.45" fill="url(#mb)" stroke="#5a94c8" stroke-width="0.6"/><circle cx="580.86" cy="206.28" r="2.45" fill="url(#mb)" stroke="#5a94c8" stroke-width="0.6"/><circle cx="583.15" cy="205.52" r="2.45" fill="url(#mb)" stroke="#5a94c8" stroke-width="0.6"/><circle cx="585.43" cy="205.23" r="2.45" fill="url(#mb)" stroke="#5a94c8" stroke-width="0.6"/><circle cx="587.71" cy="206.38" r="2.45" fill="url(#mb)" stroke="#5a94c8" stroke-width="0.6"/><circle cx="589.17" cy="302.71" r="2.45" fill="url(#mb)" stroke="#5a94c8" stroke-width="0.6"/><circle cx="591.28" cy="302.71" r="2.45" fill="url(#mb)" stroke="#5a94c8" stroke-width="0.6"/><circle cx="593.4" cy="302.71" r="2.45" fill="url(#mb)" stroke="#5a94c8" stroke-width="0.6"/><circle cx="595.52" cy="302.71" r="2.45" fill="url(#mb)" stroke="#5a94c8" stroke-width="0.6"/><circle cx="597.64" cy="302.71" r="2.45" fill="url(#mb)" stroke="#5a94c8" stroke-width="0.6"/><circle cx="599.75" cy="302.71" r="2.45" fill="url(#mb)" stroke="#5a94c8" stroke-width="0.6"/><circle cx="601.67" cy="207.82" r="2.45" fill="url(#mb)" stroke="#5a94c8" stroke-width="0.6"/><circle cx="603.96" cy="207.05" r="2.45" fill="url(#mb)" stroke="#5a94c8" stroke-width="0.6"/><circle cx="606.24" cy="206.28" r="2.45" fill="url(#mb)" stroke="#5a94c8" stroke-width="0.6"/><circle cx="608.53" cy="205.71" r="2.45" fill="url(#mb)" stroke="#5a94c8" stroke-width="0.6"/><circle cx="610.81" cy="205.13" r="2.45" fill="url(#mb)" stroke="#5a94c8" stroke-width="0.6"/><circle cx="613.09" cy="203.98" r="2.45" fill="url(#mb)" stroke="#5a94c8" stroke-width="0.6"/><circle cx="614.55" cy="302.71" r="2.45" fill="url(#mb)" stroke="#5a94c8" stroke-width="0.6"/><circle cx="616.66" cy="302.71" r="2.45" fill="url(#mb)" stroke="#5a94c8" stroke-width="0.6"/><circle cx="618.78" cy="302.71" r="2.45" fill="url(#mb)" stroke="#5a94c8" stroke-width="0.6"/><circle cx="620.9" cy="302.71" r="2.45" fill="url(#mb)" stroke="#5a94c8" stroke-width="0.6"/><circle cx="623.02" cy="302.71" r="2.45" fill="url(#mb)" stroke="#5a94c8" stroke-width="0.6"/><circle cx="625.13" cy="302.71" r="2.45" fill="url(#mb)" stroke="#5a94c8" stroke-width="0.6"/><circle cx="627.05" cy="206.86" r="2.45" fill="url(#mb)" stroke="#5a94c8" stroke-width="0.6"/><circle cx="629.34" cy="206.09" r="2.45" fill="url(#mb)" stroke="#5a94c8" stroke-width="0.6"/><circle cx="631.62" cy="204.46" r="2.45" fill="url(#mb)" stroke="#5a94c8" stroke-width="0.6"/><circle cx="633.9" cy="204.46" r="2.45" fill="url(#mb)" stroke="#5a94c8" stroke-width="0.6"/><circle cx="636.19" cy="206.09" r="2.45" fill="url(#mb)" stroke="#5a94c8" stroke-width="0.6"/><circle cx="638.47" cy="206.86" r="2.45" fill="url(#mb)" stroke="#5a94c8" stroke-width="0.6"/><circle cx="639.92" cy="302.71" r="2.45" fill="url(#mb)" stroke="#5a94c8" stroke-width="0.6"/><circle cx="642.04" cy="302.71" r="2.45" fill="url(#mb)" stroke="#5a94c8" stroke-width="0.6"/><circle cx="644.16" cy="302.71" r="2.45" fill="url(#mb)" stroke="#5a94c8" stroke-width="0.6"/><circle cx="646.28" cy="302.71" r="2.45" fill="url(#mb)" stroke="#5a94c8" stroke-width="0.6"/><circle cx="648.39" cy="302.71" r="2.45" fill="url(#mb)" stroke="#5a94c8" stroke-width="0.6"/><circle cx="650.51" cy="302.71" r="2.45" fill="url(#mb)" stroke="#5a94c8" stroke-width="0.6"/><circle cx="652.43" cy="204.46" r="2.45" fill="url(#mb)" stroke="#5a94c8" stroke-width="0.6"/><circle cx="654.72" cy="206.38" r="2.45" fill="url(#mb)" stroke="#5a94c8" stroke-width="0.6"/><circle cx="657" cy="207.14" r="2.45" fill="url(#mb)" stroke="#5a94c8" stroke-width="0.6"/><circle cx="659.28" cy="207.14" r="2.45" fill="url(#mb)" stroke="#5a94c8" stroke-width="0.6"/><circle cx="661.57" cy="206.67" r="2.45" fill="url(#mb)" stroke="#5a94c8" stroke-width="0.6"/><circle cx="663.85" cy="205.9" r="2.45" fill="url(#mb)" stroke="#5a94c8" stroke-width="0.6"/><rect x="449.4" y="178.1" width="216.1" height="134.2" fill="none" stroke="#222" stroke-width="1.1"/><line x1="446.6" y1="302.71" x2="449.4" y2="302.71" stroke="#222" stroke-width="1"/><text transform="translate(443,306.51) scale(0.93,1)" font-size="10.0" fill="#1a1a1a" text-anchor="end">0.0</text><line x1="446.6" y1="283.54" x2="449.4" y2="283.54" stroke="#222" stroke-width="1"/><text transform="translate(443,287.34) scale(0.93,1)" font-size="10.0" fill="#1a1a1a" text-anchor="end">0.2</text><line x1="446.6" y1="264.37" x2="449.4" y2="264.37" stroke="#222" stroke-width="1"/><text transform="translate(443,268.17) scale(0.93,1)" font-size="10.0" fill="#1a1a1a" text-anchor="end">0.4</text><line x1="446.6" y1="245.2" x2="449.4" y2="245.2" stroke="#222" stroke-width="1"/><text transform="translate(443,249) scale(0.93,1)" font-size="10.0" fill="#1a1a1a" text-anchor="end">0.6</text><line x1="446.6" y1="226.03" x2="449.4" y2="226.03" stroke="#222" stroke-width="1"/><text transform="translate(443,229.83) scale(0.93,1)" font-size="10.0" fill="#1a1a1a" text-anchor="end">0.8</text><line x1="446.6" y1="206.86" x2="449.4" y2="206.86" stroke="#222" stroke-width="1"/><text transform="translate(443,210.66) scale(0.93,1)" font-size="10.0" fill="#1a1a1a" text-anchor="end">1.0</text><line x1="446.6" y1="187.69" x2="449.4" y2="187.69" stroke="#222" stroke-width="1"/><text transform="translate(443,191.49) scale(0.93,1)" font-size="10.0" fill="#1a1a1a" text-anchor="end">1.2</text><line x1="447.8" y1="312.3" x2="449.4" y2="312.3" stroke="#222" stroke-width="1"/><line x1="447.8" y1="293.13" x2="449.4" y2="293.13" stroke="#222" stroke-width="1"/><line x1="447.8" y1="273.96" x2="449.4" y2="273.96" stroke="#222" stroke-width="1"/><line x1="447.8" y1="254.79" x2="449.4" y2="254.79" stroke="#222" stroke-width="1"/><line x1="447.8" y1="235.61" x2="449.4" y2="235.61" stroke="#222" stroke-width="1"/><line x1="447.8" y1="216.44" x2="449.4" y2="216.44" stroke="#222" stroke-width="1"/><line x1="447.8" y1="197.27" x2="449.4" y2="197.27" stroke="#222" stroke-width="1"/><line x1="447.8" y1="178.1" x2="449.4" y2="178.1" stroke="#222" stroke-width="1"/><line x1="449.4" y1="312.3" x2="449.4" y2="315.1" stroke="#222" stroke-width="1"/><text transform="translate(449.4,325.3) scale(0.93,1)" font-size="10.0" fill="#1a1a1a" text-anchor="middle">0</text><line x1="501.3" y1="312.3" x2="501.3" y2="315.1" stroke="#222" stroke-width="1"/><text transform="translate(501.3,325.3) scale(0.93,1)" font-size="10.0" fill="#1a1a1a" text-anchor="middle">50</text><line x1="553.2" y1="312.3" x2="553.2" y2="315.1" stroke="#222" stroke-width="1"/><text transform="translate(553.2,325.3) scale(0.93,1)" font-size="10.0" fill="#1a1a1a" text-anchor="middle">100</text><line x1="605.1" y1="312.3" x2="605.1" y2="315.1" stroke="#222" stroke-width="1"/><text transform="translate(605.1,325.3) scale(0.93,1)" font-size="10.0" fill="#1a1a1a" text-anchor="middle">150</text><line x1="657" y1="312.3" x2="657" y2="315.1" stroke="#222" stroke-width="1"/><text transform="translate(657,325.3) scale(0.93,1)" font-size="10.0" fill="#1a1a1a" text-anchor="middle">200</text><line x1="475.35" y1="312.3" x2="475.35" y2="313.9" stroke="#222" stroke-width="1"/><line x1="527.25" y1="312.3" x2="527.25" y2="313.9" stroke="#222" stroke-width="1"/><line x1="579.15" y1="312.3" x2="579.15" y2="313.9" stroke="#222" stroke-width="1"/><line x1="631.05" y1="312.3" x2="631.05" y2="313.9" stroke="#222" stroke-width="1"/><text x="559" y="341.4" font-size="14.2" fill="#1a1a1a" text-anchor="middle">Time (h)</text><text transform="translate(424.4,244.4) rotate(-90)" font-size="14.1" fill="#1a1a1a" text-anchor="middle">Nor. PCE</text><line x1="596.6" y1="193.3" x2="620.2" y2="193.3" stroke="#5f9bd0" stroke-width="0.9"/><circle cx="608.4" cy="193.3" r="2.4" fill="url(#mb)" stroke="#5a94c8" stroke-width="0.6"/><text x="623.8" y="197.2" font-size="11.3" fill="#1a1a1a" text-anchor="start">1-BP</text><text x="0.4" y="358.6" font-size="18.3" fill="#000" text-anchor="start">g</text><line x1="34.3" y1="389.16" x2="331.0" y2="389.16" stroke="#dd2f2f" stroke-width="1.0" stroke-dasharray="4,1.6,1.2,1.6"/><use href="#gb" x="34.3" y="373.05"/><use href="#gb" x="34.65" y="372.12"/><use href="#gb" x="35" y="368.81"/><use href="#gb" x="35.36" y="369.07"/><use href="#gb" x="35.71" y="373.97"/><use href="#gb" x="36.06" y="369.74"/><use href="#gb" x="36.41" y="370.28"/><use href="#gb" x="36.77" y="372.15"/><use href="#gb" x="37.12" y="368.74"/><use href="#gb" x="37.47" y="370.17"/><use href="#gb" x="37.82" y="368.84"/><use href="#gb" x="38.18" y="371.44"/><use href="#gb" x="38.53" y="369.21"/><use href="#gb" x="38.88" y="368.95"/><use href="#gb" x="39.23" y="369.07"/><use href="#gb" x="39.58" y="373.67"/><use href="#gb" x="39.94" y="367.17"/><use href="#gb" x="40.29" y="368.26"/><use href="#gb" x="40.64" y="368.14"/><use href="#gb" x="40.99" y="372.15"/><use href="#gb" x="41.35" y="370.13"/><use href="#gb" x="41.7" y="369.82"/><use href="#gb" x="42.05" y="368.22"/><use href="#gb" x="42.4" y="369.59"/><use href="#gb" x="42.76" y="367.76"/><use href="#gb" x="43.11" y="370.17"/><use href="#gb" x="43.46" y="366.05"/><use href="#gb" x="43.81" y="369.5"/><use href="#gb" x="44.17" y="368.29"/><use href="#gb" x="44.52" y="363.85"/><use href="#gb" x="44.87" y="368.44"/><use href="#gb" x="45.22" y="363.99"/><use href="#gb" x="45.57" y="372.51"/><use href="#gb" x="45.93" y="371.94"/><use href="#gb" x="46.28" y="371.29"/><use href="#gb" x="46.63" y="370.52"/><use href="#gb" x="46.98" y="369.6"/><use href="#gb" x="47.34" y="369.62"/><use href="#gb" x="47.69" y="369.68"/><use href="#gb" x="48.04" y="369.79"/><use href="#gb" x="48.39" y="366.07"/><use href="#gb" x="48.75" y="369.93"/><use href="#gb" x="49.1" y="373.07"/><use href="#gb" x="49.45" y="370.85"/><use href="#gb" x="49.8" y="368.71"/><use href="#gb" x="50.15" y="367.71"/><use href="#gb" x="50.51" y="369.19"/><use href="#gb" x="50.86" y="368.88"/><use href="#gb" x="51.21" y="371.83"/><use href="#gb" x="51.56" y="370.49"/><use href="#gb" x="51.92" y="370.89"/><use href="#gb" x="52.27" y="370.4"/><use href="#gb" x="52.62" y="371.03"/><use href="#gb" x="52.97" y="363.72"/><use href="#gb" x="53.33" y="370.69"/><use href="#gb" x="53.68" y="372.75"/><use href="#gb" x="54.03" y="367.43"/><use href="#gb" x="54.38" y="369.06"/><use href="#gb" x="54.74" y="369.14"/><use href="#gb" x="55.09" y="369.48"/><use href="#gb" x="55.44" y="370.44"/><use href="#gb" x="55.79" y="369.04"/><use href="#gb" x="56.14" y="371.12"/><use href="#gb" x="56.5" y="369.69"/><use href="#gb" x="56.85" y="370.6"/><use href="#gb" x="57.2" y="369.34"/><use href="#gb" x="57.55" y="369.09"/><use href="#gb" x="57.91" y="368.87"/><use href="#gb" x="58.26" y="372.43"/><use href="#gb" x="58.61" y="366.22"/><use href="#gb" x="58.96" y="368.68"/><use href="#gb" x="59.32" y="370.08"/><use href="#gb" x="59.67" y="370.16"/><use href="#gb" x="60.02" y="367.87"/><use href="#gb" x="60.37" y="371.1"/><use href="#gb" x="60.72" y="370.45"/><use href="#gb" x="61.08" y="370.35"/><use href="#gb" x="61.43" y="366"/><use href="#gb" x="61.78" y="368.68"/><use href="#gb" x="62.13" y="367.15"/><use href="#gb" x="62.49" y="366.23"/><use href="#gb" x="62.84" y="367.37"/><use href="#gb" x="63.19" y="371.73"/><use href="#gb" x="63.54" y="370.39"/><use href="#gb" x="63.9" y="368.26"/><use href="#gb" x="64.25" y="369.28"/><use href="#gb" x="64.6" y="371.97"/><use href="#gb" x="64.95" y="370.87"/><use href="#gb" x="65.31" y="368.71"/><use href="#gb" x="65.66" y="365"/><use href="#gb" x="66.01" y="369.6"/><use href="#gb" x="66.36" y="371.89"/><use href="#gb" x="66.71" y="371.72"/><use href="#gb" x="67.07" y="370.2"/><use href="#gb" x="67.42" y="369.36"/><use href="#gb" x="67.77" y="369.1"/><use href="#gb" x="68.12" y="368.31"/><use href="#gb" x="68.48" y="370.01"/><use href="#gb" x="68.83" y="372.5"/><use href="#gb" x="69.18" y="371.29"/><use href="#gb" x="69.53" y="369.77"/><use href="#gb" x="69.89" y="366.41"/><use href="#gb" x="70.24" y="373.92"/><use href="#gb" x="70.59" y="368.17"/><use href="#gb" x="70.94" y="365.49"/><use href="#gb" x="71.29" y="368.92"/><use href="#gb" x="71.65" y="370.24"/><use href="#gb" x="72" y="368.39"/><use href="#gb" x="72.35" y="369.16"/><use href="#gb" x="72.7" y="368.74"/><use href="#gb" x="73.06" y="370.55"/><use href="#gb" x="73.41" y="373.38"/><use href="#gb" x="73.76" y="369.82"/><use href="#gb" x="74.11" y="367.16"/><use href="#gb" x="74.47" y="369.83"/><use href="#gb" x="74.82" y="370.04"/><use href="#gb" x="75.17" y="368.38"/><use href="#gb" x="75.52" y="370.04"/><use href="#gb" x="75.88" y="367.06"/><use href="#gb" x="76.23" y="368.07"/><use href="#gb" x="76.58" y="370.17"/><use href="#gb" x="76.93" y="368.83"/><use href="#gb" x="77.28" y="370.55"/><use href="#gb" x="77.64" y="369.93"/><use href="#gb" x="77.99" y="371.36"/><use href="#gb" x="78.34" y="368.94"/><use href="#gb" x="78.69" y="368.68"/><use href="#gb" x="79.05" y="372.85"/><use href="#gb" x="79.4" y="372.51"/><use href="#gb" x="79.75" y="371.37"/><use href="#gb" x="80.1" y="365.96"/><use href="#gb" x="80.46" y="367.77"/><use href="#gb" x="80.81" y="371.43"/><use href="#gb" x="81.16" y="370.42"/><use href="#gb" x="81.51" y="367.67"/><use href="#gb" x="81.86" y="368.08"/><use href="#gb" x="82.22" y="369.31"/><use href="#gb" x="82.57" y="367.9"/><use href="#gb" x="82.92" y="369.17"/><use href="#gb" x="83.27" y="371.48"/><use href="#gb" x="83.63" y="370.22"/><use href="#gb" x="83.98" y="371.88"/><use href="#gb" x="84.33" y="362.85"/><use href="#gb" x="84.68" y="370.43"/><use href="#gb" x="85.04" y="369.7"/><use href="#gb" x="85.39" y="370.25"/><use href="#gb" x="85.74" y="366.98"/><use href="#gb" x="86.09" y="368.43"/><use href="#gb" x="86.45" y="372.95"/><use href="#gb" x="86.8" y="371.45"/><use href="#gb" x="87.15" y="371.06"/><use href="#gb" x="87.5" y="365.73"/><use href="#gb" x="87.85" y="369.91"/><use href="#gb" x="88.21" y="369.87"/><use href="#gb" x="88.56" y="370.16"/><use href="#gb" x="88.91" y="369.25"/><use href="#gb" x="89.26" y="369.09"/><use href="#gb" x="89.62" y="371.78"/><use href="#gb" x="89.97" y="372.21"/><use href="#gb" x="90.32" y="370.09"/><use href="#gb" x="90.67" y="369.45"/><use href="#gb" x="91.03" y="369.98"/><use href="#gb" x="91.38" y="370.12"/><use href="#gb" x="91.73" y="372.52"/><use href="#gb" x="92.08" y="369.38"/><use href="#gb" x="92.43" y="363.79"/><use href="#gb" x="92.79" y="369.24"/><use href="#gb" x="93.14" y="368.78"/><use href="#gb" x="93.49" y="370.4"/><use href="#gb" x="93.84" y="371.01"/><use href="#gb" x="94.2" y="372.17"/><use href="#gb" x="94.55" y="371.01"/><use href="#gb" x="94.9" y="366.44"/><use href="#gb" x="95.25" y="370.96"/><use href="#gb" x="95.61" y="370.03"/><use href="#gb" x="95.96" y="369.71"/><use href="#gb" x="96.31" y="369.08"/><use href="#gb" x="96.66" y="371.66"/><use href="#gb" x="97.01" y="368.59"/><use href="#gb" x="97.37" y="366"/><use href="#gb" x="97.72" y="372.15"/><use href="#gb" x="98.07" y="367.84"/><use href="#gb" x="98.42" y="369.66"/><use href="#gb" x="98.78" y="371.26"/><use href="#gb" x="99.13" y="370.6"/><use href="#gb" x="99.48" y="366.9"/><use href="#gb" x="99.83" y="363.8"/><use href="#gb" x="100.19" y="367.7"/><use href="#gb" x="100.54" y="361.52"/><use href="#gb" x="100.89" y="371.68"/><use href="#gb" x="101.24" y="371.88"/><use href="#gb" x="101.6" y="371.32"/><use href="#gb" x="101.95" y="370.86"/><use href="#gb" x="102.3" y="369.58"/><use href="#gb" x="102.65" y="370.42"/><use href="#gb" x="103" y="369.33"/><use href="#gb" x="103.36" y="370.32"/><use href="#gb" x="103.71" y="367.02"/><use href="#gb" x="104.06" y="369.39"/><use href="#gb" x="104.41" y="369.03"/><use href="#gb" x="104.77" y="372.09"/><use href="#gb" x="105.12" y="367.87"/><use href="#gb" x="105.47" y="368.52"/><use href="#gb" x="105.82" y="370.37"/><use href="#gb" x="106.18" y="369.93"/><use href="#gb" x="106.53" y="370.41"/><use href="#gb" x="106.88" y="371.59"/><use href="#gb" x="107.23" y="373.22"/><use href="#gb" x="107.58" y="367.08"/><use href="#gb" x="107.94" y="370.82"/><use href="#gb" x="108.29" y="370.19"/><use href="#gb" x="108.64" y="372.43"/><use href="#gb" x="108.99" y="371.14"/><use href="#gb" x="109.35" y="370.51"/><use href="#gb" x="109.7" y="368.45"/><use href="#gb" x="110.05" y="370.13"/><use href="#gb" x="110.4" y="370.67"/><use href="#gb" x="110.76" y="371.15"/><use href="#gb" x="111.11" y="372.97"/><use href="#gb" x="111.46" y="368.29"/><use href="#gb" x="111.81" y="370.67"/><use href="#gb" x="112.17" y="368.65"/><use href="#gb" x="112.52" y="373.64"/><use href="#gb" x="112.87" y="367.64"/><use href="#gb" x="113.22" y="371.21"/><use href="#gb" x="113.57" y="370.88"/><use href="#gb" x="113.93" y="370.47"/><use href="#gb" x="114.28" y="367.15"/><use href="#gb" x="114.63" y="371.67"/><use href="#gb" x="114.98" y="371.15"/><use href="#gb" x="115.34" y="371.44"/><use href="#gb" x="115.69" y="371.16"/><use href="#gb" x="116.04" y="370.5"/><use href="#gb" x="116.39" y="369.45"/><use href="#gb" x="116.75" y="370.53"/><use href="#gb" x="117.1" y="370.58"/><use href="#gb" x="117.45" y="370.51"/><use href="#gb" x="117.8" y="369.07"/><use href="#gb" x="118.15" y="371.55"/><use href="#gb" x="118.51" y="372.65"/><use href="#gb" x="118.86" y="369.71"/><use href="#gb" x="119.21" y="371.44"/><use href="#gb" x="119.56" y="368.29"/><use href="#gb" x="119.92" y="370.58"/><use href="#gb" x="120.27" y="367.62"/><use href="#gb" x="120.62" y="371.03"/><use href="#gb" x="120.97" y="374.6"/><use href="#gb" x="121.33" y="371"/><use href="#gb" x="121.68" y="369.36"/><use href="#gb" x="122.03" y="365.31"/><use href="#gb" x="122.38" y="371.79"/><use href="#gb" x="122.74" y="370.03"/><use href="#gb" x="123.09" y="369.48"/><use href="#gb" x="123.44" y="370.72"/><use href="#gb" x="123.79" y="369.12"/><use href="#gb" x="124.14" y="371"/><use href="#gb" x="124.5" y="362.34"/><use href="#gb" x="124.85" y="372.64"/><use href="#gb" x="125.2" y="370.38"/><use href="#gb" x="125.55" y="371.68"/><use href="#gb" x="125.91" y="371.38"/><use href="#gb" x="126.26" y="372.29"/><use href="#gb" x="126.61" y="369.51"/><use href="#gb" x="126.96" y="370.06"/><use href="#gb" x="127.32" y="367.86"/><use href="#gb" x="127.67" y="371.38"/><use href="#gb" x="128.02" y="373.41"/><use href="#gb" x="128.37" y="371.76"/><use href="#gb" x="128.72" y="370.03"/><use href="#gb" x="129.08" y="372.89"/><use href="#gb" x="129.43" y="369.09"/><use href="#gb" x="129.78" y="370.45"/><use href="#gb" x="130.13" y="368.77"/><use href="#gb" x="130.49" y="372.49"/><use href="#gb" x="130.84" y="369.17"/><use href="#gb" x="131.19" y="372.04"/><use href="#gb" x="131.54" y="372.78"/><use href="#gb" x="131.9" y="370.04"/><use href="#gb" x="132.25" y="370.56"/><use href="#gb" x="132.6" y="369.74"/><use href="#gb" x="132.95" y="374.24"/><use href="#gb" x="133.31" y="372.29"/><use href="#gb" x="133.66" y="371.42"/><use href="#gb" x="134.01" y="372.45"/><use href="#gb" x="134.36" y="372.84"/><use href="#gb" x="134.71" y="369.48"/><use href="#gb" x="135.07" y="370.89"/><use href="#gb" x="135.42" y="370.47"/><use href="#gb" x="135.77" y="371.36"/><use href="#gb" x="136.12" y="369.35"/><use href="#gb" x="136.48" y="364.81"/><use href="#gb" x="136.83" y="372.23"/><use href="#gb" x="137.18" y="372.31"/><use href="#gb" x="137.53" y="371.11"/><use href="#gb" x="137.89" y="369.05"/><use href="#gb" x="138.24" y="366.5"/><use href="#gb" x="138.59" y="370.74"/><use href="#gb" x="138.94" y="370.05"/><use href="#gb" x="139.29" y="370.86"/><use href="#gb" x="139.65" y="372.22"/><use href="#gb" x="140" y="372.61"/><use href="#gb" x="140.35" y="372.14"/><use href="#gb" x="140.7" y="373.24"/><use href="#gb" x="141.06" y="367.92"/><use href="#gb" x="141.41" y="370.7"/><use href="#gb" x="141.76" y="373.4"/><use href="#gb" x="142.11" y="370.11"/><use href="#gb" x="142.47" y="372.41"/><use href="#gb" x="142.82" y="374.89"/><use href="#gb" x="143.17" y="369.68"/><use href="#gb" x="143.52" y="373.37"/><use href="#gb" x="143.88" y="371.47"/><use href="#gb" x="144.23" y="369.01"/><use href="#gb" x="144.58" y="369.95"/><use href="#gb" x="144.93" y="371.25"/><use href="#gb" x="145.28" y="368.92"/><use href="#gb" x="145.64" y="369.65"/><use href="#gb" x="145.99" y="372.16"/><use href="#gb" x="146.34" y="371"/><use href="#gb" x="146.69" y="370.57"/><use href="#gb" x="147.05" y="370.13"/><use href="#gb" x="147.4" y="373.51"/><use href="#gb" x="147.75" y="372.23"/><use href="#gb" x="148.1" y="370.51"/><use href="#gb" x="148.46" y="371.82"/><use href="#gb" x="148.81" y="372.65"/><use href="#gb" x="149.16" y="372.32"/><use href="#gb" x="149.51" y="369.12"/><use href="#gb" x="149.86" y="371.95"/><use href="#gb" x="150.22" y="371.89"/><use href="#gb" x="150.57" y="370.75"/><use href="#gb" x="150.92" y="371.17"/><use href="#gb" x="151.27" y="371.5"/><use href="#gb" x="151.63" y="369.96"/><use href="#gb" x="151.98" y="372.42"/><use href="#gb" x="152.33" y="368.75"/><use href="#gb" x="152.68" y="372.21"/><use href="#gb" x="153.04" y="372.94"/><use href="#gb" x="153.39" y="372.36"/><use href="#gb" x="153.74" y="371.47"/><use href="#gb" x="154.09" y="372.62"/><use href="#gb" x="154.44" y="377.23"/><use href="#gb" x="154.8" y="367.64"/><use href="#gb" x="155.15" y="367.62"/><use href="#gb" x="155.5" y="369.09"/><use href="#gb" x="155.85" y="373.07"/><use href="#gb" x="156.21" y="366.91"/><use href="#gb" x="156.56" y="370.55"/><use href="#gb" x="156.91" y="371.14"/><use href="#gb" x="157.26" y="372.58"/><use href="#gb" x="157.62" y="368.19"/><use href="#gb" x="157.97" y="373.62"/><use href="#gb" x="158.32" y="371.35"/><use href="#gb" x="158.67" y="372.72"/><use href="#gb" x="159.03" y="369.97"/><use href="#gb" x="159.38" y="370.16"/><use href="#gb" x="159.73" y="372.38"/><use href="#gb" x="160.08" y="375.3"/><use href="#gb" x="160.43" y="371.12"/><use href="#gb" x="160.79" y="371.63"/><use href="#gb" x="161.14" y="369.73"/><use href="#gb" x="161.49" y="377.22"/><use href="#gb" x="161.84" y="373.08"/><use href="#gb" x="162.2" y="372.42"/><use href="#gb" x="162.55" y="371.71"/><use href="#gb" x="162.9" y="370.19"/><use href="#gb" x="163.25" y="372.63"/><use href="#gb" x="163.61" y="373.01"/><use href="#gb" x="163.96" y="371.01"/><use href="#gb" x="164.31" y="372.14"/><use href="#gb" x="164.66" y="373.19"/><use href="#gb" x="165.01" y="368.82"/><use href="#gb" x="165.37" y="370.47"/><use href="#gb" x="165.72" y="372.7"/><use href="#gb" x="166.07" y="373.81"/><use href="#gb" x="166.42" y="370.8"/><use href="#gb" x="166.78" y="371.16"/><use href="#gb" x="167.13" y="371.97"/><use href="#gb" x="167.48" y="368.71"/><use href="#gb" x="167.83" y="370.75"/><use href="#gb" x="168.19" y="371"/><use href="#gb" x="168.54" y="369.46"/><use href="#gb" x="168.89" y="372.05"/><use href="#gb" x="169.24" y="370.84"/><use href="#gb" x="169.6" y="372.75"/><use href="#gb" x="169.95" y="368.89"/><use href="#gb" x="170.3" y="370.11"/><use href="#gb" x="170.65" y="371.61"/><use href="#gb" x="171" y="371.9"/><use href="#gb" x="171.36" y="369.55"/><use href="#gb" x="171.71" y="370.23"/><use href="#gb" x="172.06" y="371.33"/><use href="#gb" x="172.41" y="371.04"/><use href="#gb" x="172.77" y="370.44"/><use href="#gb" x="173.12" y="372.03"/><use href="#gb" x="173.47" y="371.49"/><use href="#gb" x="173.82" y="369.11"/><use href="#gb" x="174.18" y="369.81"/><use href="#gb" x="174.53" y="371.89"/><use href="#gb" x="174.88" y="369.52"/><use href="#gb" x="175.23" y="369.05"/><use href="#gb" x="175.58" y="373.58"/><use href="#gb" x="175.94" y="371.17"/><use href="#gb" x="176.29" y="370.82"/><use href="#gb" x="176.64" y="371.08"/><use href="#gb" x="176.99" y="372.08"/><use href="#gb" x="177.35" y="373.27"/><use href="#gb" x="177.7" y="374.49"/><use href="#gb" x="178.05" y="373.61"/><use href="#gb" x="178.4" y="372.82"/><use href="#gb" x="178.76" y="367.67"/><use href="#gb" x="179.11" y="369.15"/><use href="#gb" x="179.46" y="367.64"/><use href="#gb" x="179.81" y="369.78"/><use href="#gb" x="180.17" y="368.79"/><use href="#gb" x="180.52" y="372.49"/><use href="#gb" x="180.87" y="370.9"/><use href="#gb" x="181.22" y="371.7"/><use href="#gb" x="181.57" y="369.09"/><use href="#gb" x="181.93" y="373.92"/><use href="#gb" x="182.28" y="368.69"/><use href="#gb" x="182.63" y="371.92"/><use href="#gb" x="182.98" y="369.73"/><use href="#gb" x="183.34" y="372.2"/><use href="#gb" x="183.69" y="373.34"/><use href="#gb" x="184.04" y="371.37"/><use href="#gb" x="184.39" y="371.27"/><use href="#gb" x="184.75" y="373.9"/><use href="#gb" x="185.1" y="367.87"/><use href="#gb" x="185.45" y="369.99"/><use href="#gb" x="185.8" y="372.95"/><use href="#gb" x="186.15" y="370.56"/><use href="#gb" x="186.51" y="373.71"/><use href="#gb" x="186.86" y="369.68"/><use href="#gb" x="187.21" y="370.41"/><use href="#gb" x="187.56" y="371.46"/><use href="#gb" x="187.92" y="375.19"/><use href="#gb" x="188.27" y="372.27"/><use href="#gb" x="188.62" y="373.11"/><use href="#gb" x="188.97" y="371.48"/><use href="#gb" x="189.33" y="374.36"/><use href="#gb" x="189.68" y="370.56"/><use href="#gb" x="190.03" y="374.12"/><use href="#gb" x="190.38" y="368.88"/><use href="#gb" x="190.74" y="373.57"/><use href="#gb" x="191.09" y="372.45"/><use href="#gb" x="191.44" y="372.13"/><use href="#gb" x="191.79" y="372.05"/><use href="#gb" x="192.14" y="373.05"/><use href="#gb" x="192.5" y="368.57"/><use href="#gb" x="192.85" y="371.72"/><use href="#gb" x="193.2" y="373.53"/><use href="#gb" x="193.55" y="373.74"/><use href="#gb" x="193.91" y="369.23"/><use href="#gb" x="194.26" y="370.06"/><use href="#gb" x="194.61" y="373.63"/><use href="#gb" x="194.96" y="372.54"/><use href="#gb" x="195.32" y="371.84"/><use href="#gb" x="195.67" y="371"/><use href="#gb" x="196.02" y="372.38"/><use href="#gb" x="196.37" y="372.27"/><use href="#gb" x="196.72" y="365.77"/><use href="#gb" x="197.08" y="371.81"/><use href="#gb" x="197.43" y="375.53"/><use href="#gb" x="197.78" y="370.77"/><use href="#gb" x="198.13" y="373.11"/><use href="#gb" x="198.49" y="372.73"/><use href="#gb" x="198.84" y="371.9"/><use href="#gb" x="199.19" y="369.75"/><use href="#gb" x="199.54" y="372.61"/><use href="#gb" x="199.9" y="373.25"/><use href="#gb" x="200.25" y="367"/><use href="#gb" x="200.6" y="367.56"/><use href="#gb" x="200.95" y="366.32"/><use href="#gb" x="201.31" y="371.15"/><use href="#gb" x="201.66" y="372.08"/><use href="#gb" x="202.01" y="374.62"/><use href="#gb" x="202.36" y="371.99"/><use href="#gb" x="202.71" y="371.77"/><use href="#gb" x="203.07" y="373.4"/><use href="#gb" x="203.42" y="372.88"/><use href="#gb" x="203.77" y="373.07"/><use href="#gb" x="204.12" y="370.82"/><use href="#gb" x="204.48" y="374.7"/><use href="#gb" x="204.83" y="370.95"/><use href="#gb" x="205.18" y="375.48"/><use href="#gb" x="205.53" y="371.31"/><use href="#gb" x="205.89" y="371.71"/><use href="#gb" x="206.24" y="372.6"/><use href="#gb" x="206.59" y="372.07"/><use href="#gb" x="206.94" y="374.85"/><use href="#gb" x="207.29" y="372.33"/><use href="#gb" x="207.65" y="371.86"/><use href="#gb" x="208" y="372.61"/><use href="#gb" x="208.35" y="371.05"/><use href="#gb" x="208.7" y="373.41"/><use href="#gb" x="209.06" y="369.85"/><use href="#gb" x="209.41" y="370.81"/><use href="#gb" x="209.76" y="373.26"/><use href="#gb" x="210.11" y="372.15"/><use href="#gb" x="210.47" y="371.81"/><use href="#gb" x="210.82" y="371.77"/><use href="#gb" x="211.17" y="373.37"/><use href="#gb" x="211.52" y="373.12"/><use href="#gb" x="211.87" y="372.11"/><use href="#gb" x="212.23" y="371.37"/><use href="#gb" x="212.58" y="375.79"/><use href="#gb" x="212.93" y="370.28"/><use href="#gb" x="213.28" y="370.43"/><use href="#gb" x="213.64" y="372.36"/><use href="#gb" x="213.99" y="371.1"/><use href="#gb" x="214.34" y="373.12"/><use href="#gb" x="214.69" y="371.82"/><use href="#gb" x="215.05" y="370.9"/><use href="#gb" x="215.4" y="370.52"/><use href="#gb" x="215.75" y="374.07"/><use href="#gb" x="216.1" y="372.46"/><use href="#gb" x="216.46" y="369.15"/><use href="#gb" x="216.81" y="370.89"/><use href="#gb" x="217.16" y="371.73"/><use href="#gb" x="217.51" y="371.62"/><use href="#gb" x="217.86" y="372.19"/><use href="#gb" x="218.22" y="371.8"/><use href="#gb" x="218.57" y="373.71"/><use href="#gb" x="218.92" y="372.4"/><use href="#gb" x="219.27" y="373.21"/><use href="#gb" x="219.63" y="375.29"/><use href="#gb" x="219.98" y="370.08"/><use href="#gb" x="220.33" y="371.43"/><use href="#gb" x="220.68" y="369.74"/><use href="#gb" x="221.04" y="371.5"/><use href="#gb" x="221.39" y="367.94"/><use href="#gb" x="221.74" y="373.93"/><use href="#gb" x="222.09" y="372.51"/><use href="#gb" x="222.44" y="374.42"/><use href="#gb" x="222.8" y="372.68"/><use href="#gb" x="223.15" y="372.65"/><use href="#gb" x="223.5" y="373.39"/><use href="#gb" x="223.85" y="372.67"/><use href="#gb" x="224.21" y="371.66"/><use href="#gb" x="224.56" y="373.67"/><use href="#gb" x="224.91" y="372.62"/><use href="#gb" x="225.26" y="373.2"/><use href="#gb" x="225.62" y="374.57"/><use href="#gb" x="225.97" y="372.59"/><use href="#gb" x="226.32" y="368.5"/><use href="#gb" x="226.67" y="372.13"/><use href="#gb" x="227.03" y="371.71"/><use href="#gb" x="227.38" y="366.63"/><use href="#gb" x="227.73" y="372.8"/><use href="#gb" x="228.08" y="373.97"/><use href="#gb" x="228.43" y="373.88"/><use href="#gb" x="228.79" y="372.48"/><use href="#gb" x="229.14" y="371.92"/><use href="#gb" x="229.49" y="372.2"/><use href="#gb" x="229.84" y="375.11"/><use href="#gb" x="230.2" y="374.18"/><use href="#gb" x="230.55" y="371.3"/><use href="#gb" x="230.9" y="374.14"/><use href="#gb" x="231.25" y="373.69"/><use href="#gb" x="231.61" y="374.39"/><use href="#gb" x="231.96" y="370.58"/><use href="#gb" x="232.31" y="372.59"/><use href="#gb" x="232.66" y="373.21"/><use href="#gb" x="233.01" y="373.14"/><use href="#gb" x="233.37" y="373.94"/><use href="#gb" x="233.72" y="371.67"/><use href="#gb" x="234.07" y="371.76"/><use href="#gb" x="234.42" y="374.64"/><use href="#gb" x="234.78" y="374.6"/><use href="#gb" x="235.13" y="371.73"/><use href="#gb" x="235.48" y="373.59"/><use href="#gb" x="235.83" y="374.32"/><use href="#gb" x="236.19" y="372.2"/><use href="#gb" x="236.54" y="372.93"/><use href="#gb" x="236.89" y="372.27"/><use href="#gb" x="237.24" y="370.73"/><use href="#gb" x="237.6" y="377.45"/><use href="#gb" x="237.95" y="369.68"/><use href="#gb" x="238.3" y="373.32"/><use href="#gb" x="238.65" y="373.58"/><use href="#gb" x="239" y="374.67"/><use href="#gb" x="239.36" y="371.01"/><use href="#gb" x="239.71" y="374.78"/><use href="#gb" x="240.06" y="373.31"/><use href="#gb" x="240.41" y="373.89"/><use href="#gb" x="240.77" y="370.94"/><use href="#gb" x="241.12" y="371.27"/><use href="#gb" x="241.47" y="373.66"/><use href="#gb" x="241.82" y="374.04"/><use href="#gb" x="242.18" y="373.35"/><use href="#gb" x="242.53" y="373.61"/><use href="#gb" x="242.88" y="371.6"/><use href="#gb" x="243.23" y="371.47"/><use href="#gb" x="243.58" y="372.14"/><use href="#gb" x="243.94" y="375.32"/><use href="#gb" x="244.29" y="374.22"/><use href="#gb" x="244.64" y="375.2"/><use href="#gb" x="244.99" y="372.75"/><use href="#gb" x="245.35" y="373.7"/><use href="#gb" x="245.7" y="372.16"/><use href="#gb" x="246.05" y="371.44"/><use href="#gb" x="246.4" y="371.86"/><use href="#gb" x="246.76" y="373.94"/><use href="#gb" x="247.11" y="372.04"/><use href="#gb" x="247.46" y="376.38"/><use href="#gb" x="247.81" y="372.8"/><use href="#gb" x="248.17" y="373.88"/><use href="#gb" x="248.52" y="373.14"/><use href="#gb" x="248.87" y="373.44"/><use href="#gb" x="249.22" y="374.15"/><use href="#gb" x="249.57" y="373.45"/><use href="#gb" x="249.93" y="374.33"/><use href="#gb" x="250.28" y="374.41"/><use href="#gb" x="250.63" y="375.4"/><use href="#gb" x="250.98" y="376.04"/><use href="#gb" x="251.34" y="373.74"/><use href="#gb" x="251.69" y="376.23"/><use href="#gb" x="252.04" y="373.03"/><use href="#gb" x="252.39" y="375.69"/><use href="#gb" x="252.75" y="371.16"/><use href="#gb" x="253.1" y="371.46"/><use href="#gb" x="253.45" y="373.99"/><use href="#gb" x="253.8" y="371.99"/><use href="#gb" x="254.15" y="375.1"/><use href="#gb" x="254.51" y="376.02"/><use href="#gb" x="254.86" y="372.88"/><use href="#gb" x="255.21" y="375.05"/><use href="#gb" x="255.56" y="374.11"/><use href="#gb" x="255.92" y="372.48"/><use href="#gb" x="256.27" y="375.13"/><use href="#gb" x="256.62" y="373.91"/><use href="#gb" x="256.97" y="372.77"/><use href="#gb" x="257.33" y="370.57"/><use href="#gb" x="257.68" y="371.76"/><use href="#gb" x="258.03" y="371.54"/><use href="#gb" x="258.38" y="377.14"/><use href="#gb" x="258.74" y="373.51"/><use href="#gb" x="259.09" y="373.85"/><use href="#gb" x="259.44" y="377.35"/><use href="#gb" x="259.79" y="373.7"/><use href="#gb" x="260.14" y="371.84"/><use href="#gb" x="260.5" y="373.82"/><use href="#gb" x="260.85" y="374.98"/><use href="#gb" x="261.2" y="372.87"/><use href="#gb" x="261.55" y="371.57"/><use href="#gb" x="261.91" y="374.64"/><use href="#gb" x="262.26" y="375.03"/><use href="#gb" x="262.61" y="372.75"/><use href="#gb" x="262.96" y="370.9"/><use href="#gb" x="263.32" y="376.78"/><use href="#gb" x="263.67" y="377.75"/><use href="#gb" x="264.02" y="377.75"/><use href="#gb" x="264.37" y="373.6"/><use href="#gb" x="264.72" y="374.91"/><use href="#gb" x="265.08" y="373.14"/><use href="#gb" x="265.43" y="375.75"/><use href="#gb" x="265.78" y="375.16"/><use href="#gb" x="266.13" y="376.84"/><use href="#gb" x="266.49" y="374.92"/><use href="#gb" x="266.84" y="373.67"/><use href="#gb" x="267.19" y="375.17"/><use href="#gb" x="267.54" y="374.18"/><use href="#gb" x="267.9" y="375.36"/><use href="#gb" x="268.25" y="375.09"/><use href="#gb" x="268.6" y="372.61"/><use href="#gb" x="268.95" y="373.79"/><use href="#gb" x="269.3" y="374.29"/><use href="#gb" x="269.66" y="374.39"/><use href="#gb" x="270.01" y="376.32"/><use href="#gb" x="270.36" y="375.52"/><use href="#gb" x="270.71" y="375.5"/><use href="#gb" x="271.07" y="374.74"/><use href="#gb" x="271.42" y="372.25"/><use href="#gb" x="271.77" y="374.4"/><use href="#gb" x="272.12" y="372.88"/><use href="#gb" x="272.48" y="372.14"/><use href="#gb" x="272.83" y="373.48"/><use href="#gb" x="273.18" y="372.72"/><use href="#gb" x="273.53" y="378.07"/><use href="#gb" x="273.89" y="375.01"/><use href="#gb" x="274.24" y="375.08"/><use href="#gb" x="274.59" y="373.73"/><use href="#gb" x="274.94" y="372.77"/><use href="#gb" x="275.29" y="375.74"/><use href="#gb" x="275.65" y="374.96"/><use href="#gb" x="276" y="374.22"/><use href="#gb" x="276.35" y="372.92"/><use href="#gb" x="276.7" y="375.04"/><use href="#gb" x="277.06" y="371.06"/><use href="#gb" x="277.41" y="373.63"/><use href="#gb" x="277.76" y="372.28"/><use href="#gb" x="278.11" y="376.43"/><use href="#gb" x="278.47" y="372.88"/><use href="#gb" x="278.82" y="375.18"/><use href="#gb" x="279.17" y="376.7"/><use href="#gb" x="279.52" y="373.12"/><use href="#gb" x="279.87" y="373.46"/><use href="#gb" x="280.23" y="376.09"/><use href="#gb" x="280.58" y="374.1"/><use href="#gb" x="280.93" y="373.48"/><use href="#gb" x="281.28" y="375.36"/><use href="#gb" x="281.64" y="372.86"/><use href="#gb" x="281.99" y="376.1"/><use href="#gb" x="282.34" y="373.82"/><use href="#gb" x="282.69" y="374.22"/><use href="#gb" x="283.05" y="376.25"/><use href="#gb" x="283.4" y="378.26"/><use href="#gb" x="283.75" y="373.81"/><use href="#gb" x="284.1" y="374.93"/><use href="#gb" x="284.46" y="374.15"/><use href="#gb" x="284.81" y="374.54"/><use href="#gb" x="285.16" y="377.02"/><use href="#gb" x="285.51" y="374.95"/><use href="#gb" x="285.86" y="373.53"/><use href="#gb" x="286.22" y="376.54"/><use href="#gb" x="286.57" y="376.64"/><use href="#gb" x="286.92" y="374.22"/><use href="#gb" x="287.27" y="372.09"/><use href="#gb" x="287.63" y="372.99"/><use href="#gb" x="287.98" y="375.2"/><use href="#gb" x="288.33" y="376.78"/><use href="#gb" x="288.68" y="375.56"/><use href="#gb" x="289.04" y="375.21"/><use href="#gb" x="289.39" y="377.66"/><use href="#gb" x="289.74" y="379.93"/><use href="#gb" x="290.09" y="378"/><use href="#gb" x="290.44" y="375.82"/><use href="#gb" x="290.8" y="374.88"/><use href="#gb" x="291.15" y="376.35"/><use href="#gb" x="291.5" y="373.21"/><use href="#gb" x="291.85" y="376.58"/><use href="#gb" x="292.21" y="373.94"/><use href="#gb" x="292.56" y="375.83"/><use href="#gb" x="292.91" y="374.35"/><use href="#gb" x="293.26" y="375.77"/><use href="#gb" x="293.62" y="373.86"/><use href="#gb" x="293.97" y="373.11"/><use href="#gb" x="294.32" y="377.63"/><use href="#gb" x="294.67" y="373.13"/><use href="#gb" x="295.03" y="375.08"/><use href="#gb" x="295.38" y="377.55"/><use href="#gb" x="295.73" y="374.33"/><use href="#gb" x="296.08" y="374.72"/><use href="#gb" x="296.43" y="376.82"/><use href="#gb" x="296.79" y="372.96"/><use href="#gb" x="297.14" y="373.28"/><use href="#gb" x="297.49" y="375.2"/><use href="#gb" x="297.84" y="375.55"/><use href="#gb" x="298.2" y="371.61"/><use href="#gb" x="298.55" y="374.22"/><use href="#gb" x="298.9" y="376.78"/><use href="#gb" x="299.25" y="376.19"/><use href="#gb" x="299.61" y="373.62"/><use href="#gb" x="299.96" y="376.85"/><use href="#gb" x="300.31" y="373.71"/><use href="#gb" x="300.66" y="374.04"/><use href="#gb" x="301.01" y="374.32"/><use href="#gb" x="301.37" y="377.35"/><use href="#gb" x="301.72" y="376.04"/><use href="#gb" x="302.07" y="376.28"/><use href="#gb" x="302.42" y="377.9"/><use href="#gb" x="302.78" y="372.98"/><use href="#gb" x="303.13" y="373.71"/><use href="#gb" x="303.48" y="375.97"/><use href="#gb" x="303.83" y="378.25"/><use href="#gb" x="304.19" y="372.8"/><use href="#gb" x="304.54" y="378.45"/><use href="#gb" x="304.89" y="376.07"/><use href="#gb" x="305.24" y="378.44"/><use href="#gb" x="305.6" y="376.18"/><use href="#gb" x="305.95" y="374.48"/><use href="#gb" x="306.3" y="378.38"/><use href="#gb" x="306.65" y="373.24"/><use href="#gb" x="307" y="377.01"/><use href="#gb" x="307.36" y="374.7"/><use href="#gb" x="307.71" y="373.76"/><use href="#gb" x="308.06" y="375.23"/><use href="#gb" x="308.41" y="376.42"/><use href="#gb" x="308.77" y="376.78"/><use href="#gb" x="309.12" y="376.89"/><use href="#gb" x="309.47" y="382.87"/><use href="#gb" x="309.82" y="375.99"/><use href="#gb" x="310.18" y="377.09"/><use href="#gb" x="310.53" y="375.21"/><use href="#gb" x="310.88" y="377.65"/><use href="#gb" x="311.23" y="376.9"/><use href="#gb" x="311.58" y="376.29"/><use href="#gb" x="311.94" y="377.35"/><use href="#gb" x="312.29" y="379.04"/><use href="#gb" x="312.64" y="375.75"/><use href="#gb" x="312.99" y="376.8"/><use href="#gb" x="313.35" y="374.97"/><use href="#gb" x="313.7" y="376.66"/><use href="#gb" x="314.05" y="375.43"/><use href="#gb" x="314.4" y="375.42"/><use href="#gb" x="314.76" y="375.59"/><use href="#gb" x="315.11" y="373"/><use href="#gb" x="315.46" y="376.01"/><use href="#gb" x="315.81" y="374.51"/><use href="#gb" x="316.17" y="376.84"/><use href="#gb" x="316.52" y="377.55"/><use href="#gb" x="316.87" y="371.57"/><use href="#gb" x="317.22" y="379.24"/><use href="#gb" x="317.57" y="379.35"/><use href="#gb" x="317.93" y="371.53"/><use href="#gb" x="318.28" y="375.81"/><use href="#gb" x="318.63" y="375.81"/><use href="#gb" x="318.98" y="374.62"/><use href="#gb" x="319.34" y="375.36"/><use href="#gb" x="319.69" y="374.31"/><use href="#gb" x="320.04" y="377.25"/><use href="#gb" x="320.39" y="375.89"/><use href="#gb" x="320.75" y="378.19"/><use href="#gb" x="321.1" y="375.34"/><use href="#gb" x="321.45" y="376.82"/><use href="#gb" x="321.8" y="376.4"/><use href="#gb" x="322.15" y="375.82"/><use href="#gb" x="322.51" y="379.17"/><use href="#gb" x="322.86" y="378.8"/><use href="#gb" x="323.21" y="376.87"/><use href="#gb" x="323.56" y="377.53"/><use href="#gb" x="323.92" y="377.29"/><use href="#gb" x="324.27" y="380.97"/><use href="#gb" x="324.62" y="371.31"/><use href="#gb" x="324.97" y="381.87"/><use href="#gb" x="325.33" y="375.52"/><use href="#gb" x="325.68" y="378.23"/><use href="#gb" x="326.03" y="376.48"/><use href="#gb" x="326.38" y="378.38"/><use href="#gb" x="326.73" y="376.42"/><use href="#gb" x="327.09" y="375.53"/><use href="#gb" x="327.44" y="380.23"/><use href="#gb" x="327.79" y="379.1"/><use href="#gb" x="328.14" y="376.46"/><use href="#gb" x="328.5" y="375.98"/><use href="#gb" x="328.85" y="376.49"/><use href="#gb" x="329.2" y="374.53"/><use href="#gb" x="329.55" y="379"/><use href="#gb" x="329.91" y="379.41"/><use href="#gb" x="330.26" y="379.29"/><use href="#gb" x="330.61" y="378.35"/><use href="#gb" x="330.96" y="378.18"/><use href="#gb" x="244.22" y="362.08"/><use href="#gb" x="243.47" y="364.08"/><use href="#gb" x="245.7" y="382.64"/><use href="#gb" x="145.56" y="364.08"/><use href="#gb" x="193.78" y="363.08"/><use href="#gb" x="93.64" y="363.08"/><use href="#gb" x="49.13" y="363.58"/><use href="#gb" x="78.81" y="363.08"/><use href="#gb" x="303.18" y="382.14"/><use href="#gb" x="173.38" y="362.58"/><use href="#gg" x="34.3" y="376.13"/><use href="#gg" x="34.54" y="378.73"/><use href="#gg" x="34.78" y="369.17"/><use href="#gg" x="35.02" y="374.85"/><use href="#gg" x="35.26" y="376.39"/><use href="#gg" x="35.51" y="375.97"/><use href="#gg" x="35.75" y="374.43"/><use href="#gg" x="35.99" y="377.74"/><use href="#gg" x="36.23" y="376.83"/><use href="#gg" x="36.47" y="376.23"/><use href="#gg" x="36.71" y="378.2"/><use href="#gg" x="36.95" y="377.01"/><use href="#gg" x="37.19" y="377.1"/><use href="#gg" x="37.43" y="376.52"/><use href="#gg" x="37.67" y="378.55"/><use href="#gg" x="37.92" y="377.11"/><use href="#gg" x="38.16" y="375.65"/><use href="#gg" x="38.4" y="378.28"/><use href="#gg" x="38.64" y="376.08"/><use href="#gg" x="38.88" y="374.85"/><use href="#gg" x="39.12" y="376.87"/><use href="#gg" x="39.36" y="373.94"/><use href="#gg" x="39.6" y="376.8"/><use href="#gg" x="39.84" y="376.71"/><use href="#gg" x="40.09" y="378.8"/><use href="#gg" x="40.33" y="372.36"/><use href="#gg" x="40.57" y="374.03"/><use href="#gg" x="40.81" y="375.12"/><use href="#gg" x="41.05" y="377.35"/><use href="#gg" x="41.29" y="374.8"/><use href="#gg" x="41.53" y="375.59"/><use href="#gg" x="41.77" y="376.06"/><use href="#gg" x="42.01" y="373.47"/><use href="#gg" x="42.26" y="375.19"/><use href="#gg" x="42.5" y="377.42"/><use href="#gg" x="42.74" y="378.51"/><use href="#gg" x="42.98" y="379.29"/><use href="#gg" x="43.22" y="372.68"/><use href="#gg" x="43.46" y="378.02"/><use href="#gg" x="43.7" y="376.6"/><use href="#gg" x="43.94" y="380.31"/><use href="#gg" x="44.18" y="374.11"/><use href="#gg" x="44.42" y="378.17"/><use href="#gg" x="44.67" y="375.98"/><use href="#gg" x="44.91" y="379.97"/><use href="#gg" x="45.15" y="378.02"/><use href="#gg" x="45.39" y="378.18"/><use href="#gg" x="45.63" y="376.19"/><use href="#gg" x="45.87" y="377.41"/><use href="#gg" x="46.11" y="377.57"/><use href="#gg" x="46.35" y="377.6"/><use href="#gg" x="46.59" y="376.34"/><use href="#gg" x="46.84" y="377.94"/><use href="#gg" x="47.08" y="376.63"/><use href="#gg" x="47.32" y="379.49"/><use href="#gg" x="47.56" y="380.42"/><use href="#gg" x="47.8" y="374.87"/><use href="#gg" x="48.04" y="378.73"/><use href="#gg" x="48.28" y="379.71"/><use href="#gg" x="48.52" y="376.54"/><use href="#gg" x="48.76" y="375.87"/><use href="#gg" x="49.01" y="378.3"/><use href="#gg" x="49.25" y="376.08"/><use href="#gg" x="49.49" y="376.67"/><use href="#gg" x="49.73" y="378.87"/><use href="#gg" x="49.97" y="378.85"/><use href="#gg" x="50.21" y="381.74"/><use href="#gg" x="50.45" y="382.22"/><use href="#gg" x="50.69" y="376.81"/><use href="#gg" x="50.93" y="377.07"/><use href="#gg" x="51.17" y="379.1"/><use href="#gg" x="51.42" y="377.71"/><use href="#gg" x="51.66" y="381.86"/><use href="#gg" x="51.9" y="378.46"/><use href="#gg" x="52.14" y="377.12"/><use href="#gg" x="52.38" y="379.57"/><use href="#gg" x="52.62" y="378.98"/><use href="#gg" x="52.86" y="380.82"/><use href="#gg" x="53.1" y="377.85"/><use href="#gg" x="53.34" y="381.29"/><use href="#gg" x="53.59" y="378.94"/><use href="#gg" x="53.83" y="376.98"/><use href="#gg" x="54.07" y="382.2"/><use href="#gg" x="54.31" y="381.91"/><use href="#gg" x="54.55" y="379.55"/><use href="#gg" x="54.79" y="377.74"/><use href="#gg" x="55.03" y="383.09"/><use href="#gg" x="55.27" y="379.77"/><use href="#gg" x="55.51" y="381.29"/><use href="#gg" x="55.76" y="379.85"/><use href="#gg" x="56" y="379"/><use href="#gg" x="56.24" y="383.23"/><use href="#gg" x="56.48" y="379.49"/><use href="#gg" x="56.72" y="379.94"/><use href="#gg" x="56.96" y="386.26"/><use href="#gg" x="57.2" y="374.5"/><use href="#gg" x="57.44" y="378.08"/><use href="#gg" x="57.68" y="379.2"/><use href="#gg" x="57.92" y="380.78"/><use href="#gg" x="58.17" y="383.14"/><use href="#gg" x="58.41" y="382.72"/><use href="#gg" x="58.65" y="377.88"/><use href="#gg" x="58.89" y="385.05"/><use href="#gg" x="59.13" y="378.35"/><use href="#gg" x="59.37" y="380.45"/><use href="#gg" x="59.61" y="380.5"/><use href="#gg" x="59.85" y="379.13"/><use href="#gg" x="60.09" y="378.5"/><use href="#gg" x="60.34" y="383.05"/><use href="#gg" x="60.58" y="384.19"/><use href="#gg" x="60.82" y="379.76"/><use href="#gg" x="61.06" y="382.66"/><use href="#gg" x="61.3" y="381.5"/><use href="#gg" x="61.54" y="380.47"/><use href="#gg" x="61.78" y="383.36"/><use href="#gg" x="62.02" y="382.91"/><use href="#gg" x="62.26" y="380.6"/><use href="#gg" x="62.51" y="383.25"/><use href="#gg" x="62.75" y="380.58"/><use href="#gg" x="62.99" y="383.56"/><use href="#gg" x="63.23" y="379.49"/><use href="#gg" x="63.47" y="382.99"/><use href="#gg" x="63.71" y="382.38"/><use href="#gg" x="63.95" y="383.76"/><use href="#gg" x="64.19" y="382.18"/><use href="#gg" x="64.43" y="382.27"/><use href="#gg" x="64.67" y="386.28"/><use href="#gg" x="64.92" y="386.36"/><use href="#gg" x="65.16" y="382.63"/><use href="#gg" x="65.4" y="385.39"/><use href="#gg" x="65.64" y="381.24"/><use href="#gg" x="65.88" y="384.29"/><use href="#gg" x="66.12" y="386.29"/><use href="#gg" x="66.36" y="383.52"/><use href="#gg" x="66.6" y="388.09"/><use href="#gg" x="66.84" y="382.76"/><use href="#gg" x="67.09" y="382.03"/><use href="#gg" x="67.33" y="384.1"/><use href="#gg" x="67.57" y="383.03"/><use href="#gg" x="67.81" y="384.6"/><use href="#gg" x="68.05" y="377.04"/><use href="#gg" x="68.29" y="383.15"/><use href="#gg" x="68.53" y="382.08"/><use href="#gg" x="68.77" y="381.31"/><use href="#gg" x="69.01" y="380.11"/><use href="#gg" x="69.25" y="387.6"/><use href="#gg" x="69.5" y="386"/><use href="#gg" x="69.74" y="382.82"/><use href="#gg" x="69.98" y="383.14"/><use href="#gg" x="70.22" y="382.52"/><use href="#gg" x="70.46" y="383.81"/><use href="#gg" x="70.7" y="378.47"/><use href="#gg" x="70.94" y="382.74"/><use href="#gg" x="71.18" y="384.39"/><use href="#gg" x="71.42" y="379.3"/><use href="#gg" x="71.67" y="382.39"/><use href="#gg" x="71.91" y="387.29"/><use href="#gg" x="72.15" y="383.78"/><use href="#gg" x="72.39" y="388.67"/><use href="#gg" x="72.63" y="382.73"/><use href="#gg" x="72.87" y="382.17"/><use href="#gg" x="73.11" y="381.23"/><use href="#gg" x="73.35" y="384.31"/><use href="#gg" x="73.59" y="384.55"/><use href="#gg" x="73.84" y="380.7"/><use href="#gg" x="74.08" y="382.9"/><use href="#gg" x="74.32" y="385.97"/><use href="#gg" x="74.56" y="383.06"/><use href="#gg" x="74.8" y="389.4"/><use href="#gg" x="75.04" y="386.6"/><use href="#gg" x="75.28" y="386.59"/><use href="#gg" x="75.52" y="385.41"/><use href="#gg" x="75.76" y="383.91"/><use href="#gg" x="76" y="384.8"/><use href="#gg" x="76.25" y="385.15"/><use href="#gg" x="76.49" y="386.94"/><use href="#gg" x="76.73" y="385.53"/><use href="#gg" x="76.97" y="389.58"/><use href="#gg" x="77.21" y="385.31"/><use href="#gg" x="77.45" y="383.22"/><use href="#gg" x="77.69" y="386.83"/><use href="#gg" x="77.93" y="387.56"/><use href="#gg" x="78.17" y="385.99"/><use href="#gg" x="78.42" y="384.22"/><use href="#gg" x="78.66" y="383.16"/><use href="#gg" x="78.9" y="387.77"/><use href="#gg" x="79.14" y="377.51"/><use href="#gg" x="79.38" y="380.45"/><use href="#gg" x="79.62" y="386.45"/><use href="#gg" x="79.86" y="387.13"/><use href="#gg" x="80.1" y="386.87"/><use href="#gg" x="80.34" y="385.46"/><use href="#gg" x="80.59" y="380.56"/><use href="#gg" x="80.83" y="387.1"/><use href="#gg" x="81.07" y="384.16"/><use href="#gg" x="81.31" y="382.99"/><use href="#gg" x="81.55" y="386.44"/><use href="#gg" x="81.79" y="383.06"/><use href="#gg" x="82.03" y="382.86"/><use href="#gg" x="82.27" y="384"/><use href="#gg" x="82.51" y="387.36"/><use href="#gg" x="82.75" y="385.01"/><use href="#gg" x="83" y="382.3"/><use href="#gg" x="83.24" y="387.15"/><use href="#gg" x="83.48" y="385.58"/><use href="#gg" x="83.72" y="388.82"/><use href="#gg" x="83.96" y="387.85"/><use href="#gg" x="84.2" y="386.18"/><use href="#gg" x="84.44" y="384.83"/><use href="#gg" x="84.68" y="389.13"/><use href="#gg" x="84.92" y="387.05"/><use href="#gg" x="85.17" y="388.63"/><use href="#gg" x="85.41" y="392.67"/><use href="#gg" x="85.65" y="382.06"/><use href="#gg" x="85.89" y="392.67"/><use href="#gg" x="86.13" y="384.94"/><use href="#gg" x="86.37" y="386.67"/><use href="#gg" x="86.61" y="386.53"/><use href="#gg" x="86.85" y="389.05"/><use href="#gg" x="87.09" y="382.88"/><use href="#gg" x="87.34" y="385.22"/><use href="#gg" x="87.58" y="385.95"/><use href="#gg" x="87.82" y="387.04"/><use href="#gg" x="88.06" y="392.18"/><use href="#gg" x="88.3" y="389.77"/><use href="#gg" x="88.54" y="386.38"/><use href="#gg" x="88.78" y="387.31"/><use href="#gg" x="89.02" y="387.47"/><use href="#gg" x="89.26" y="386.94"/><use href="#gg" x="89.5" y="392.67"/><use href="#gg" x="89.75" y="386.03"/><use href="#gg" x="89.99" y="387.11"/><use href="#gg" x="90.23" y="387.39"/><use href="#gg" x="90.47" y="388.57"/><use href="#gg" x="90.71" y="384.47"/><use href="#gg" x="90.95" y="387.12"/><use href="#gg" x="91.19" y="382.66"/><use href="#gg" x="91.43" y="386.75"/><use href="#gg" x="91.67" y="386.47"/><use href="#gg" x="91.92" y="389.38"/><use href="#gg" x="92.16" y="386.05"/><use href="#gg" x="92.4" y="387.4"/><use href="#gg" x="92.64" y="384.73"/><use href="#gg" x="92.88" y="389.15"/><use href="#gg" x="93.12" y="382.51"/><use href="#gg" x="93.36" y="387.1"/><use href="#gg" x="93.6" y="387.45"/><use href="#gg" x="93.84" y="389.22"/><use href="#gg" x="94.09" y="388.05"/><use href="#gg" x="94.33" y="385.64"/><use href="#gg" x="94.57" y="382.2"/><use href="#gg" x="94.81" y="381.69"/><use href="#gg" x="95.05" y="388.84"/><use href="#gg" x="95.29" y="388.25"/><use href="#gg" x="95.53" y="386.37"/><use href="#gg" x="95.77" y="386.99"/><use href="#gg" x="96.01" y="385.89"/><use href="#gg" x="96.25" y="387.89"/><use href="#gg" x="96.5" y="386.59"/><use href="#gg" x="96.74" y="385.52"/><use href="#gg" x="96.98" y="386.26"/><use href="#gg" x="97.22" y="389.97"/><use href="#gg" x="97.46" y="386.04"/><use href="#gg" x="97.7" y="388.35"/><use href="#gg" x="97.94" y="391.92"/><use href="#gg" x="98.18" y="388.7"/><use href="#gg" x="98.42" y="387.72"/><use href="#gg" x="98.67" y="385.91"/><use href="#gg" x="98.91" y="388.67"/><use href="#gg" x="99.15" y="386.63"/><use href="#gg" x="99.39" y="380.7"/><use href="#gg" x="99.63" y="385.51"/><use href="#gg" x="99.87" y="389.17"/><use href="#gg" x="100.11" y="384.57"/><use href="#gg" x="100.35" y="387.47"/><use href="#gg" x="100.59" y="386.29"/><use href="#gg" x="100.83" y="390.01"/><use href="#gg" x="101.08" y="380.71"/><use href="#gg" x="101.32" y="387.61"/><use href="#gg" x="101.56" y="388.96"/><use href="#gg" x="101.8" y="390.22"/><use href="#gg" x="102.04" y="387.58"/><use href="#gg" x="102.28" y="391.11"/><use href="#gg" x="102.52" y="388.28"/><use href="#gg" x="102.76" y="386.07"/><use href="#gg" x="103" y="388.85"/><use href="#gg" x="103.25" y="389.07"/><use href="#gg" x="103.49" y="384.28"/><use href="#gg" x="103.73" y="390.74"/><use href="#gg" x="103.97" y="386.17"/><use href="#gg" x="104.21" y="388.51"/><use href="#gg" x="104.45" y="387.69"/><use href="#gg" x="104.69" y="389.97"/><use href="#gg" x="104.93" y="388.16"/><use href="#gg" x="105.17" y="387.59"/><use href="#gg" x="105.42" y="386.65"/><use href="#gg" x="105.66" y="386.38"/><use href="#gg" x="105.9" y="390.59"/><use href="#gg" x="106.14" y="388.55"/><use href="#gg" x="106.38" y="386.07"/><use href="#gg" x="106.62" y="388.9"/><use href="#gg" x="106.86" y="389.22"/><use href="#gg" x="107.1" y="389.92"/><use href="#gg" x="107.34" y="392.67"/><use href="#gg" x="107.58" y="381.45"/><use href="#gg" x="107.83" y="385.24"/><use href="#gg" x="108.07" y="389.49"/><use href="#gg" x="108.31" y="384.44"/><use href="#gg" x="108.55" y="388.43"/><use href="#gg" x="108.79" y="388.11"/><use href="#gg" x="109.03" y="386.74"/><use href="#gg" x="109.27" y="387.54"/><use href="#gg" x="109.51" y="386.73"/><use href="#gg" x="109.75" y="387.3"/><use href="#gg" x="110" y="391.1"/><use href="#gg" x="110.24" y="387.88"/><use href="#gg" x="110.48" y="388.21"/><use href="#gg" x="110.72" y="387.9"/><use href="#gg" x="110.96" y="385.91"/><use href="#gg" x="111.2" y="387.09"/><use href="#gg" x="111.44" y="387.29"/><use href="#gg" x="111.68" y="385.97"/><use href="#gg" x="111.92" y="385.91"/><use href="#gg" x="112.17" y="386.32"/><use href="#gg" x="112.41" y="392.67"/><use href="#gg" x="112.65" y="392.67"/><use href="#gg" x="112.89" y="383.34"/><use href="#gg" x="113.13" y="387.61"/><use href="#gg" x="113.37" y="392.52"/><use href="#gg" x="113.61" y="387.24"/><use href="#gg" x="113.85" y="379.56"/><use href="#gg" x="114.09" y="389.46"/><use href="#gg" x="114.33" y="392.67"/><use href="#gg" x="114.58" y="387.84"/><use href="#gg" x="114.82" y="384.49"/><use href="#gg" x="115.06" y="384.56"/><use href="#gg" x="115.3" y="386.58"/><use href="#gg" x="115.54" y="387.97"/><use href="#gg" x="115.78" y="390.33"/><use href="#gg" x="116.02" y="388.79"/><use href="#gg" x="116.26" y="391.04"/><use href="#gg" x="116.5" y="387.79"/><use href="#gg" x="116.75" y="389.86"/><use href="#gg" x="116.99" y="387.17"/><use href="#gg" x="117.23" y="382.95"/><use href="#gg" x="117.47" y="387.78"/><use href="#gg" x="117.71" y="387.72"/><use href="#gg" x="117.95" y="388.47"/><use href="#gg" x="118.19" y="386.81"/><use href="#gg" x="118.43" y="389.09"/><use href="#gg" x="118.67" y="389.99"/><rect x="34.3" y="358.5" width="296.7" height="110.9" fill="none" stroke="#222" stroke-width="1.1"/><line x1="31.5" y1="469.4" x2="34.3" y2="469.4" stroke="#222" stroke-width="1"/><text transform="translate(30,473.2) scale(0.93,1)" font-size="10.0" fill="#1a1a1a" text-anchor="end">0.0</text><line x1="31.5" y1="449.34" x2="34.3" y2="449.34" stroke="#222" stroke-width="1"/><text transform="translate(30,453.14) scale(0.93,1)" font-size="10.0" fill="#1a1a1a" text-anchor="end">0.2</text><line x1="31.5" y1="429.28" x2="34.3" y2="429.28" stroke="#222" stroke-width="1"/><text transform="translate(30,433.08) scale(0.93,1)" font-size="10.0" fill="#1a1a1a" text-anchor="end">0.4</text><line x1="31.5" y1="409.22" x2="34.3" y2="409.22" stroke="#222" stroke-width="1"/><text transform="translate(30,413.02) scale(0.93,1)" font-size="10.0" fill="#1a1a1a" text-anchor="end">0.6</text><line x1="31.5" y1="389.16" x2="34.3" y2="389.16" stroke="#222" stroke-width="1"/><text transform="translate(30,392.96) scale(0.93,1)" font-size="10.0" fill="#1a1a1a" text-anchor="end">0.8</text><line x1="31.5" y1="369.1" x2="34.3" y2="369.1" stroke="#222" stroke-width="1"/><text transform="translate(30,372.9) scale(0.93,1)" font-size="10.0" fill="#1a1a1a" text-anchor="end">1.0</text><line x1="32.7" y1="459.37" x2="34.3" y2="459.37" stroke="#222" stroke-width="1"/><line x1="32.7" y1="439.31" x2="34.3" y2="439.31" stroke="#222" stroke-width="1"/><line x1="32.7" y1="419.25" x2="34.3" y2="419.25" stroke="#222" stroke-width="1"/><line x1="32.7" y1="399.19" x2="34.3" y2="399.19" stroke="#222" stroke-width="1"/><line x1="32.7" y1="379.13" x2="34.3" y2="379.13" stroke="#222" stroke-width="1"/><line x1="34.3" y1="469.4" x2="34.3" y2="472.2" stroke="#222" stroke-width="1"/><text transform="translate(34.3,480.5) scale(0.93,1)" font-size="10.0" fill="#1a1a1a" text-anchor="middle">0</text><line x1="71.39" y1="469.4" x2="71.39" y2="472.2" stroke="#222" stroke-width="1"/><text transform="translate(71.39,480.5) scale(0.93,1)" font-size="10.0" fill="#1a1a1a" text-anchor="middle">200</text><line x1="108.47" y1="469.4" x2="108.47" y2="472.2" stroke="#222" stroke-width="1"/><text transform="translate(108.47,480.5) scale(0.93,1)" font-size="10.0" fill="#1a1a1a" text-anchor="middle">400</text><line x1="145.56" y1="469.4" x2="145.56" y2="472.2" stroke="#222" stroke-width="1"/><text transform="translate(145.56,480.5) scale(0.93,1)" font-size="10.0" fill="#1a1a1a" text-anchor="middle">600</text><line x1="182.65" y1="469.4" x2="182.65" y2="472.2" stroke="#222" stroke-width="1"/><text transform="translate(182.65,480.5) scale(0.93,1)" font-size="10.0" fill="#1a1a1a" text-anchor="middle">800</text><line x1="219.74" y1="469.4" x2="219.74" y2="472.2" stroke="#222" stroke-width="1"/><text transform="translate(219.74,480.5) scale(0.93,1)" font-size="10.0" fill="#1a1a1a" text-anchor="middle">1000</text><line x1="256.82" y1="469.4" x2="256.82" y2="472.2" stroke="#222" stroke-width="1"/><text transform="translate(256.82,480.5) scale(0.93,1)" font-size="10.0" fill="#1a1a1a" text-anchor="middle">1200</text><line x1="293.91" y1="469.4" x2="293.91" y2="472.2" stroke="#222" stroke-width="1"/><text transform="translate(293.91,480.5) scale(0.93,1)" font-size="10.0" fill="#1a1a1a" text-anchor="middle">1400</text><line x1="331" y1="469.4" x2="331" y2="472.2" stroke="#222" stroke-width="1"/><text transform="translate(331,480.5) scale(0.93,1)" font-size="10.0" fill="#1a1a1a" text-anchor="middle">1600</text><line x1="52.84" y1="469.4" x2="52.84" y2="471" stroke="#222" stroke-width="1"/><line x1="89.93" y1="469.4" x2="89.93" y2="471" stroke="#222" stroke-width="1"/><line x1="127.02" y1="469.4" x2="127.02" y2="471" stroke="#222" stroke-width="1"/><line x1="164.11" y1="469.4" x2="164.11" y2="471" stroke="#222" stroke-width="1"/><line x1="201.19" y1="469.4" x2="201.19" y2="471" stroke="#222" stroke-width="1"/><line x1="238.28" y1="469.4" x2="238.28" y2="471" stroke="#222" stroke-width="1"/><line x1="275.37" y1="469.4" x2="275.37" y2="471" stroke="#222" stroke-width="1"/><line x1="312.46" y1="469.4" x2="312.46" y2="471" stroke="#222" stroke-width="1"/><text x="188.7" y="496" font-size="14.2" fill="#1a1a1a" text-anchor="middle">Time (h)</text><text transform="translate(14.9,408.6) rotate(-90)" font-size="15.2" fill="#1a1a1a" text-anchor="middle">Nor. PCE</text><use href="#gb" x="58" y="430.4" transform="translate(0,0)"/><text x="71.6" y="434.4" font-size="11.3" fill="#1a1a1a" text-anchor="start">1-BP</text><use href="#gg" x="58" y="445.6"/><text x="71.6" y="449.6" font-size="11.4" fill="#1a1a1a" text-anchor="start">Control</text><text x="93.8" y="409.0" font-size="11.6" fill="#acacac"><tspan font-style="italic">T</tspan><tspan font-size="7.3" dy="2.6" dx="-0.2">80</tspan><tspan dy="-2.6" dx="1.2">~ 400 h</tspan></text><text x="263.6" y="403.4" font-size="11.6" fill="#6b9dcb"><tspan font-style="italic">T</tspan><tspan font-size="7.3" dy="2.6" dx="-0.2">90</tspan><tspan dy="-2.6" dx="1.2">~ 1500 h</tspan></text><circle cx="225.0" cy="437.4" r="4.1" fill="#c9982c"/><path d="M233.6 437.4L229.73 439.25L229.73 435.55ZM231.08 443.48L227.2 441.99L229.49 439.37ZM225 446L223.38 442.04L226.62 442.04ZM218.92 443.48L220.51 439.37L222.8 441.99ZM216.4 437.4L220.27 435.55L220.27 439.25ZM218.92 431.32L222.8 432.81L220.51 435.43ZM225 428.8L226.62 432.76L223.38 432.76ZM231.08 431.32L229.49 435.43L227.2 432.81Z" fill="#c9982c"/><rect x="228.6" y="429.5" width="7.4" height="19" fill="#fff"/><path d="M230.6 442.6V432.6A1.7 1.7 0 0 1 234 432.6V442.6A3.4 3.4 0 1 1 230.6 442.6Z" fill="#fff" stroke="#c9982c" stroke-width="1.15"/><line x1="232.3" y1="433.4" x2="232.3" y2="445.2" stroke="#c9982c" stroke-width="0.9"/><text x="238.6" y="444.8" font-size="11.8" font-weight="bold" fill="#c9982c" letter-spacing="-0.2">65°C</text><circle cx="282.1" cy="438.5" r="9.15" fill="none" stroke="#3f62ad" stroke-width="1.35"/><g transform="translate(282.1,438.5) rotate(45)"><path d="M-1.7 1.6V-6.4A1.7 1.7 0 0 1 1.7 -6.4V1.6A3.2 3.2 0 1 1 -1.7 1.6Z" fill="#8ea4d2" stroke="#3f62ad" stroke-width="1.0"/><path d="M-1.6 -5h3.2M-1.6 -3.2h3.2M-1.6 -1.4h3.2M-1.6 0.4h3.2" stroke="#fff" stroke-width="0.45"/><circle cx="0" cy="4.4" r="2.2" fill="#3f62ad" opacity="0.85"/></g><path d="M285.5 438.7C286.7 440.3 287.7 441.5 287.1 442.9C286.5 444.1 284.7 444.1 284.1 442.9C283.7 441.7 284.7 440.1 285.5 438.7Z" fill="#3f62ad"/><text x="295.2" y="444.8" font-size="11.8" font-weight="bold" fill="#3f62ad">50%</text><text x="343.6" y="365.9" font-size="18.3" fill="#000" text-anchor="start">h</text><polyline points="376.6,364.5 396,367.4 408,366.2 423.7,368.9 435.4,367.8 439.3,369.9 459,370.3 482.9,376.1 490.8,376.8 506.9,378.6 518.6,377.8 537.9,381.3 557.8,389.2 589.7,393.5 621.5,396.1 644.9,399.7" fill="none" stroke="#b4b4b4" stroke-width="0.9" stroke-linejoin="round"/><circle cx="376.6" cy="364.5" r="2.2" fill="url(#mg)" stroke="#a6a6a6" stroke-width="0.6"/><circle cx="396" cy="367.4" r="2.2" fill="url(#mg)" stroke="#a6a6a6" stroke-width="0.6"/><circle cx="408" cy="366.2" r="2.2" fill="url(#mg)" stroke="#a6a6a6" stroke-width="0.6"/><circle cx="423.7" cy="368.9" r="2.2" fill="url(#mg)" stroke="#a6a6a6" stroke-width="0.6"/><circle cx="435.4" cy="367.8" r="2.2" fill="url(#mg)" stroke="#a6a6a6" stroke-width="0.6"/><circle cx="439.3" cy="369.9" r="2.2" fill="url(#mg)" stroke="#a6a6a6" stroke-width="0.6"/><circle cx="459" cy="370.3" r="2.2" fill="url(#mg)" stroke="#a6a6a6" stroke-width="0.6"/><circle cx="482.9" cy="376.1" r="2.2" fill="url(#mg)" stroke="#a6a6a6" stroke-width="0.6"/><circle cx="490.8" cy="376.8" r="2.2" fill="url(#mg)" stroke="#a6a6a6" stroke-width="0.6"/><circle cx="506.9" cy="378.6" r="2.2" fill="url(#mg)" stroke="#a6a6a6" stroke-width="0.6"/><circle cx="518.6" cy="377.8" r="2.2" fill="url(#mg)" stroke="#a6a6a6" stroke-width="0.6"/><circle cx="537.9" cy="381.3" r="2.2" fill="url(#mg)" stroke="#a6a6a6" stroke-width="0.6"/><circle cx="557.8" cy="389.2" r="2.2" fill="url(#mg)" stroke="#a6a6a6" stroke-width="0.6"/><circle cx="589.7" cy="393.5" r="2.2" fill="url(#mg)" stroke="#a6a6a6" stroke-width="0.6"/><circle cx="621.5" cy="396.1" r="2.2" fill="url(#mg)" stroke="#a6a6a6" stroke-width="0.6"/><circle cx="644.9" cy="399.7" r="2.2" fill="url(#mg)" stroke="#a6a6a6" stroke-width="0.6"/><polyline points="376.6,364.5 396,364.8 408,365.7 423.7,366.1 435.4,366.7 439.3,367.4 459,366.2 482.9,367.9 490.8,368.4 506.9,368.9 518.6,372.1 537.9,372.9 557.8,370.1 589.7,373.9 621.5,376.9 644.9,378.4" fill="none" stroke="#5f9bd0" stroke-width="0.9" stroke-linejoin="round"/><circle cx="376.6" cy="364.5" r="2.2" fill="url(#mb)" stroke="#5a94c8" stroke-width="0.6"/><circle cx="396" cy="364.8" r="2.2" fill="url(#mb)" stroke="#5a94c8" stroke-width="0.6"/><circle cx="408" cy="365.7" r="2.2" fill="url(#mb)" stroke="#5a94c8" stroke-width="0.6"/><circle cx="423.7" cy="366.1" r="2.2" fill="url(#mb)" stroke="#5a94c8" stroke-width="0.6"/><circle cx="435.4" cy="366.7" r="2.2" fill="url(#mb)" stroke="#5a94c8" stroke-width="0.6"/><circle cx="439.3" cy="367.4" r="2.2" fill="url(#mb)" stroke="#5a94c8" stroke-width="0.6"/><circle cx="459" cy="366.2" r="2.2" fill="url(#mb)" stroke="#5a94c8" stroke-width="0.6"/><circle cx="482.9" cy="367.9" r="2.2" fill="url(#mb)" stroke="#5a94c8" stroke-width="0.6"/><circle cx="490.8" cy="368.4" r="2.2" fill="url(#mb)" stroke="#5a94c8" stroke-width="0.6"/><circle cx="506.9" cy="368.9" r="2.2" fill="url(#mb)" stroke="#5a94c8" stroke-width="0.6"/><circle cx="518.6" cy="372.1" r="2.2" fill="url(#mb)" stroke="#5a94c8" stroke-width="0.6"/><circle cx="537.9" cy="372.9" r="2.2" fill="url(#mb)" stroke="#5a94c8" stroke-width="0.6"/><circle cx="557.8" cy="370.1" r="2.2" fill="url(#mb)" stroke="#5a94c8" stroke-width="0.6"/><circle cx="589.7" cy="373.9" r="2.2" fill="url(#mb)" stroke="#5a94c8" stroke-width="0.6"/><circle cx="621.5" cy="376.9" r="2.2" fill="url(#mb)" stroke="#5a94c8" stroke-width="0.6"/><circle cx="644.9" cy="378.4" r="2.2" fill="url(#mb)" stroke="#5a94c8" stroke-width="0.6"/><rect x="376.3" y="359.2" width="296.7" height="111.1" fill="none" stroke="#222" stroke-width="1.1"/><line x1="373.5" y1="470.3" x2="376.3" y2="470.3" stroke="#222" stroke-width="1"/><text transform="translate(372.3,474.1) scale(0.93,1)" font-size="10.0" fill="#1a1a1a" text-anchor="end">0.0</text><line x1="373.5" y1="449.1" x2="376.3" y2="449.1" stroke="#222" stroke-width="1"/><text transform="translate(372.3,452.9) scale(0.93,1)" font-size="10.0" fill="#1a1a1a" text-anchor="end">0.2</text><line x1="373.5" y1="427.9" x2="376.3" y2="427.9" stroke="#222" stroke-width="1"/><text transform="translate(372.3,431.7) scale(0.93,1)" font-size="10.0" fill="#1a1a1a" text-anchor="end">0.4</text><line x1="373.5" y1="406.7" x2="376.3" y2="406.7" stroke="#222" stroke-width="1"/><text transform="translate(372.3,410.5) scale(0.93,1)" font-size="10.0" fill="#1a1a1a" text-anchor="end">0.6</text><line x1="373.5" y1="385.5" x2="376.3" y2="385.5" stroke="#222" stroke-width="1"/><text transform="translate(372.3,389.3) scale(0.93,1)" font-size="10.0" fill="#1a1a1a" text-anchor="end">0.8</text><line x1="373.5" y1="364.3" x2="376.3" y2="364.3" stroke="#222" stroke-width="1"/><text transform="translate(372.3,368.1) scale(0.93,1)" font-size="10.0" fill="#1a1a1a" text-anchor="end">1.0</text><line x1="374.7" y1="459.7" x2="376.3" y2="459.7" stroke="#222" stroke-width="1"/><line x1="374.7" y1="438.5" x2="376.3" y2="438.5" stroke="#222" stroke-width="1"/><line x1="374.7" y1="417.3" x2="376.3" y2="417.3" stroke="#222" stroke-width="1"/><line x1="374.7" y1="396.1" x2="376.3" y2="396.1" stroke="#222" stroke-width="1"/><line x1="374.7" y1="374.9" x2="376.3" y2="374.9" stroke="#222" stroke-width="1"/><line x1="376.3" y1="470.3" x2="376.3" y2="473.1" stroke="#222" stroke-width="1"/><text transform="translate(376.3,481.4) scale(0.93,1)" font-size="10.0" fill="#1a1a1a" text-anchor="middle">0</text><line x1="425.89" y1="470.3" x2="425.89" y2="473.1" stroke="#222" stroke-width="1"/><text transform="translate(425.89,481.4) scale(0.93,1)" font-size="10.0" fill="#1a1a1a" text-anchor="middle">300</text><line x1="475.48" y1="470.3" x2="475.48" y2="473.1" stroke="#222" stroke-width="1"/><text transform="translate(475.48,481.4) scale(0.93,1)" font-size="10.0" fill="#1a1a1a" text-anchor="middle">600</text><line x1="525.07" y1="470.3" x2="525.07" y2="473.1" stroke="#222" stroke-width="1"/><text transform="translate(525.07,481.4) scale(0.93,1)" font-size="10.0" fill="#1a1a1a" text-anchor="middle">900</text><line x1="574.66" y1="470.3" x2="574.66" y2="473.1" stroke="#222" stroke-width="1"/><text transform="translate(574.66,481.4) scale(0.93,1)" font-size="10.0" fill="#1a1a1a" text-anchor="middle">1200</text><line x1="624.25" y1="470.3" x2="624.25" y2="473.1" stroke="#222" stroke-width="1"/><text transform="translate(624.25,481.4) scale(0.93,1)" font-size="10.0" fill="#1a1a1a" text-anchor="middle">1500</text><line x1="673.84" y1="470.3" x2="673.84" y2="473.1" stroke="#222" stroke-width="1"/><text transform="translate(673.84,481.4) scale(0.93,1)" font-size="10.0" fill="#1a1a1a" text-anchor="middle">1800</text><line x1="401.1" y1="470.3" x2="401.1" y2="471.9" stroke="#222" stroke-width="1"/><line x1="450.69" y1="470.3" x2="450.69" y2="471.9" stroke="#222" stroke-width="1"/><line x1="500.28" y1="470.3" x2="500.28" y2="471.9" stroke="#222" stroke-width="1"/><line x1="549.87" y1="470.3" x2="549.87" y2="471.9" stroke="#222" stroke-width="1"/><line x1="599.46" y1="470.3" x2="599.46" y2="471.9" stroke="#222" stroke-width="1"/><line x1="649.05" y1="470.3" x2="649.05" y2="471.9" stroke="#222" stroke-width="1"/><text x="530.4" y="493.7" font-size="14.2" fill="#1a1a1a" text-anchor="middle">Time (h)</text><text transform="translate(354.9,408.2) rotate(-90)" font-size="15.1" fill="#1a1a1a" text-anchor="middle">Nor. PCE</text><line x1="392.8" y1="433.9" x2="411" y2="433.9" stroke="#5f9bd0" stroke-width="0.9"/><circle cx="401.9" cy="433.9" r="1.9" fill="url(#mb)" stroke="#5a94c8" stroke-width="0.6"/><text x="414.7" y="437.9" font-size="11.3" fill="#1a1a1a" text-anchor="start">1-BP</text><line x1="392.8" y1="446.6" x2="411" y2="446.6" stroke="#b4b4b4" stroke-width="0.9"/><circle cx="401.9" cy="446.6" r="1.9" fill="url(#mg)" stroke="#a6a6a6" stroke-width="0.6"/><text x="414.7" y="450.6" font-size="11.4" fill="#1a1a1a" text-anchor="start">Control</text><text x="643.4" y="372.6" font-size="11.8" fill="#6b9dcb"><tspan font-style="italic">T</tspan><tspan font-size="7.4" dy="2.1" dx="-1.3">87</tspan></text><text x="642.4" y="394.9" font-size="11.8" fill="#b0b0b0"><tspan font-style="italic">T</tspan><tspan font-size="7.4" dy="1.8" dx="-1.3">66</tspan></text><path d="M566.5 444V434.1A1.7 1.7 0 0 1 569.9 434.1V444A3.4 3.4 0 1 1 566.5 444Z" fill="#fff" stroke="#c9982c" stroke-width="1.15"/><line x1="568.2" y1="434.9" x2="568.2" y2="446.6" stroke="#c9982c" stroke-width="0.9"/><text x="575.0" y="445.9" font-size="11.8" font-weight="bold" fill="#c9982c" letter-spacing="-0.2">85°C</text><circle cx="618.2" cy="439.2" r="9.15" fill="none" stroke="#3f62ad" stroke-width="1.35"/><g transform="translate(618.2,439.2) rotate(45)"><path d="M-1.7 1.6V-6.4A1.7 1.7 0 0 1 1.7 -6.4V1.6A3.2 3.2 0 1 1 -1.7 1.6Z" fill="#8ea4d2" stroke="#3f62ad" stroke-width="1.0"/><path d="M-1.6 -5h3.2M-1.6 -3.2h3.2M-1.6 -1.4h3.2M-1.6 0.4h3.2" stroke="#fff" stroke-width="0.45"/><circle cx="0" cy="4.4" r="2.2" fill="#3f62ad" opacity="0.85"/></g><path d="M621.6 439.4C622.8 441 623.8 442.2 623.2 443.6C622.6 444.8 620.8 444.8 620.2 443.6C619.8 442.4 620.8 440.8 621.6 439.4Z" fill="#3f62ad"/><text x="631.6" y="445.9" font-size="11.8" font-weight="bold" fill="#3f62ad">85%</text>
</svg>
</body></html>
